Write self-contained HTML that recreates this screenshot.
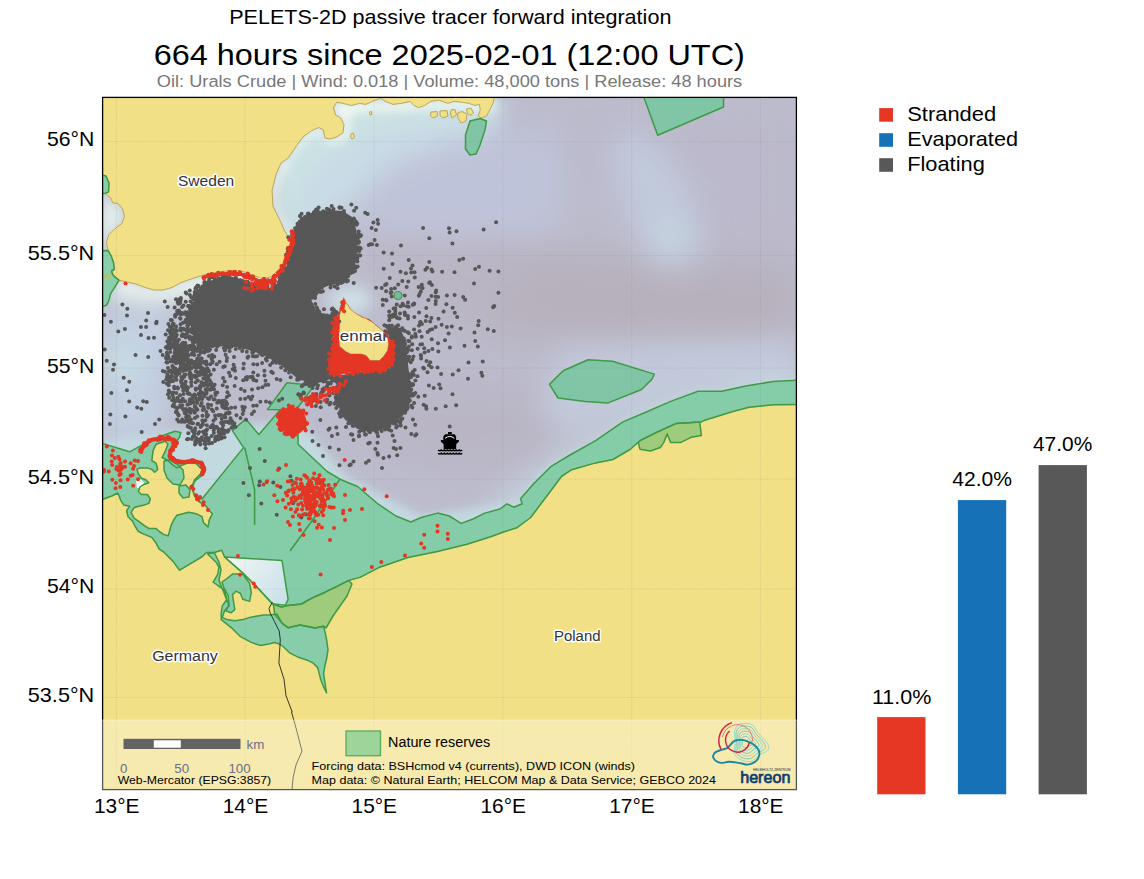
<!DOCTYPE html>
<html><head><meta charset="utf-8"><title>PELETS-2D</title>
<style>html,body{margin:0;padding:0;background:#fff;overflow:hidden;}svg{display:block;}</style>
</head><body>
<svg width="1144" height="879" viewBox="0 0 1144 879" font-family='"Liberation Sans", sans-serif'>
<rect width="100%" height="100%" fill="#fff"/>
<text x="229.2" y="23.8" font-size="19.8" fill="#000" text-anchor="start" textLength="442.2" lengthAdjust="spacingAndGlyphs" >PELETS-2D passive tracer forward integration</text>
<text x="153.7" y="65.2" font-size="30.4" fill="#000" text-anchor="start" textLength="591.2" lengthAdjust="spacingAndGlyphs" >664 hours since 2025-02-01 (12:00 UTC)</text>
<text x="156.8" y="86.6" font-size="16.3" fill="#777" text-anchor="start" textLength="585.4" lengthAdjust="spacingAndGlyphs" >Oil: Urals Crude | Wind: 0.018 | Volume: 48,000 tons | Release: 48 hours</text>
<defs><filter id="blur20" x="-50%" y="-50%" width="200%" height="200%"><feGaussianBlur stdDeviation="20"/></filter><filter id="blur14" x="-50%" y="-50%" width="200%" height="200%"><feGaussianBlur stdDeviation="14"/></filter><filter id="blur8" x="-50%" y="-50%" width="200%" height="200%"><feGaussianBlur stdDeviation="8"/></filter><filter id="blur4" x="-50%" y="-50%" width="200%" height="200%"><feGaussianBlur stdDeviation="4"/></filter><clipPath id="mapclip"><rect x="102.5" y="97.5" width="694" height="692"/></clipPath></defs>
<g clip-path="url(#mapclip)">
<rect x="100" y="95" width="700" height="700" fill="#bcbccd"/>
<g filter="url(#blur20)">
<polygon points="430,245 560,250 800,265 800,350 700,352 600,345 520,338 430,322" fill="#b7b1bc"/>
<polygon points="560,120 800,105 800,265 720,250 650,205 585,175" fill="#bbb9cb"/>
<polygon points="365,395 470,382 560,398 600,420 560,452 480,468 400,460 360,440" fill="#b9b5c4"/>
<polygon points="380,200 480,200 540,250 480,320 400,300 370,260" fill="#bab6c4"/>
</g>
<g filter="url(#blur14)">
<polygon points="360,140 560,130 560,230 440,240 360,230" fill="#bfc3d9"/>
<polygon points="280,100 500,100 500,128 440,145 390,165 360,195 330,235 300,258 280,258" fill="#c9dce6"/>
<polygon points="615,130 650,135 690,185 705,245 685,270 650,262 628,215 610,165" fill="#c1c9dc"/>
<circle cx="670" cy="236" r="13" fill="#c8dbe2"/>
<polygon points="100,305 175,300 165,440 100,440" fill="#c3d0e2"/>
<ellipse cx="118" cy="362" rx="20" ry="14" fill="#c8e2e4"/>
<polygon points="480,520 560,455 650,405 800,372 800,394 700,402 620,432 560,472 505,532" fill="#c8dce2"/>
<polygon points="560,350 640,345 800,338 800,372 650,398 590,425 560,440 540,400" fill="#c2c9dc"/>
</g>
<g filter="url(#blur8)">
<polygon points="292,245 290,225 282,205 276,185 280,165 292,150 305,135 320,128 333,136 343,130 336,112 337,100 500,100 495,118 470,120 440,122 400,125 370,130 352,142 332,152 316,165 302,185 298,205 300,225 300,245" fill="#cbe2e3"/>
<polygon points="110,282 160,292 200,279 240,272 275,278 290,250 300,255 285,285 250,295 200,298 150,305 112,300" fill="#e0eeea"/>
<polygon points="100,192 118,202 128,218 116,232 108,246 106,252 100,252" fill="#e6f2ee"/>
<ellipse cx="350" cy="300" rx="22" ry="13" fill="#d0e2e8"/>
</g>
<g filter="url(#blur4)">
<polygon points="290.5,240 285,231.5 279.8,220 273,206.5 272,190.6 276,174.6 281,163 288.4,158 296.8,145.3 303,137 311.5,130.7 318.8,127.5 323,129.6 325,138 330.3,139 336.6,137 343,132.8 344,124.4 340.8,118 335.6,115 333.5,107.6 336.6,102.3 495,100 495,110 470,110 440,109 400,111 362,112 350,116 350,136 340,143 328,144 318,134 312,137 304,144 297,152 288,165 281,178 277,192 278,206 284,219 290,231 294,240" fill="#eef6f1"/>
<polygon points="118,281 160,291 200,277 240,271 270,279 262,286 230,282 200,286 160,297 120,290" fill="#ecf4ef"/>
</g>
<g filter="url(#blur4)">
<polygon points="100,440 180,430 240,425 300,420 345,475 420,515 500,505 520,503 534,483 551,466 568,456 595,440 623,422 647,412 671,401 698,391 722,391 746,386 773,381.6 800,380 800,800 100,800" fill="#c2d9e0"/>
</g>
<polygon points="643.0,95.0 723.5,95.0 723.5,107.0 657.7,135.3" fill="#b8d6d2" />
<polygon points="470.0,121.0 480.0,118.5 486.5,121.0 485.0,130.0 480.0,145.0 476.0,154.0 470.0,155.0 465.5,149.0 465.5,135.0" fill="#b8d6d2" />
<polygon points="549.5,384.4 563.1,370.7 588.0,359.8 612.6,361.2 654.3,374.1 651.9,379.2 641.6,389.5 607.5,403.1 585.3,401.4 558.0,398.0" fill="#b8d6d2" />
<polygon points="267.4,409.6 287.0,382.8 314.3,385.4 296.0,410.0" fill="#b8d6d2" />
<polygon points="100.0,442.7 129.6,451.8 152.3,439.3 175.0,431.3 180.8,432.4 179.6,437.0 176.0,442.0 171.0,450.0 170.0,456.0 174.0,460.5 182.8,462.0 194.6,461.2 202.0,463.4 204.3,469.4 202.0,475.3 195.0,481.0 192.0,488.0 195.0,496.0 202.0,499.0 243.5,447.6 232.4,430.6 245.7,419.1 258.9,434.5 280.0,410.0 298.0,410.0 298.1,444.2 327.1,471.5 340.0,479.2 357.6,486.5 378.3,504.2 396.0,516.0 410.8,522.0 421.2,517.5 437.5,513.1 449.3,516.0 461.1,523.4 473.0,519.0 484.8,513.1 500.0,509.0 506.8,503.8 513.7,507.2 522.2,503.8 520.5,498.7 534.1,483.3 551.2,466.3 568.3,456.0 595.6,440.7 622.9,421.9 646.8,411.7 670.6,401.4 698.0,391.2 721.8,391.2 745.7,386.0 773.0,381.6 800.0,380.0 800.0,404.5 773.0,404.8 749.1,407.2 732.1,411.7 704.8,420.2 701.4,421.9 675.8,423.6 657.0,432.1 640.0,440.7 630.0,449.5 613.0,459.5 595.6,462.9 571.7,469.7 561.4,476.5 551.2,490.2 541.0,503.8 530.7,517.5 517.0,527.7 505.0,531.5 490.7,536.8 467.0,544.2 437.5,551.5 407.9,557.5 378.3,567.8 360.0,577.4 348.8,580.4 337.0,586.3 325.1,592.2 311.8,598.1 301.4,604.0 288.1,605.5 281.5,607.1 272.4,603.7 258.7,589.0 242.8,573.0 224.6,557.0 221.7,550.2 214.3,552.5 206.4,552.5 202.4,556.5 191.0,563.3 179.6,570.2 172.8,561.1 163.7,552.0 159.2,549.2 156.2,543.3 151.8,537.4 144.4,534.4 138.4,531.5 135.5,527.0 132.5,521.1 128.1,516.7 126.6,510.8 129.6,506.3 123.7,504.9 120.7,500.4 119.2,496.0 117.7,493.0 111.8,496.0 100.0,500.4" fill="#bfe2d6" />
<polygon points="100.0,250.8 108.0,250.4 111.2,255.9 113.5,262.3 114.3,269.5 112.0,270.3 111.6,271.9 113.5,275.9 119.1,280.2 114.3,287.8 110.4,294.2 108.8,300.6 106.4,305.3 100.0,307.3" fill="#c8e6dc" />
<polygon points="100.0,174.5 106.0,176.0 109.0,183.0 108.5,192.0 104.0,193.6 100.0,193.0" fill="#c8e6dc" />
<polygon points="643.0,95.0 723.5,95.0 723.5,107.0 657.7,135.3" fill="#3cb371" fill-opacity="0.45"/>
<polygon points="470.0,121.0 480.0,118.5 486.5,121.0 485.0,130.0 480.0,145.0 476.0,154.0 470.0,155.0 465.5,149.0 465.5,135.0" fill="#3cb371" fill-opacity="0.45"/>
<polygon points="549.5,384.4 563.1,370.7 588.0,359.8 612.6,361.2 654.3,374.1 651.9,379.2 641.6,389.5 607.5,403.1 585.3,401.4 558.0,398.0" fill="#3cb371" fill-opacity="0.45"/>
<polygon points="267.4,409.6 287.0,382.8 314.3,385.4 296.0,410.0" fill="#3cb371" fill-opacity="0.45"/>
<polygon points="100.0,442.7 129.6,451.8 152.3,439.3 175.0,431.3 180.8,432.4 179.6,437.0 176.0,442.0 171.0,450.0 170.0,456.0 174.0,460.5 182.8,462.0 194.6,461.2 202.0,463.4 204.3,469.4 202.0,475.3 195.0,481.0 192.0,488.0 195.0,496.0 202.0,499.0 243.5,447.6 232.4,430.6 245.7,419.1 258.9,434.5 280.0,410.0 298.0,410.0 298.1,444.2 327.1,471.5 340.0,479.2 357.6,486.5 378.3,504.2 396.0,516.0 410.8,522.0 421.2,517.5 437.5,513.1 449.3,516.0 461.1,523.4 473.0,519.0 484.8,513.1 500.0,509.0 506.8,503.8 513.7,507.2 522.2,503.8 520.5,498.7 534.1,483.3 551.2,466.3 568.3,456.0 595.6,440.7 622.9,421.9 646.8,411.7 670.6,401.4 698.0,391.2 721.8,391.2 745.7,386.0 773.0,381.6 800.0,380.0 800.0,404.5 773.0,404.8 749.1,407.2 732.1,411.7 704.8,420.2 701.4,421.9 675.8,423.6 657.0,432.1 640.0,440.7 630.0,449.5 613.0,459.5 595.6,462.9 571.7,469.7 561.4,476.5 551.2,490.2 541.0,503.8 530.7,517.5 517.0,527.7 505.0,531.5 490.7,536.8 467.0,544.2 437.5,551.5 407.9,557.5 378.3,567.8 360.0,577.4 348.8,580.4 337.0,586.3 325.1,592.2 311.8,598.1 301.4,604.0 288.1,605.5 281.5,607.1 272.4,603.7 258.7,589.0 242.8,573.0 224.6,557.0 221.7,550.2 214.3,552.5 206.4,552.5 202.4,556.5 191.0,563.3 179.6,570.2 172.8,561.1 163.7,552.0 159.2,549.2 156.2,543.3 151.8,537.4 144.4,534.4 138.4,531.5 135.5,527.0 132.5,521.1 128.1,516.7 126.6,510.8 129.6,506.3 123.7,504.9 120.7,500.4 119.2,496.0 117.7,493.0 111.8,496.0 100.0,500.4" fill="#3cb371" fill-opacity="0.45"/>
<polygon points="100.0,250.8 108.0,250.4 111.2,255.9 113.5,262.3 114.3,269.5 112.0,270.3 111.6,271.9 113.5,275.9 119.1,280.2 114.3,287.8 110.4,294.2 108.8,300.6 106.4,305.3 100.0,307.3" fill="#3cb371" fill-opacity="0.45"/>
<polygon points="100.0,174.5 106.0,176.0 109.0,183.0 108.5,192.0 104.0,193.6 100.0,193.0" fill="#3cb371" fill-opacity="0.45"/>
<polygon points="102.0,95.0 495.0,95.0 493.0,103.4 489.8,109.7 486.6,116.0 481.4,118.0 478.2,116.0 480.3,109.7 479.3,104.4 475.0,105.5 468.8,103.4 462.5,102.3 454.0,101.3 447.8,103.4 439.4,100.2 431.0,101.3 424.7,105.5 418.5,107.6 414.0,105.5 410.0,101.3 401.7,103.4 393.0,104.4 385.0,101.3 380.7,98.1 378.6,99.2 372.3,101.3 366.0,104.4 359.7,103.4 351.3,105.5 343.0,103.4 336.6,102.3 333.5,107.6 335.6,115.0 340.8,118.0 344.0,124.4 343.0,132.8 336.6,137.0 330.3,139.0 325.0,138.0 323.0,129.6 318.8,127.5 311.5,130.7 303.0,137.0 296.8,145.3 288.4,158.0 281.0,163.0 276.0,174.6 272.0,190.6 273.0,206.5 279.8,220.0 285.0,231.5 290.5,240.0 290.0,250.0 285.0,260.0 279.0,269.0 271.0,277.0 262.0,278.5 255.0,276.0 245.0,272.0 235.0,270.5 220.0,271.5 207.0,274.0 194.0,278.0 181.0,282.5 172.0,287.5 163.0,290.0 154.0,290.0 145.0,287.5 136.0,284.0 127.0,282.0 119.1,280.2 116.0,277.5 112.0,272.7 114.3,269.5 113.5,262.3 111.2,255.9 108.0,250.4 106.4,241.8 109.0,234.5 114.5,229.0 121.8,223.6 124.5,216.4 122.7,209.0 118.2,203.6 112.7,202.7 110.9,198.2 105.5,193.6 108.5,192.0 109.0,183.0 106.0,176.0 100.0,174.5" fill="#f1e086" stroke="#b9a75e" stroke-width="1" stroke-linejoin="round"/>
<polygon points="431.0,112.0 437.0,111.5 437.5,116.0 433.0,118.0 430.5,116.0" fill="#f1e086" stroke="#b9a75e" stroke-width="1" stroke-linejoin="round"/>
<polygon points="440.0,111.0 447.0,110.5 448.0,116.0 443.0,118.0 440.0,115.5" fill="#f1e086" stroke="#b9a75e" stroke-width="1" stroke-linejoin="round"/>
<polygon points="451.0,110.0 455.0,109.5 456.5,115.0 452.0,118.0 450.5,114.0" fill="#f1e086" stroke="#b9a75e" stroke-width="1" stroke-linejoin="round"/>
<polygon points="457.5,113.0 462.0,111.5 467.0,114.0 466.0,121.0 461.0,123.0 458.0,118.0" fill="#f1e086" stroke="#b9a75e" stroke-width="1" stroke-linejoin="round"/>
<polygon points="466.5,109.0 471.0,108.0 473.5,113.0 470.0,115.5 467.5,113.0" fill="#f1e086" stroke="#b9a75e" stroke-width="1" stroke-linejoin="round"/>
<polygon points="351.0,134.0 353.5,133.0 354.5,137.5 352.0,139.0 350.5,137.0" fill="#f1e086" stroke="#b9a75e" stroke-width="1" stroke-linejoin="round"/>
<polygon points="369.5,112.0 371.5,111.5 372.0,114.5 370.0,115.0" fill="#f1e086" stroke="#b9a75e" stroke-width="1" stroke-linejoin="round"/>
<polygon points="100.0,500.4 111.8,496.0 117.7,493.0 119.2,496.0 120.7,500.4 123.7,504.9 129.6,506.3 126.6,510.8 128.1,516.7 132.5,521.1 135.5,527.0 138.4,531.5 144.4,534.4 151.8,537.4 156.2,543.3 159.2,549.2 163.7,552.0 172.8,561.1 179.6,570.2 191.0,563.3 202.4,556.5 206.4,552.5 214.3,552.5 221.7,550.2 224.6,557.0 242.8,573.0 258.7,589.0 272.4,603.7 281.5,607.1 288.1,605.5 301.4,604.0 311.8,598.1 325.1,592.2 337.0,586.3 348.8,580.4 360.0,577.4 378.3,567.8 407.9,557.5 437.5,551.5 467.0,544.2 490.7,536.8 505.0,531.5 517.0,527.7 530.7,517.5 541.0,503.8 551.2,490.2 561.4,476.5 571.7,469.7 595.6,462.9 613.0,459.5 630.0,449.5 640.0,440.7 657.0,432.1 675.8,423.6 701.4,421.9 704.8,420.2 732.1,411.7 749.1,407.2 773.0,404.8 800.0,404.5 800.0,800.0 100.0,800.0" fill="#f1e086" stroke="#b9a75e" stroke-width="1" stroke-linejoin="round"/>
<polygon points="151.8,460.5 153.2,450.1 156.2,444.2 165.1,441.3 168.0,444.2 165.1,451.6 162.1,457.5 168.0,460.5 172.5,464.9 176.9,467.9 182.8,464.9 188.7,462.7 196.1,463.4 202.0,469.4 200.6,473.8 194.6,479.7 191.7,487.1 194.6,496.0 199.1,501.9 205.0,504.9 209.4,510.8 212.4,513.7 209.4,519.6 208.0,527.0 203.5,522.6 202.0,516.7 196.1,513.7 188.7,512.3 182.8,513.7 176.9,515.2 173.9,519.6 171.0,525.6 169.5,531.5 168.0,535.9 163.6,534.4 159.2,531.5 156.2,528.5 148.8,528.5 144.4,525.6 138.4,521.1 134.0,518.2 131.1,512.3 134.0,507.8 138.4,506.3 144.4,504.9 148.8,503.4 150.3,498.9 147.3,494.5 141.4,494.5 138.4,491.5 139.9,487.1 144.4,484.2 148.8,482.7 145.8,479.7 141.4,478.2 138.4,473.8 137.0,469.4 139.9,467.9 147.3,467.9 151.8,469.4 154.7,472.3 157.7,469.4 156.2,463.4" fill="#f1e086" stroke="#b9a75e" stroke-width="1" stroke-linejoin="round"/>
<polygon points="100.0,273.5 108.0,272.7 111.2,275.0 112.5,278.2 108.0,279.8 100.0,280.6" fill="#f1e086" />
<polygon points="343.5,297.7 345.6,301.3 350.7,309.5 355.8,313.5 363.0,317.6 369.1,319.2 372.2,321.7 375.3,324.8 380.4,328.9 383.0,331.0 387.6,338.1 388.6,344.3 387.6,350.4 383.5,356.5 379.4,360.6 370.2,360.6 366.1,355.5 361.0,354.0 350.7,354.0 345.6,351.4 339.5,346.3 338.9,338.1 339.5,325.8 339.5,315.6 341.5,307.4 343.0,300.2" fill="#f1e086" stroke="#b9a75e" stroke-width="1" stroke-linejoin="round"/>
<polygon points="207.5,554.0 214.3,552.5 219.0,562.0 221.0,570.0 219.0,580.0 222.0,588.0 226.0,598.0 229.1,606.0 224.6,610.5 222.3,617.4 226.9,619.6 234.8,620.8 242.8,619.6 249.6,617.4 263.3,615.0 269.0,615.0 276.9,614.0 282.2,623.3 288.1,627.7 300.0,625.0 315.0,628.0 323.6,626.2 325.0,632.0 326.6,639.5 328.0,649.9 326.6,658.8 325.1,664.7 323.6,673.6 325.8,688.3 326.6,692.8 323.6,686.9 320.7,679.5 319.2,673.6 317.7,667.6 313.3,663.2 307.3,660.2 298.5,657.3 289.6,652.8 283.7,647.0 279.2,644.0 274.8,642.5 268.9,644.0 260.0,645.4 251.2,642.4 240.5,636.7 232.5,628.7 226.9,624.2 221.2,619.6 221.2,612.8 222.3,606.0 226.9,599.2 224.6,590.0 217.8,585.5 213.2,582.1 217.8,574.1 218.9,567.3 216.6,562.8" fill="#87cda9" />
<polygon points="226.9,578.7 232.5,574.1 242.8,574.1 249.6,583.2 251.3,592.3 249.6,601.4 242.8,599.2 240.5,593.5 236.0,591.2 232.5,594.6 233.7,602.6 234.8,609.4 231.4,612.8 226.0,611.0 229.0,604.0 228.0,595.0 224.0,588.0 222.0,582.0" fill="#87cda9" />
<polygon points="164.0,461.0 170.0,460.0 177.0,464.0 183.0,470.0 184.0,478.0 180.0,485.0 173.0,484.0 167.0,478.0 164.0,470.0" fill="#87cda9" />
<polygon points="179.0,486.0 186.0,485.0 190.0,490.0 189.0,497.0 183.0,498.0 179.0,493.0" fill="#87cda9" />
<polygon points="136.0,481.0 141.0,479.0 144.0,483.0 142.0,488.0 137.0,488.0" fill="#f4f8f4" />
<polygon points="638.2,442.4 640.0,449.2 650.2,451.0 660.4,447.5 663.8,442.4 667.2,433.9 670.6,442.4 680.9,442.4 691.1,437.3 701.4,435.6 699.7,421.9 675.8,423.6 657.0,432.1 640.0,440.7" fill="#3cb371" fill-opacity="0.45"/>
<polygon points="273.3,604.0 288.1,605.5 301.4,604.0 311.8,598.1 325.1,592.2 337.0,586.3 348.8,580.4 352.0,584.0 347.0,596.0 340.0,606.0 333.0,616.0 326.0,628.0 323.6,626.2 315.0,628.0 300.0,625.0 288.1,627.7 282.2,623.3 274.8,614.4" fill="#3cb371" fill-opacity="0.45"/>
<polygon points="100.0,273.5 108.0,272.7 111.2,275.0 112.5,278.2 108.0,279.8 100.0,280.6" fill="#3cb371" fill-opacity="0.45"/>
<defs><linearGradient id="wh" gradientUnits="userSpaceOnUse" x1="228" y1="558" x2="288" y2="600"><stop offset="0" stop-color="#f0f7f2"/><stop offset="0.5" stop-color="#dcebee"/><stop offset="1" stop-color="#c9e0e8"/></linearGradient></defs>
<polygon points="224.6,557.0 282.0,560.5 288.1,599.4 284.9,606.0 281.5,607.1 272.4,603.7 258.7,589.0 242.8,573.0" fill="url(#wh)" />
<polygon points="643.0,95.0 723.5,95.0 723.5,107.0 657.7,135.3" fill="none" stroke="#3f9a45" stroke-width="1.5" stroke-linejoin="round"/>
<polygon points="470.0,121.0 480.0,118.5 486.5,121.0 485.0,130.0 480.0,145.0 476.0,154.0 470.0,155.0 465.5,149.0 465.5,135.0" fill="none" stroke="#3f9a45" stroke-width="1.5" stroke-linejoin="round"/>
<polygon points="549.5,384.4 563.1,370.7 588.0,359.8 612.6,361.2 654.3,374.1 651.9,379.2 641.6,389.5 607.5,403.1 585.3,401.4 558.0,398.0" fill="none" stroke="#3f9a45" stroke-width="1.5" stroke-linejoin="round"/>
<polygon points="267.4,409.6 287.0,382.8 314.3,385.4 296.0,410.0" fill="none" stroke="#3f9a45" stroke-width="1.5" stroke-linejoin="round"/>
<polygon points="100.0,442.7 129.6,451.8 152.3,439.3 175.0,431.3 180.8,432.4 179.6,437.0 176.0,442.0 171.0,450.0 170.0,456.0 174.0,460.5 182.8,462.0 194.6,461.2 202.0,463.4 204.3,469.4 202.0,475.3 195.0,481.0 192.0,488.0 195.0,496.0 202.0,499.0 243.5,447.6 232.4,430.6 245.7,419.1 258.9,434.5 280.0,410.0 298.0,410.0 298.1,444.2 327.1,471.5 340.0,479.2 357.6,486.5 378.3,504.2 396.0,516.0 410.8,522.0 421.2,517.5 437.5,513.1 449.3,516.0 461.1,523.4 473.0,519.0 484.8,513.1 500.0,509.0 506.8,503.8 513.7,507.2 522.2,503.8 520.5,498.7 534.1,483.3 551.2,466.3 568.3,456.0 595.6,440.7 622.9,421.9 646.8,411.7 670.6,401.4 698.0,391.2 721.8,391.2 745.7,386.0 773.0,381.6 800.0,380.0 800.0,404.5 773.0,404.8 749.1,407.2 732.1,411.7 704.8,420.2 701.4,421.9 675.8,423.6 657.0,432.1 640.0,440.7 630.0,449.5 613.0,459.5 595.6,462.9 571.7,469.7 561.4,476.5 551.2,490.2 541.0,503.8 530.7,517.5 517.0,527.7 505.0,531.5 490.7,536.8 467.0,544.2 437.5,551.5 407.9,557.5 378.3,567.8 360.0,577.4 348.8,580.4 337.0,586.3 325.1,592.2 311.8,598.1 301.4,604.0 288.1,605.5 281.5,607.1 272.4,603.7 258.7,589.0 242.8,573.0 224.6,557.0 221.7,550.2 214.3,552.5 206.4,552.5 202.4,556.5 191.0,563.3 179.6,570.2 172.8,561.1 163.7,552.0 159.2,549.2 156.2,543.3 151.8,537.4 144.4,534.4 138.4,531.5 135.5,527.0 132.5,521.1 128.1,516.7 126.6,510.8 129.6,506.3 123.7,504.9 120.7,500.4 119.2,496.0 117.7,493.0 111.8,496.0 100.0,500.4" fill="none" stroke="#3f9a45" stroke-width="1.5" stroke-linejoin="round"/>
<polygon points="100.0,250.8 108.0,250.4 111.2,255.9 113.5,262.3 114.3,269.5 112.0,270.3 111.6,271.9 113.5,275.9 119.1,280.2 114.3,287.8 110.4,294.2 108.8,300.6 106.4,305.3 100.0,307.3" fill="none" stroke="#3f9a45" stroke-width="1.5" stroke-linejoin="round"/>
<polygon points="100.0,174.5 106.0,176.0 109.0,183.0 108.5,192.0 104.0,193.6 100.0,193.0" fill="none" stroke="#3f9a45" stroke-width="1.5" stroke-linejoin="round"/>
<polygon points="638.2,442.4 640.0,449.2 650.2,451.0 660.4,447.5 663.8,442.4 667.2,433.9 670.6,442.4 680.9,442.4 691.1,437.3 701.4,435.6 699.7,421.9 675.8,423.6 657.0,432.1 640.0,440.7" fill="none" stroke="#3f9a45" stroke-width="1.5" stroke-linejoin="round"/>
<polygon points="151.8,460.5 153.2,450.1 156.2,444.2 165.1,441.3 168.0,444.2 165.1,451.6 162.1,457.5 168.0,460.5 172.5,464.9 176.9,467.9 182.8,464.9 188.7,462.7 196.1,463.4 202.0,469.4 200.6,473.8 194.6,479.7 191.7,487.1 194.6,496.0 199.1,501.9 205.0,504.9 209.4,510.8 212.4,513.7 209.4,519.6 208.0,527.0 203.5,522.6 202.0,516.7 196.1,513.7 188.7,512.3 182.8,513.7 176.9,515.2 173.9,519.6 171.0,525.6 169.5,531.5 168.0,535.9 163.6,534.4 159.2,531.5 156.2,528.5 148.8,528.5 144.4,525.6 138.4,521.1 134.0,518.2 131.1,512.3 134.0,507.8 138.4,506.3 144.4,504.9 148.8,503.4 150.3,498.9 147.3,494.5 141.4,494.5 138.4,491.5 139.9,487.1 144.4,484.2 148.8,482.7 145.8,479.7 141.4,478.2 138.4,473.8 137.0,469.4 139.9,467.9 147.3,467.9 151.8,469.4 154.7,472.3 157.7,469.4 156.2,463.4" fill="none" stroke="#3f9a45" stroke-width="1.5" stroke-linejoin="round"/>
<polygon points="207.5,554.0 214.3,552.5 219.0,562.0 221.0,570.0 219.0,580.0 222.0,588.0 226.0,598.0 229.1,606.0 224.6,610.5 222.3,617.4 226.9,619.6 234.8,620.8 242.8,619.6 249.6,617.4 263.3,615.0 269.0,615.0 276.9,614.0 282.2,623.3 288.1,627.7 300.0,625.0 315.0,628.0 323.6,626.2 325.0,632.0 326.6,639.5 328.0,649.9 326.6,658.8 325.1,664.7 323.6,673.6 325.8,688.3 326.6,692.8 323.6,686.9 320.7,679.5 319.2,673.6 317.7,667.6 313.3,663.2 307.3,660.2 298.5,657.3 289.6,652.8 283.7,647.0 279.2,644.0 274.8,642.5 268.9,644.0 260.0,645.4 251.2,642.4 240.5,636.7 232.5,628.7 226.9,624.2 221.2,619.6 221.2,612.8 222.3,606.0 226.9,599.2 224.6,590.0 217.8,585.5 213.2,582.1 217.8,574.1 218.9,567.3 216.6,562.8" fill="none" stroke="#3f9a45" stroke-width="1.5" stroke-linejoin="round"/>
<polygon points="226.9,578.7 232.5,574.1 242.8,574.1 249.6,583.2 251.3,592.3 249.6,601.4 242.8,599.2 240.5,593.5 236.0,591.2 232.5,594.6 233.7,602.6 234.8,609.4 231.4,612.8 226.0,611.0 229.0,604.0 228.0,595.0 224.0,588.0 222.0,582.0" fill="none" stroke="#3f9a45" stroke-width="1.5" stroke-linejoin="round"/>
<polygon points="273.3,604.0 288.1,605.5 301.4,604.0 311.8,598.1 325.1,592.2 337.0,586.3 348.8,580.4 352.0,584.0 347.0,596.0 340.0,606.0 333.0,616.0 326.0,628.0 323.6,626.2 315.0,628.0 300.0,625.0 288.1,627.7 282.2,623.3 274.8,614.4" fill="none" stroke="#3f9a45" stroke-width="1.5" stroke-linejoin="round"/>
<polygon points="224.6,557.0 282.0,560.5 288.1,599.4 284.9,606.0 281.5,607.1 272.4,603.7 258.7,589.0 242.8,573.0" fill="none" stroke="#3f9a45" stroke-width="1.5" stroke-linejoin="round"/>
<polygon points="164.0,461.0 170.0,460.0 177.0,464.0 183.0,470.0 184.0,478.0 180.0,485.0 173.0,484.0 167.0,478.0 164.0,470.0" fill="none" stroke="#3f9a45" stroke-width="1.5" stroke-linejoin="round"/>
<polygon points="179.0,486.0 186.0,485.0 190.0,490.0 189.0,497.0 183.0,498.0 179.0,493.0" fill="none" stroke="#3f9a45" stroke-width="1.5" stroke-linejoin="round"/>
<polyline points="244.7,447.6 254.6,489.5 254.6,525" fill="none" stroke="#3f9a45" stroke-width="1.5" stroke-linejoin="round"/>
<polyline points="340,479 312.6,520 290,551" fill="none" stroke="#3f9a45" stroke-width="1.5" stroke-linejoin="round"/>
<circle cx="398" cy="295.5" r="4" fill="#3cb371" fill-opacity="0.5" stroke="#3f9a45" stroke-width="1.2"/>
<line x1="102" y1="141.6" x2="797" y2="141.6" stroke="#777" stroke-opacity="0.24" stroke-width="0.7" stroke-dasharray="1.4,1"/>
<line x1="102" y1="255.5" x2="797" y2="255.5" stroke="#777" stroke-opacity="0.24" stroke-width="0.7" stroke-dasharray="1.4,1"/>
<line x1="102" y1="368.1" x2="797" y2="368.1" stroke="#777" stroke-opacity="0.24" stroke-width="0.7" stroke-dasharray="1.4,1"/>
<line x1="102" y1="479.2" x2="797" y2="479.2" stroke="#777" stroke-opacity="0.24" stroke-width="0.7" stroke-dasharray="1.4,1"/>
<line x1="102" y1="588.9" x2="797" y2="588.9" stroke="#777" stroke-opacity="0.24" stroke-width="0.7" stroke-dasharray="1.4,1"/>
<line x1="102" y1="697.4" x2="797" y2="697.4" stroke="#777" stroke-opacity="0.24" stroke-width="0.7" stroke-dasharray="1.4,1"/>
<line x1="116.4" y1="97" x2="116.4" y2="790" stroke="#777" stroke-opacity="0.24" stroke-width="0.7" stroke-dasharray="1.4,1"/>
<line x1="245.2" y1="97" x2="245.2" y2="790" stroke="#777" stroke-opacity="0.24" stroke-width="0.7" stroke-dasharray="1.4,1"/>
<line x1="374.0" y1="97" x2="374.0" y2="790" stroke="#777" stroke-opacity="0.24" stroke-width="0.7" stroke-dasharray="1.4,1"/>
<line x1="502.9" y1="97" x2="502.9" y2="790" stroke="#777" stroke-opacity="0.24" stroke-width="0.7" stroke-dasharray="1.4,1"/>
<line x1="631.7" y1="97" x2="631.7" y2="790" stroke="#777" stroke-opacity="0.24" stroke-width="0.7" stroke-dasharray="1.4,1"/>
<line x1="760.5" y1="97" x2="760.5" y2="790" stroke="#777" stroke-opacity="0.24" stroke-width="0.7" stroke-dasharray="1.4,1"/>
<polyline points="272.4,602 269,608.3 270.1,612.8 274.6,621.9 279.2,631 280.3,640 278.9,663 284,679.3 286,695.7 292.2,712 291.5,712 296,728 302,751 296,765 293,778 292,790" fill="none" stroke="#222" stroke-width="0.9"/>
<text x="178.0" y="185.5" font-size="15.3" fill="#333" text-anchor="start" textLength="56.2" lengthAdjust="spacingAndGlyphs" stroke="#fff" stroke-width="3" stroke-linejoin="round" paint-order="stroke">Sweden</text>
<text x="152.2" y="660.6" font-size="15.3" fill="#333" text-anchor="start" textLength="65.6" lengthAdjust="spacingAndGlyphs" stroke="#fff" stroke-width="3" stroke-linejoin="round" paint-order="stroke">Germany</text>
<text x="554.0" y="640.9" font-size="15.3" fill="#333" text-anchor="start" textLength="46.5" lengthAdjust="spacingAndGlyphs" stroke="#fff" stroke-width="3" stroke-linejoin="round" paint-order="stroke">Poland</text>
<defs><clipPath id="bhclip"><polygon points="343.5,297.7 345.6,301.3 350.7,309.5 355.8,313.5 363.0,317.6 369.1,319.2 372.2,321.7 375.3,324.8 380.4,328.9 383.0,331.0 387.6,338.1 388.6,344.3 387.6,350.4 383.5,356.5 379.4,360.6 370.2,360.6 366.1,355.5 361.0,354.0 350.7,354.0 345.6,351.4 339.5,346.3 338.9,338.1 339.5,325.8 339.5,315.6 341.5,307.4 343.0,300.2"/></clipPath></defs>
<g clip-path="url(#bhclip)">
<text x="327.5" y="340.7" font-size="15.3" fill="#333" text-anchor="start" textLength="69.0" lengthAdjust="spacingAndGlyphs" stroke="#fff" stroke-width="3" stroke-linejoin="round" paint-order="stroke">Denmark</text>
</g>
<g fill="#575757"><polygon points="289.5,252.0 291.0,238.0 296.0,225.0 304.0,216.0 315.0,211.5 330.0,210.0 343.0,211.0 352.0,217.0 356.5,230.0 358.0,250.5 354.3,269.6 344.8,282.4 328.8,285.6 317.7,290.3 311.3,299.9 316.1,311.0 328.8,315.8 336.0,311.0 334.0,322.0 333.0,340.0 331.0,358.0 331.0,371.0 338.0,377.0 350.0,373.0 363.0,372.0 376.0,372.0 390.0,369.0 393.0,361.0 393.0,350.0 389.0,344.0 388.5,336.0 389.0,329.0 395.0,326.0 400.0,328.0 405.3,340.0 408.5,368.4 411.7,390.7 408.5,409.8 395.7,422.6 376.6,432.1 357.5,428.9 344.8,419.4 338.4,406.6 338.4,387.5 332.0,378.0 325.7,381.1 312.9,384.3 297.0,378.0 281.0,365.2 265.1,355.7 242.8,347.7 223.7,346.1 207.8,348.0 199.0,343.0 192.0,334.0 189.5,316.8 194.0,301.0 205.5,282.7 215.0,279.0 223.7,277.5 242.8,279.0 262.0,286.0 271.5,288.5 277.9,283.0 284.0,272.0 288.0,262.0"/><circle cx="339.0" cy="378.7" r="2.0"/><circle cx="329.0" cy="209.6" r="2.0"/><circle cx="316.8" cy="211.2" r="2.0"/><circle cx="396.2" cy="326.5" r="2.0"/><circle cx="389.4" cy="329.5" r="2.0"/><circle cx="311.4" cy="304.4" r="2.0"/><circle cx="365.9" cy="434.4" r="2.0"/><circle cx="308.4" cy="213.4" r="2.0"/><circle cx="357.4" cy="261.4" r="2.0"/><circle cx="197.1" cy="341.5" r="2.0"/><circle cx="336.6" cy="393.6" r="2.0"/><circle cx="323.1" cy="211.3" r="2.0"/><circle cx="308.7" cy="384.0" r="2.0"/><circle cx="360.9" cy="430.2" r="2.0"/><circle cx="212.6" cy="345.9" r="2.0"/><circle cx="368.7" cy="430.8" r="2.0"/><circle cx="270.1" cy="364.9" r="2.0"/><circle cx="354.0" cy="237.6" r="2.0"/><circle cx="354.2" cy="267.4" r="2.0"/><circle cx="321.4" cy="379.6" r="2.0"/><circle cx="200.9" cy="290.9" r="2.0"/><circle cx="353.0" cy="425.9" r="2.0"/><circle cx="191.9" cy="317.6" r="2.0"/><circle cx="327.8" cy="382.5" r="2.0"/><circle cx="340.2" cy="384.6" r="2.0"/><circle cx="330.5" cy="344.5" r="2.0"/><circle cx="292.4" cy="231.7" r="2.0"/><circle cx="360.1" cy="236.3" r="2.0"/><circle cx="357.7" cy="248.5" r="2.0"/><circle cx="202.0" cy="292.3" r="2.0"/><circle cx="396.8" cy="420.9" r="2.0"/><circle cx="196.0" cy="299.2" r="2.0"/><circle cx="372.8" cy="368.7" r="2.0"/><circle cx="355.6" cy="267.7" r="2.0"/><circle cx="319.1" cy="313.4" r="2.0"/><circle cx="336.1" cy="322.2" r="2.0"/><circle cx="374.3" cy="369.4" r="2.0"/><circle cx="298.7" cy="379.5" r="2.0"/><circle cx="318.0" cy="385.5" r="2.0"/><circle cx="229.0" cy="343.8" r="2.0"/><circle cx="392.2" cy="359.9" r="2.0"/><circle cx="339.1" cy="396.5" r="2.0"/><circle cx="315.0" cy="297.4" r="2.0"/><circle cx="313.7" cy="212.5" r="2.0"/><circle cx="353.1" cy="221.3" r="2.0"/><circle cx="200.7" cy="288.2" r="2.0"/><circle cx="334.6" cy="314.1" r="2.0"/><circle cx="360.9" cy="235.3" r="2.0"/><circle cx="405.8" cy="352.2" r="2.0"/><circle cx="352.7" cy="222.9" r="2.0"/><circle cx="191.4" cy="329.0" r="2.0"/><circle cx="266.5" cy="287.3" r="2.0"/><circle cx="401.0" cy="420.1" r="2.0"/><circle cx="286.3" cy="269.0" r="2.0"/><circle cx="333.4" cy="321.6" r="2.0"/><circle cx="230.6" cy="346.3" r="2.0"/><circle cx="342.9" cy="379.2" r="2.0"/><circle cx="288.7" cy="262.8" r="2.0"/><circle cx="194.6" cy="336.1" r="2.0"/><circle cx="409.8" cy="400.4" r="2.0"/><circle cx="295.1" cy="228.2" r="2.0"/><circle cx="301.8" cy="378.5" r="2.0"/><circle cx="260.1" cy="283.1" r="2.0"/><circle cx="374.8" cy="373.4" r="2.0"/><circle cx="322.8" cy="291.2" r="2.0"/><circle cx="222.9" cy="275.9" r="2.0"/><circle cx="333.7" cy="379.4" r="2.0"/><circle cx="330.9" cy="378.1" r="2.0"/><circle cx="252.5" cy="351.8" r="2.0"/><circle cx="216.2" cy="349.9" r="2.0"/><circle cx="279.6" cy="278.2" r="2.0"/><circle cx="263.6" cy="285.3" r="2.0"/><circle cx="360.1" cy="247.9" r="2.0"/><circle cx="204.8" cy="348.0" r="2.0"/><circle cx="283.9" cy="268.2" r="2.0"/><circle cx="395.0" cy="423.3" r="2.0"/><circle cx="279.5" cy="275.6" r="2.0"/><circle cx="248.5" cy="284.1" r="2.0"/><circle cx="192.0" cy="332.6" r="2.0"/><circle cx="332.0" cy="353.0" r="2.0"/><circle cx="333.6" cy="319.6" r="2.0"/><circle cx="229.4" cy="279.8" r="2.0"/><circle cx="366.2" cy="428.9" r="2.0"/><circle cx="235.4" cy="278.6" r="2.0"/><circle cx="411.4" cy="405.7" r="2.0"/><circle cx="337.6" cy="284.6" r="2.0"/><circle cx="340.8" cy="283.1" r="2.0"/><circle cx="387.1" cy="428.5" r="2.0"/><circle cx="389.2" cy="425.0" r="2.0"/><circle cx="385.0" cy="429.5" r="2.0"/><circle cx="231.2" cy="346.8" r="2.0"/><circle cx="246.9" cy="347.4" r="2.0"/><circle cx="340.5" cy="415.4" r="2.0"/><circle cx="297.1" cy="379.7" r="2.0"/><circle cx="410.8" cy="362.2" r="2.0"/><circle cx="204.1" cy="286.7" r="2.0"/><circle cx="389.2" cy="426.3" r="2.0"/><circle cx="358.9" cy="255.2" r="2.0"/><circle cx="331.0" cy="210.9" r="2.0"/><circle cx="321.0" cy="378.3" r="2.0"/><circle cx="353.6" cy="266.8" r="2.0"/><circle cx="360.2" cy="255.6" r="2.0"/><circle cx="315.3" cy="304.1" r="2.0"/><circle cx="412.8" cy="371.7" r="2.0"/><circle cx="348.2" cy="275.9" r="2.0"/><circle cx="351.3" cy="374.6" r="2.0"/><circle cx="279.8" cy="363.3" r="2.0"/><circle cx="402.4" cy="329.5" r="2.0"/><circle cx="337.7" cy="405.8" r="2.0"/><circle cx="287.8" cy="260.4" r="2.0"/><circle cx="354.3" cy="224.5" r="2.0"/><circle cx="227.3" cy="347.5" r="2.0"/><circle cx="391.9" cy="330.6" r="2.0"/><circle cx="337.3" cy="322.0" r="2.0"/><circle cx="376.0" cy="431.2" r="2.0"/><circle cx="316.2" cy="209.4" r="2.0"/><circle cx="333.5" cy="209.0" r="2.0"/><circle cx="209.9" cy="349.3" r="2.0"/><circle cx="326.9" cy="208.8" r="2.0"/><circle cx="346.4" cy="371.4" r="2.0"/><circle cx="335.4" cy="328.7" r="2.0"/><circle cx="327.1" cy="315.6" r="2.0"/><circle cx="311.1" cy="214.9" r="2.0"/><circle cx="331.1" cy="360.0" r="2.0"/><circle cx="411.5" cy="385.5" r="2.0"/><circle cx="292.1" cy="235.6" r="2.0"/><circle cx="267.2" cy="357.3" r="2.0"/><circle cx="408.5" cy="359.9" r="2.0"/><circle cx="192.3" cy="338.0" r="2.0"/><circle cx="188.6" cy="324.8" r="2.0"/><circle cx="305.7" cy="380.5" r="2.0"/><circle cx="190.0" cy="322.7" r="2.0"/><circle cx="391.4" cy="348.7" r="2.0"/><circle cx="360.7" cy="248.4" r="2.0"/><circle cx="335.6" cy="316.3" r="2.0"/><circle cx="191.6" cy="315.0" r="2.0"/><circle cx="333.1" cy="341.8" r="2.0"/><circle cx="407.2" cy="347.9" r="2.0"/><circle cx="339.2" cy="321.4" r="2.0"/><circle cx="396.2" cy="427.5" r="2.0"/><circle cx="330.9" cy="365.9" r="2.0"/><circle cx="387.7" cy="369.2" r="2.0"/><circle cx="318.1" cy="290.0" r="2.0"/><circle cx="335.6" cy="324.6" r="2.0"/><circle cx="305.0" cy="217.0" r="2.0"/><circle cx="319.2" cy="311.7" r="2.0"/><circle cx="251.6" cy="348.8" r="2.0"/><circle cx="202.6" cy="286.3" r="2.0"/><circle cx="288.3" cy="268.5" r="2.0"/><circle cx="342.1" cy="388.8" r="2.0"/><circle cx="211.7" cy="277.1" r="2.0"/><circle cx="199.8" cy="343.9" r="2.0"/><circle cx="413.1" cy="384.7" r="2.0"/><circle cx="187.9" cy="328.8" r="2.0"/><circle cx="307.6" cy="381.0" r="2.0"/><circle cx="298.1" cy="225.5" r="2.0"/><circle cx="355.7" cy="221.8" r="2.0"/><circle cx="336.3" cy="400.1" r="2.0"/><circle cx="412.9" cy="373.9" r="2.0"/><circle cx="252.9" cy="352.2" r="2.0"/><circle cx="332.0" cy="380.8" r="2.0"/><circle cx="337.1" cy="313.1" r="2.0"/><circle cx="272.4" cy="362.7" r="2.0"/><circle cx="281.1" cy="273.7" r="2.0"/><circle cx="406.7" cy="361.1" r="2.0"/><circle cx="340.5" cy="411.2" r="2.0"/><circle cx="355.5" cy="266.5" r="2.0"/><circle cx="330.7" cy="360.9" r="2.0"/><circle cx="319.5" cy="214.0" r="2.0"/><circle cx="299.2" cy="377.7" r="2.0"/><circle cx="408.1" cy="399.5" r="2.0"/><circle cx="358.0" cy="235.6" r="2.0"/><circle cx="284.5" cy="271.5" r="2.0"/><circle cx="408.2" cy="340.8" r="2.0"/><circle cx="403.8" cy="338.4" r="2.0"/><circle cx="263.4" cy="288.7" r="2.0"/><circle cx="351.7" cy="257.2" r="2.0"/><circle cx="358.9" cy="247.4" r="2.0"/><circle cx="209.1" cy="279.7" r="2.0"/><circle cx="218.8" cy="278.3" r="2.0"/><circle cx="287.7" cy="248.8" r="2.0"/><circle cx="332.2" cy="360.2" r="2.0"/><circle cx="331.8" cy="371.5" r="2.0"/><circle cx="253.7" cy="350.6" r="2.0"/><circle cx="244.8" cy="275.9" r="2.0"/><circle cx="330.8" cy="348.9" r="2.0"/><circle cx="287.7" cy="252.1" r="2.0"/><circle cx="390.6" cy="328.8" r="2.0"/><circle cx="354.3" cy="219.8" r="2.0"/><circle cx="253.9" cy="284.6" r="2.0"/><circle cx="411.9" cy="395.7" r="2.0"/><circle cx="274.9" cy="285.5" r="2.0"/><circle cx="342.5" cy="396.9" r="2.0"/><circle cx="394.1" cy="422.7" r="2.0"/><circle cx="265.8" cy="359.1" r="2.0"/><circle cx="337.8" cy="387.4" r="2.0"/><circle cx="247.7" cy="281.8" r="2.0"/><circle cx="354.0" cy="375.8" r="2.0"/><circle cx="283.2" cy="276.1" r="2.0"/><circle cx="329.2" cy="357.0" r="2.0"/><circle cx="347.8" cy="280.5" r="2.0"/><circle cx="225.5" cy="277.8" r="2.0"/><circle cx="229.4" cy="277.7" r="2.0"/><circle cx="357.2" cy="256.8" r="2.0"/><circle cx="354.6" cy="373.5" r="2.0"/><circle cx="330.9" cy="316.3" r="2.0"/><circle cx="252.4" cy="352.9" r="2.0"/><circle cx="407.8" cy="407.4" r="2.0"/><circle cx="320.3" cy="216.0" r="2.0"/><circle cx="354.7" cy="243.2" r="2.0"/><circle cx="196.2" cy="299.6" r="2.0"/><circle cx="332.5" cy="313.4" r="2.0"/><circle cx="272.7" cy="284.9" r="2.0"/><circle cx="296.4" cy="232.7" r="2.0"/><circle cx="214.8" cy="279.0" r="2.0"/><circle cx="286.0" cy="254.7" r="2.0"/><circle cx="195.0" cy="327.4" r="2.0"/><circle cx="335.2" cy="312.9" r="2.0"/><circle cx="407.4" cy="400.1" r="2.0"/><circle cx="275.5" cy="360.4" r="2.0"/><circle cx="405.2" cy="343.9" r="2.0"/><circle cx="224.8" cy="350.6" r="2.0"/><circle cx="337.0" cy="387.0" r="2.0"/><circle cx="333.8" cy="309.7" r="2.0"/><circle cx="358.7" cy="231.5" r="2.0"/><circle cx="363.9" cy="431.1" r="2.0"/><circle cx="351.6" cy="423.3" r="2.0"/><circle cx="408.9" cy="346.5" r="2.0"/><circle cx="205.4" cy="282.4" r="2.0"/><circle cx="336.2" cy="312.1" r="2.0"/><circle cx="333.3" cy="364.2" r="2.0"/><circle cx="314.2" cy="384.4" r="2.0"/><circle cx="323.3" cy="381.4" r="2.0"/><circle cx="297.5" cy="223.8" r="2.0"/><circle cx="309.5" cy="385.9" r="2.0"/><circle cx="262.1" cy="355.1" r="2.0"/><circle cx="279.0" cy="281.9" r="2.0"/><circle cx="320.1" cy="315.6" r="2.0"/><circle cx="333.9" cy="351.5" r="2.0"/><circle cx="330.5" cy="287.4" r="2.0"/><circle cx="324.9" cy="381.2" r="2.0"/><circle cx="394.2" cy="363.5" r="2.0"/><circle cx="357.2" cy="258.4" r="2.0"/><circle cx="396.3" cy="355.9" r="2.0"/><circle cx="273.4" cy="357.8" r="2.0"/><circle cx="343.7" cy="380.0" r="2.0"/><circle cx="260.0" cy="353.4" r="2.0"/><circle cx="386.2" cy="370.8" r="2.0"/><circle cx="347.6" cy="280.8" r="2.0"/><circle cx="363.2" cy="371.8" r="2.0"/><circle cx="278.4" cy="284.8" r="2.0"/><circle cx="193.8" cy="333.2" r="2.0"/><circle cx="307.7" cy="214.0" r="2.0"/><circle cx="240.2" cy="280.5" r="2.0"/><circle cx="220.6" cy="278.8" r="2.0"/><circle cx="198.5" cy="341.7" r="2.0"/><circle cx="303.2" cy="223.3" r="2.0"/><circle cx="334.9" cy="312.6" r="2.0"/><circle cx="350.0" cy="377.9" r="2.0"/><circle cx="340.7" cy="414.9" r="2.0"/><circle cx="332.0" cy="372.1" r="2.0"/><circle cx="251.3" cy="348.5" r="2.0"/><circle cx="262.1" cy="285.7" r="2.0"/><circle cx="412.4" cy="359.4" r="2.0"/><circle cx="391.7" cy="366.7" r="2.0"/><circle cx="411.0" cy="377.1" r="2.0"/><circle cx="205.5" cy="343.1" r="2.0"/><circle cx="231.8" cy="345.8" r="2.0"/><circle cx="332.0" cy="376.4" r="2.0"/><circle cx="338.1" cy="213.7" r="2.0"/><circle cx="333.9" cy="312.9" r="2.0"/><circle cx="388.9" cy="429.7" r="2.0"/><circle cx="208.2" cy="282.2" r="2.0"/><circle cx="343.7" cy="212.2" r="2.0"/><circle cx="285.3" cy="370.2" r="2.0"/><circle cx="386.4" cy="335.5" r="2.0"/><circle cx="257.3" cy="349.9" r="2.0"/><circle cx="358.1" cy="237.5" r="2.0"/><circle cx="377.2" cy="433.0" r="2.0"/><circle cx="319.9" cy="290.9" r="2.0"/><circle cx="356.5" cy="266.9" r="2.0"/><circle cx="334.3" cy="380.4" r="2.0"/><circle cx="412.1" cy="394.1" r="2.0"/><circle cx="334.2" cy="379.8" r="2.0"/><circle cx="409.2" cy="356.8" r="2.0"/><circle cx="236.4" cy="278.8" r="2.0"/><circle cx="359.0" cy="242.0" r="2.0"/><circle cx="366.4" cy="429.3" r="2.0"/><circle cx="196.0" cy="296.0" r="2.0"/><circle cx="229.5" cy="346.2" r="2.0"/><circle cx="352.6" cy="425.0" r="2.0"/><circle cx="379.2" cy="372.5" r="2.0"/><circle cx="332.9" cy="313.2" r="2.0"/><circle cx="318.6" cy="291.8" r="2.0"/><circle cx="312.7" cy="385.6" r="2.0"/><circle cx="317.5" cy="289.2" r="2.0"/><circle cx="323.9" cy="212.0" r="2.0"/><circle cx="392.9" cy="423.0" r="2.0"/><circle cx="348.4" cy="274.7" r="2.0"/><circle cx="331.1" cy="346.0" r="2.0"/><circle cx="329.3" cy="367.7" r="2.0"/><circle cx="393.1" cy="332.9" r="2.0"/><circle cx="374.8" cy="375.1" r="2.0"/><circle cx="321.0" cy="292.0" r="2.0"/><circle cx="389.7" cy="329.3" r="2.0"/><circle cx="204.9" cy="282.8" r="2.0"/><circle cx="288.3" cy="237.3" r="2.0"/><circle cx="232.9" cy="279.5" r="2.0"/><circle cx="379.2" cy="371.0" r="2.0"/><circle cx="328.3" cy="340.8" r="2.0"/><circle cx="352.0" cy="227.7" r="2.0"/><circle cx="279.4" cy="281.9" r="2.0"/><circle cx="262.8" cy="285.1" r="2.0"/><circle cx="315.0" cy="211.3" r="2.0"/><circle cx="222.6" cy="275.1" r="2.0"/><circle cx="351.3" cy="272.7" r="2.0"/><circle cx="394.0" cy="345.2" r="2.0"/><circle cx="334.6" cy="286.5" r="2.0"/><circle cx="409.3" cy="401.0" r="2.0"/><circle cx="332.5" cy="308.6" r="2.0"/><circle cx="299.9" cy="215.9" r="2.0"/><circle cx="301.7" cy="218.4" r="2.0"/><circle cx="348.4" cy="423.2" r="2.0"/><circle cx="328.7" cy="364.0" r="2.0"/><circle cx="387.8" cy="327.5" r="2.0"/><circle cx="402.2" cy="328.2" r="2.0"/><circle cx="409.6" cy="377.4" r="2.0"/><circle cx="225.3" cy="346.7" r="2.0"/><circle cx="408.2" cy="359.5" r="2.0"/><circle cx="394.6" cy="328.3" r="2.0"/><circle cx="414.0" cy="393.9" r="2.0"/><circle cx="339.6" cy="207.3" r="2.0"/><circle cx="413.3" cy="395.2" r="2.0"/><circle cx="387.8" cy="369.4" r="2.0"/><circle cx="196.7" cy="302.8" r="2.0"/><circle cx="198.6" cy="345.3" r="2.0"/><circle cx="413.9" cy="375.0" r="2.0"/><circle cx="349.4" cy="273.2" r="2.0"/><circle cx="322.4" cy="213.3" r="2.0"/><circle cx="353.1" cy="271.9" r="2.0"/><circle cx="197.7" cy="341.4" r="2.0"/><circle cx="240.3" cy="280.3" r="2.0"/><circle cx="411.3" cy="389.8" r="2.0"/><circle cx="337.5" cy="288.3" r="2.0"/><circle cx="311.8" cy="382.8" r="2.0"/><circle cx="223.8" cy="347.9" r="2.0"/><circle cx="335.8" cy="397.4" r="2.0"/><circle cx="385.6" cy="423.8" r="2.0"/><circle cx="357.2" cy="223.6" r="2.0"/><circle cx="393.5" cy="356.0" r="2.0"/><circle cx="286.5" cy="259.9" r="2.0"/><circle cx="239.7" cy="348.0" r="2.0"/><circle cx="263.0" cy="354.8" r="2.0"/><circle cx="331.8" cy="309.4" r="2.0"/><circle cx="361.3" cy="428.2" r="2.0"/><circle cx="290.8" cy="250.6" r="2.0"/><circle cx="339.2" cy="413.5" r="2.0"/><circle cx="218.2" cy="279.7" r="2.0"/><circle cx="333.5" cy="380.1" r="2.0"/><circle cx="367.0" cy="373.2" r="2.0"/><circle cx="312.8" cy="307.4" r="2.0"/><circle cx="314.8" cy="290.7" r="2.0"/><circle cx="359.2" cy="251.0" r="2.0"/><circle cx="357.6" cy="266.6" r="2.0"/><circle cx="200.5" cy="289.4" r="2.0"/><circle cx="336.8" cy="323.8" r="2.0"/><circle cx="381.6" cy="431.1" r="2.0"/><circle cx="404.8" cy="330.9" r="2.0"/><circle cx="334.8" cy="311.8" r="2.0"/><circle cx="405.1" cy="412.8" r="2.0"/><circle cx="317.8" cy="210.9" r="2.0"/><circle cx="393.9" cy="423.6" r="2.0"/><circle cx="317.7" cy="288.0" r="2.0"/><circle cx="338.9" cy="388.2" r="2.0"/><circle cx="330.8" cy="366.3" r="2.0"/><circle cx="212.4" cy="277.2" r="2.0"/><circle cx="292.0" cy="243.3" r="2.0"/><circle cx="406.5" cy="349.3" r="2.0"/><circle cx="316.9" cy="311.1" r="2.0"/><circle cx="299.8" cy="221.6" r="2.0"/><circle cx="299.2" cy="375.6" r="2.0"/><circle cx="331.8" cy="324.5" r="2.0"/><circle cx="217.1" cy="346.5" r="2.0"/><circle cx="339.8" cy="388.6" r="2.0"/><circle cx="206.0" cy="284.6" r="2.0"/><circle cx="324.0" cy="309.2" r="2.0"/><circle cx="255.3" cy="356.5" r="2.0"/><circle cx="341.6" cy="380.3" r="2.0"/><circle cx="337.4" cy="396.8" r="2.0"/><circle cx="280.7" cy="271.6" r="2.0"/><circle cx="296.9" cy="375.1" r="2.0"/><circle cx="273.7" cy="361.0" r="2.0"/><circle cx="311.8" cy="297.8" r="2.0"/><circle cx="231.7" cy="278.5" r="2.0"/><circle cx="356.6" cy="224.8" r="2.0"/><circle cx="357.1" cy="258.2" r="2.0"/><circle cx="297.5" cy="376.7" r="2.0"/><circle cx="267.9" cy="357.0" r="2.0"/><circle cx="374.9" cy="368.6" r="2.0"/><circle cx="217.1" cy="281.2" r="2.0"/><circle cx="235.7" cy="278.0" r="2.0"/><circle cx="316.0" cy="293.8" r="2.0"/><circle cx="192.1" cy="308.7" r="2.0"/><circle cx="190.6" cy="330.9" r="2.0"/><circle cx="355.6" cy="221.5" r="2.0"/><circle cx="315.1" cy="294.8" r="2.0"/><circle cx="292.9" cy="234.5" r="2.0"/><circle cx="281.1" cy="367.5" r="2.0"/><circle cx="273.8" cy="283.1" r="2.0"/><circle cx="342.5" cy="411.1" r="2.0"/><circle cx="398.1" cy="325.3" r="2.0"/><circle cx="289.0" cy="372.4" r="2.0"/><circle cx="198.7" cy="300.6" r="2.0"/><circle cx="346.7" cy="281.6" r="2.0"/><circle cx="243.3" cy="347.8" r="2.0"/><circle cx="405.9" cy="375.4" r="2.0"/><circle cx="330.9" cy="284.9" r="2.0"/><circle cx="190.5" cy="330.7" r="2.0"/><circle cx="333.5" cy="344.8" r="2.0"/><circle cx="412.7" cy="384.0" r="2.0"/><circle cx="339.5" cy="207.7" r="2.0"/><circle cx="218.7" cy="345.2" r="2.0"/><circle cx="389.7" cy="353.6" r="2.0"/><circle cx="343.9" cy="211.1" r="2.0"/><circle cx="315.0" cy="298.0" r="2.0"/><circle cx="407.8" cy="387.7" r="2.0"/><circle cx="319.6" cy="313.8" r="2.0"/><circle cx="250.0" cy="347.4" r="2.0"/><circle cx="358.9" cy="373.3" r="2.0"/><circle cx="188.2" cy="312.7" r="2.0"/><circle cx="342.6" cy="282.3" r="2.0"/><circle cx="369.9" cy="432.3" r="2.0"/><circle cx="208.1" cy="283.0" r="2.0"/><circle cx="329.9" cy="354.7" r="2.0"/><circle cx="355.0" cy="271.0" r="2.0"/><circle cx="338.3" cy="376.3" r="2.0"/><circle cx="342.9" cy="381.1" r="2.0"/><circle cx="276.1" cy="362.8" r="2.0"/><circle cx="349.1" cy="224.9" r="2.0"/><circle cx="212.4" cy="345.3" r="2.0"/><circle cx="321.8" cy="287.6" r="2.0"/><circle cx="314.8" cy="294.4" r="2.0"/><circle cx="393.8" cy="350.1" r="2.0"/><circle cx="409.3" cy="382.5" r="2.0"/><circle cx="354.9" cy="256.8" r="2.0"/><circle cx="263.6" cy="353.4" r="2.0"/><circle cx="373.2" cy="429.4" r="2.0"/><circle cx="316.8" cy="307.5" r="2.0"/><circle cx="230.8" cy="343.1" r="2.0"/><circle cx="309.6" cy="381.8" r="2.0"/><circle cx="330.4" cy="368.5" r="2.0"/><circle cx="389.2" cy="331.9" r="2.0"/><circle cx="338.4" cy="402.6" r="2.0"/><circle cx="404.1" cy="340.7" r="2.0"/><circle cx="316.0" cy="383.3" r="2.0"/><circle cx="333.0" cy="377.0" r="2.0"/><circle cx="409.9" cy="374.2" r="2.0"/><circle cx="400.3" cy="422.8" r="2.0"/><circle cx="257.4" cy="284.5" r="2.0"/><circle cx="369.6" cy="430.6" r="2.0"/><circle cx="408.6" cy="392.1" r="2.0"/><circle cx="405.4" cy="406.4" r="2.0"/><circle cx="312.5" cy="295.0" r="2.0"/><circle cx="246.8" cy="351.7" r="2.0"/><circle cx="367.5" cy="372.6" r="2.0"/><circle cx="395.1" cy="352.6" r="2.0"/><circle cx="388.0" cy="332.4" r="2.0"/><circle cx="334.4" cy="327.7" r="2.0"/><circle cx="256.3" cy="284.2" r="2.0"/><circle cx="205.6" cy="348.2" r="2.0"/><circle cx="358.3" cy="242.9" r="2.0"/><circle cx="335.9" cy="396.7" r="2.0"/><circle cx="317.6" cy="309.8" r="2.0"/><circle cx="339.9" cy="388.6" r="2.0"/><circle cx="406.2" cy="356.5" r="2.0"/><circle cx="358.4" cy="241.0" r="2.0"/><circle cx="191.6" cy="310.6" r="2.0"/><circle cx="334.4" cy="314.3" r="2.0"/><circle cx="289.5" cy="247.9" r="2.0"/><circle cx="330.9" cy="316.1" r="2.0"/><circle cx="389.1" cy="325.7" r="2.0"/><circle cx="376.0" cy="370.3" r="2.0"/><circle cx="318.6" cy="207.5" r="2.0"/><circle cx="225.1" cy="349.1" r="2.0"/><circle cx="338.7" cy="397.3" r="2.0"/><circle cx="267.5" cy="286.4" r="2.0"/><circle cx="354.3" cy="222.1" r="2.0"/><circle cx="229.3" cy="347.6" r="2.0"/><circle cx="225.5" cy="276.4" r="2.0"/><circle cx="210.6" cy="277.5" r="2.0"/><circle cx="323.7" cy="380.1" r="2.0"/><circle cx="190.9" cy="322.3" r="2.0"/><circle cx="406.7" cy="409.4" r="2.0"/><circle cx="204.4" cy="282.0" r="2.0"/><circle cx="324.0" cy="315.2" r="2.0"/><circle cx="316.7" cy="211.4" r="2.0"/><circle cx="407.1" cy="375.8" r="2.0"/><circle cx="199.7" cy="298.2" r="2.0"/><circle cx="404.1" cy="352.8" r="2.0"/><circle cx="188.2" cy="319.2" r="2.0"/><circle cx="277.8" cy="286.5" r="2.0"/><circle cx="341.1" cy="394.9" r="2.0"/><circle cx="310.0" cy="381.7" r="2.0"/><circle cx="283.1" cy="268.4" r="2.0"/><circle cx="222.2" cy="279.0" r="2.0"/><circle cx="336.3" cy="408.0" r="2.0"/><circle cx="373.6" cy="372.4" r="2.0"/><circle cx="235.8" cy="349.1" r="2.0"/><circle cx="385.2" cy="331.2" r="2.0"/><circle cx="332.8" cy="348.5" r="2.0"/><circle cx="410.9" cy="389.6" r="2.0"/><circle cx="280.8" cy="271.3" r="2.0"/><circle cx="342.7" cy="376.8" r="2.0"/><circle cx="359.3" cy="427.0" r="2.0"/><circle cx="301.6" cy="213.8" r="2.0"/><circle cx="398.7" cy="421.7" r="2.0"/><circle cx="291.8" cy="250.4" r="2.0"/><circle cx="342.5" cy="415.8" r="2.0"/><circle cx="228.4" cy="276.2" r="2.0"/><circle cx="337.5" cy="400.6" r="2.0"/><circle cx="210.5" cy="389.7" r="2.0"/><circle cx="217.9" cy="436.1" r="2.0"/><circle cx="209.7" cy="380.6" r="2.0"/><circle cx="221.1" cy="423.1" r="2.0"/><circle cx="203.3" cy="369.3" r="2.0"/><circle cx="185.5" cy="386.0" r="2.0"/><circle cx="186.6" cy="386.9" r="2.0"/><circle cx="208.8" cy="438.2" r="2.0"/><circle cx="167.5" cy="355.1" r="2.0"/><circle cx="220.3" cy="401.6" r="2.0"/><circle cx="205.4" cy="438.6" r="2.0"/><circle cx="175.2" cy="344.6" r="2.0"/><circle cx="173.6" cy="344.8" r="2.0"/><circle cx="213.7" cy="430.2" r="2.0"/><circle cx="207.9" cy="415.3" r="2.0"/><circle cx="196.3" cy="438.0" r="2.0"/><circle cx="186.1" cy="417.3" r="2.0"/><circle cx="190.0" cy="401.6" r="2.0"/><circle cx="194.9" cy="412.0" r="2.0"/><circle cx="189.7" cy="408.7" r="2.0"/><circle cx="207.9" cy="385.6" r="2.0"/><circle cx="191.2" cy="423.1" r="2.0"/><circle cx="229.5" cy="423.0" r="2.0"/><circle cx="203.6" cy="372.8" r="2.0"/><circle cx="213.0" cy="427.3" r="2.0"/><circle cx="187.5" cy="404.7" r="2.0"/><circle cx="231.8" cy="427.7" r="2.0"/><circle cx="206.0" cy="374.4" r="2.0"/><circle cx="194.2" cy="433.5" r="2.0"/><circle cx="190.6" cy="412.8" r="2.0"/><circle cx="206.0" cy="434.3" r="2.0"/><circle cx="193.7" cy="402.8" r="2.0"/><circle cx="220.7" cy="433.4" r="2.0"/><circle cx="220.4" cy="431.4" r="2.0"/><circle cx="204.0" cy="370.9" r="2.0"/><circle cx="223.1" cy="425.2" r="2.0"/><circle cx="211.7" cy="436.1" r="2.0"/><circle cx="202.7" cy="424.3" r="2.0"/><circle cx="206.4" cy="412.1" r="2.0"/><circle cx="196.7" cy="364.1" r="2.0"/><circle cx="182.2" cy="419.5" r="2.0"/><circle cx="204.5" cy="434.4" r="2.0"/><circle cx="197.4" cy="403.1" r="2.0"/><circle cx="177.8" cy="362.6" r="2.0"/><circle cx="189.7" cy="400.5" r="2.0"/><circle cx="192.4" cy="395.7" r="2.0"/><circle cx="175.0" cy="347.5" r="2.0"/><circle cx="205.7" cy="378.1" r="2.0"/><circle cx="203.7" cy="369.7" r="2.0"/><circle cx="229.6" cy="421.2" r="2.0"/><circle cx="178.6" cy="361.4" r="2.0"/><circle cx="170.5" cy="348.2" r="2.0"/><circle cx="203.0" cy="431.7" r="2.0"/><circle cx="196.2" cy="439.5" r="2.0"/><circle cx="205.8" cy="383.5" r="2.0"/><circle cx="182.4" cy="400.5" r="2.0"/><circle cx="208.7" cy="440.5" r="2.0"/><circle cx="210.7" cy="383.1" r="2.0"/><circle cx="182.3" cy="378.9" r="2.0"/><circle cx="218.7" cy="415.3" r="2.0"/><circle cx="209.1" cy="443.4" r="2.0"/><circle cx="168.6" cy="357.8" r="2.0"/><circle cx="216.5" cy="438.7" r="2.0"/><circle cx="205.3" cy="420.2" r="2.0"/><circle cx="172.0" cy="376.0" r="2.0"/><circle cx="181.1" cy="357.6" r="2.0"/><circle cx="224.2" cy="433.6" r="2.0"/><circle cx="174.4" cy="388.6" r="2.0"/><circle cx="222.5" cy="407.0" r="2.0"/><circle cx="195.8" cy="377.6" r="2.0"/><circle cx="213.7" cy="399.4" r="2.0"/><circle cx="183.0" cy="385.0" r="2.0"/><circle cx="175.5" cy="370.6" r="2.0"/><circle cx="176.3" cy="393.0" r="2.0"/><circle cx="197.5" cy="372.2" r="2.0"/><circle cx="182.5" cy="363.5" r="2.0"/><circle cx="171.5" cy="372.5" r="2.0"/><circle cx="174.4" cy="343.2" r="2.0"/><circle cx="177.5" cy="387.4" r="2.0"/><circle cx="170.2" cy="351.9" r="2.0"/><circle cx="206.5" cy="393.5" r="2.0"/><circle cx="183.6" cy="364.0" r="2.0"/><circle cx="206.8" cy="415.1" r="2.0"/><circle cx="220.4" cy="402.4" r="2.0"/><circle cx="222.5" cy="431.1" r="2.0"/><circle cx="190.2" cy="403.6" r="2.0"/><circle cx="195.3" cy="395.5" r="2.0"/><circle cx="220.7" cy="431.2" r="2.0"/><circle cx="186.8" cy="415.5" r="2.0"/><circle cx="190.9" cy="419.6" r="2.0"/><circle cx="200.0" cy="397.1" r="2.0"/><circle cx="177.3" cy="353.5" r="2.0"/><circle cx="166.9" cy="352.8" r="2.0"/><circle cx="204.3" cy="396.3" r="2.0"/><circle cx="224.4" cy="416.1" r="2.0"/><circle cx="167.9" cy="355.5" r="2.0"/><circle cx="198.6" cy="394.0" r="2.0"/><circle cx="205.3" cy="430.7" r="2.0"/><circle cx="174.9" cy="401.4" r="2.0"/><circle cx="221.4" cy="438.5" r="2.0"/><circle cx="191.4" cy="385.8" r="2.0"/><circle cx="191.9" cy="438.9" r="2.0"/><circle cx="181.3" cy="377.1" r="2.0"/><circle cx="219.9" cy="436.0" r="2.0"/><circle cx="220.6" cy="429.4" r="2.0"/><circle cx="181.9" cy="386.0" r="2.0"/><circle cx="208.1" cy="380.1" r="2.0"/><circle cx="194.5" cy="394.4" r="2.0"/><circle cx="166.2" cy="357.2" r="2.0"/><circle cx="231.2" cy="422.1" r="2.0"/><circle cx="220.2" cy="433.1" r="2.0"/><circle cx="201.9" cy="437.2" r="2.0"/><circle cx="207.4" cy="368.5" r="2.0"/><circle cx="200.4" cy="387.2" r="2.0"/><circle cx="185.7" cy="409.0" r="2.0"/><circle cx="183.2" cy="390.5" r="2.0"/><circle cx="173.3" cy="356.4" r="2.0"/><circle cx="184.9" cy="384.4" r="2.0"/><circle cx="184.5" cy="367.8" r="2.0"/><circle cx="222.3" cy="405.2" r="2.0"/><circle cx="203.9" cy="409.3" r="2.0"/><circle cx="178.6" cy="415.4" r="2.0"/><circle cx="196.4" cy="398.8" r="2.0"/><circle cx="206.8" cy="390.8" r="2.0"/><circle cx="186.1" cy="367.7" r="2.0"/><circle cx="180.0" cy="395.2" r="2.0"/><circle cx="191.0" cy="402.7" r="2.0"/><circle cx="202.9" cy="393.1" r="2.0"/><circle cx="185.0" cy="421.7" r="2.0"/><circle cx="175.7" cy="349.8" r="2.0"/><circle cx="169.0" cy="382.5" r="2.0"/><circle cx="194.9" cy="417.9" r="2.0"/><circle cx="172.3" cy="365.9" r="2.0"/><circle cx="230.5" cy="418.3" r="2.0"/><circle cx="175.4" cy="377.3" r="2.0"/><circle cx="188.9" cy="411.8" r="2.0"/><circle cx="207.0" cy="429.6" r="2.0"/><circle cx="215.4" cy="418.7" r="2.0"/><circle cx="218.6" cy="415.2" r="2.0"/><circle cx="217.2" cy="402.7" r="2.0"/><circle cx="198.9" cy="441.1" r="2.0"/><circle cx="204.0" cy="385.6" r="2.0"/><circle cx="218.5" cy="431.9" r="2.0"/><circle cx="206.4" cy="381.7" r="2.0"/><circle cx="195.8" cy="389.7" r="2.0"/><circle cx="191.6" cy="399.6" r="2.0"/><circle cx="191.1" cy="375.8" r="2.0"/><circle cx="218.7" cy="429.6" r="2.0"/><circle cx="199.0" cy="388.2" r="2.0"/><circle cx="177.4" cy="374.0" r="2.0"/><circle cx="174.7" cy="401.6" r="2.0"/><circle cx="222.6" cy="428.4" r="2.0"/><circle cx="194.0" cy="435.8" r="2.0"/><circle cx="203.5" cy="393.7" r="2.0"/><circle cx="227.8" cy="421.8" r="2.0"/><circle cx="200.2" cy="395.7" r="2.0"/><circle cx="189.3" cy="403.6" r="2.0"/><circle cx="211.1" cy="396.5" r="2.0"/><circle cx="171.6" cy="381.2" r="2.0"/><circle cx="192.3" cy="400.2" r="2.0"/><circle cx="204.1" cy="432.7" r="2.0"/><circle cx="195.0" cy="406.6" r="2.0"/><circle cx="201.1" cy="426.1" r="2.0"/><circle cx="176.5" cy="375.4" r="2.0"/><circle cx="231.8" cy="427.2" r="2.0"/><circle cx="226.1" cy="413.3" r="2.0"/><circle cx="175.5" cy="372.5" r="2.0"/><circle cx="199.8" cy="394.4" r="2.0"/><circle cx="177.7" cy="361.6" r="2.0"/><circle cx="208.0" cy="404.5" r="2.0"/><circle cx="193.0" cy="423.3" r="2.0"/><circle cx="185.8" cy="413.4" r="2.0"/><circle cx="222.5" cy="402.7" r="2.0"/><circle cx="198.9" cy="399.4" r="2.0"/><circle cx="183.0" cy="408.9" r="2.0"/><circle cx="204.2" cy="384.9" r="2.0"/><circle cx="173.1" cy="359.0" r="2.0"/><circle cx="171.7" cy="360.4" r="2.0"/><circle cx="200.6" cy="426.9" r="2.0"/><circle cx="206.8" cy="425.2" r="2.0"/><circle cx="169.1" cy="344.3" r="2.0"/><circle cx="176.4" cy="370.2" r="2.0"/><circle cx="204.7" cy="378.6" r="2.0"/><circle cx="195.6" cy="382.3" r="2.0"/><circle cx="204.7" cy="440.8" r="2.0"/><circle cx="194.9" cy="406.2" r="2.0"/><circle cx="228.6" cy="430.1" r="2.0"/><circle cx="206.1" cy="440.8" r="2.0"/><circle cx="198.7" cy="439.8" r="2.0"/><circle cx="181.4" cy="382.7" r="2.0"/><circle cx="198.0" cy="423.8" r="2.0"/><circle cx="181.5" cy="360.7" r="2.0"/><circle cx="189.4" cy="362.0" r="2.0"/><circle cx="201.4" cy="382.3" r="2.0"/><circle cx="188.9" cy="368.0" r="2.0"/><circle cx="177.9" cy="371.9" r="2.0"/><circle cx="171.1" cy="370.5" r="2.0"/><circle cx="195.2" cy="428.2" r="2.0"/><circle cx="189.0" cy="416.6" r="2.0"/><circle cx="199.4" cy="366.2" r="2.0"/><circle cx="190.0" cy="368.1" r="2.0"/><circle cx="206.5" cy="364.7" r="2.0"/><circle cx="199.9" cy="398.3" r="2.0"/><circle cx="183.3" cy="421.6" r="2.0"/><circle cx="191.2" cy="410.0" r="2.0"/><circle cx="203.7" cy="374.7" r="2.0"/><circle cx="186.8" cy="410.5" r="2.0"/><circle cx="172.3" cy="400.3" r="2.0"/><circle cx="189.6" cy="394.0" r="2.0"/><circle cx="186.1" cy="366.1" r="2.0"/><circle cx="184.1" cy="384.1" r="2.0"/><circle cx="227.1" cy="422.0" r="2.0"/><circle cx="225.3" cy="430.8" r="2.0"/><circle cx="173.9" cy="371.2" r="2.0"/><circle cx="193.1" cy="410.2" r="2.0"/><circle cx="215.1" cy="415.6" r="2.0"/><circle cx="167.6" cy="347.1" r="2.0"/><circle cx="175.9" cy="363.2" r="2.0"/><circle cx="185.6" cy="381.8" r="2.0"/><circle cx="167.5" cy="374.7" r="2.0"/><circle cx="222.3" cy="401.1" r="2.0"/><circle cx="194.6" cy="412.7" r="2.0"/><circle cx="221.9" cy="422.1" r="2.0"/><circle cx="223.3" cy="404.9" r="2.0"/><circle cx="168.0" cy="367.9" r="2.0"/><circle cx="216.0" cy="427.4" r="2.0"/><circle cx="228.5" cy="413.5" r="2.0"/><circle cx="215.4" cy="427.6" r="2.0"/><circle cx="207.8" cy="389.1" r="2.0"/><circle cx="194.1" cy="395.2" r="2.0"/><circle cx="212.9" cy="425.1" r="2.0"/><circle cx="182.7" cy="398.7" r="2.0"/><circle cx="202.1" cy="368.4" r="2.0"/><circle cx="168.9" cy="379.5" r="2.0"/><circle cx="193.0" cy="363.5" r="2.0"/><circle cx="213.2" cy="411.3" r="2.0"/><circle cx="181.1" cy="367.6" r="2.0"/><circle cx="200.1" cy="388.3" r="2.0"/><circle cx="174.5" cy="400.4" r="2.0"/><circle cx="187.6" cy="426.1" r="2.0"/><circle cx="202.4" cy="420.5" r="2.0"/><circle cx="176.4" cy="410.9" r="2.0"/><circle cx="205.8" cy="390.0" r="2.0"/><circle cx="217.3" cy="427.7" r="2.0"/><circle cx="172.6" cy="372.5" r="2.0"/><circle cx="189.5" cy="364.0" r="2.0"/><circle cx="168.9" cy="371.6" r="2.0"/><circle cx="178.3" cy="414.5" r="2.0"/><circle cx="187.0" cy="390.8" r="2.0"/><circle cx="169.7" cy="344.1" r="2.0"/><circle cx="172.3" cy="392.8" r="2.0"/><circle cx="194.5" cy="362.3" r="2.0"/><circle cx="227.8" cy="408.7" r="2.0"/><circle cx="207.8" cy="438.3" r="2.0"/><circle cx="177.5" cy="408.0" r="2.0"/><circle cx="222.7" cy="437.4" r="2.0"/><circle cx="221.7" cy="418.6" r="2.0"/><circle cx="187.2" cy="361.8" r="2.0"/><circle cx="190.0" cy="399.2" r="2.0"/><circle cx="190.1" cy="427.7" r="2.0"/><circle cx="203.6" cy="407.0" r="2.0"/><circle cx="221.0" cy="414.9" r="2.0"/><circle cx="198.7" cy="393.9" r="2.0"/><circle cx="175.6" cy="373.5" r="2.0"/><circle cx="195.2" cy="441.8" r="2.0"/><circle cx="170.9" cy="347.1" r="2.0"/><circle cx="194.9" cy="362.4" r="2.0"/><circle cx="222.4" cy="430.2" r="2.0"/><circle cx="184.2" cy="410.4" r="2.0"/><circle cx="200.1" cy="385.9" r="2.0"/><circle cx="188.0" cy="387.7" r="2.0"/><circle cx="210.4" cy="427.2" r="2.0"/><circle cx="185.1" cy="388.2" r="2.0"/><circle cx="203.4" cy="378.5" r="2.0"/><circle cx="187.0" cy="389.9" r="2.0"/><circle cx="211.1" cy="405.1" r="2.0"/><circle cx="185.1" cy="401.2" r="2.0"/><circle cx="188.3" cy="433.2" r="2.0"/><circle cx="166.7" cy="362.2" r="2.0"/><circle cx="211.3" cy="388.6" r="2.0"/><circle cx="190.3" cy="402.2" r="2.0"/><circle cx="193.3" cy="397.0" r="2.0"/><circle cx="203.5" cy="383.4" r="2.0"/><circle cx="172.6" cy="361.4" r="2.0"/><circle cx="201.2" cy="368.6" r="2.0"/><circle cx="198.3" cy="399.5" r="2.0"/><circle cx="180.3" cy="401.4" r="2.0"/><circle cx="172.5" cy="395.3" r="2.0"/><circle cx="194.9" cy="431.0" r="2.0"/><circle cx="202.5" cy="415.8" r="2.0"/><circle cx="181.0" cy="380.9" r="2.0"/><circle cx="179.4" cy="373.6" r="2.0"/><circle cx="213.3" cy="386.4" r="2.0"/><circle cx="225.7" cy="406.3" r="2.0"/><circle cx="227.6" cy="431.7" r="2.0"/><circle cx="188.2" cy="420.8" r="2.0"/><circle cx="211.4" cy="427.1" r="2.0"/><circle cx="173.2" cy="381.0" r="2.0"/><circle cx="215.3" cy="439.6" r="2.0"/><circle cx="202.4" cy="424.8" r="2.0"/><circle cx="178.0" cy="388.5" r="2.0"/><circle cx="222.2" cy="402.2" r="2.0"/><circle cx="172.6" cy="345.1" r="2.0"/><circle cx="177.5" cy="399.5" r="2.0"/><circle cx="184.7" cy="413.0" r="2.0"/><circle cx="212.0" cy="425.4" r="2.0"/><circle cx="199.2" cy="432.0" r="2.0"/><circle cx="211.3" cy="383.0" r="2.0"/><circle cx="224.6" cy="405.2" r="2.0"/><circle cx="170.0" cy="376.6" r="2.0"/><circle cx="176.4" cy="379.8" r="2.0"/><circle cx="196.8" cy="401.8" r="2.0"/><circle cx="191.4" cy="379.0" r="2.0"/><circle cx="167.9" cy="357.9" r="2.0"/><circle cx="183.5" cy="394.0" r="2.0"/><circle cx="182.8" cy="401.0" r="2.0"/><circle cx="201.0" cy="440.5" r="2.0"/><circle cx="203.2" cy="421.6" r="2.0"/><circle cx="224.6" cy="421.9" r="2.0"/><circle cx="208.2" cy="407.7" r="2.0"/><circle cx="189.7" cy="371.7" r="2.0"/><circle cx="219.3" cy="431.9" r="2.0"/><circle cx="229.1" cy="412.4" r="2.0"/><circle cx="185.6" cy="420.8" r="2.0"/><circle cx="215.5" cy="394.9" r="2.0"/><circle cx="208.3" cy="378.7" r="2.0"/><circle cx="202.5" cy="384.4" r="2.0"/><circle cx="168.9" cy="377.4" r="2.0"/><circle cx="197.8" cy="380.4" r="2.0"/><circle cx="181.5" cy="366.9" r="2.0"/><circle cx="195.8" cy="388.4" r="2.0"/><circle cx="203.8" cy="373.8" r="2.0"/><circle cx="176.4" cy="349.8" r="2.0"/><circle cx="185.5" cy="374.4" r="2.0"/><circle cx="214.6" cy="399.2" r="2.0"/><circle cx="170.3" cy="361.2" r="2.0"/><circle cx="204.6" cy="443.6" r="2.0"/><circle cx="189.3" cy="421.9" r="2.0"/><circle cx="194.1" cy="431.5" r="2.0"/><circle cx="169.4" cy="392.4" r="2.0"/><circle cx="176.1" cy="370.3" r="2.0"/><circle cx="192.2" cy="363.4" r="2.0"/><circle cx="206.1" cy="431.0" r="2.0"/><circle cx="215.1" cy="441.1" r="2.0"/><circle cx="220.2" cy="432.2" r="2.0"/><circle cx="177.7" cy="397.7" r="2.0"/><circle cx="224.8" cy="408.2" r="2.0"/><circle cx="187.2" cy="419.4" r="2.0"/><circle cx="209.3" cy="384.3" r="2.0"/><circle cx="168.7" cy="385.2" r="2.0"/><circle cx="187.7" cy="393.4" r="2.0"/><circle cx="205.8" cy="369.2" r="2.0"/><circle cx="206.9" cy="416.8" r="2.0"/><circle cx="175.5" cy="357.5" r="2.0"/><circle cx="201.7" cy="403.0" r="2.0"/><circle cx="202.8" cy="410.0" r="2.0"/><circle cx="206.0" cy="376.7" r="2.0"/><circle cx="213.5" cy="420.8" r="2.0"/><circle cx="195.8" cy="371.4" r="2.0"/><circle cx="200.6" cy="438.9" r="2.0"/><circle cx="173.8" cy="343.9" r="2.0"/><circle cx="197.4" cy="409.8" r="2.0"/><circle cx="166.7" cy="356.7" r="2.0"/><circle cx="175.0" cy="361.1" r="2.0"/><circle cx="215.3" cy="436.9" r="2.0"/><circle cx="175.9" cy="346.0" r="2.0"/><circle cx="208.4" cy="378.1" r="2.0"/><circle cx="192.3" cy="431.0" r="2.0"/><circle cx="192.9" cy="436.7" r="2.0"/><circle cx="180.1" cy="368.7" r="2.0"/><circle cx="182.8" cy="387.2" r="2.0"/><circle cx="180.6" cy="363.7" r="2.0"/><circle cx="216.8" cy="408.5" r="2.0"/><circle cx="179.6" cy="401.0" r="2.0"/><circle cx="216.3" cy="426.8" r="2.0"/><circle cx="184.2" cy="376.8" r="2.0"/><circle cx="198.1" cy="433.8" r="2.0"/><circle cx="205.7" cy="389.2" r="2.0"/><circle cx="204.5" cy="433.0" r="2.0"/><circle cx="189.5" cy="422.5" r="2.0"/><circle cx="171.5" cy="360.2" r="2.0"/><circle cx="213.9" cy="432.9" r="2.0"/><circle cx="199.4" cy="366.6" r="2.0"/><circle cx="173.1" cy="392.7" r="2.0"/><circle cx="174.1" cy="386.7" r="2.0"/><circle cx="177.1" cy="412.8" r="2.0"/><circle cx="189.0" cy="393.6" r="2.0"/><circle cx="225.3" cy="417.5" r="2.0"/><circle cx="183.5" cy="361.1" r="2.0"/><circle cx="192.8" cy="399.7" r="2.0"/><circle cx="211.9" cy="409.6" r="2.0"/><circle cx="202.1" cy="398.9" r="2.0"/><circle cx="212.1" cy="443.1" r="2.0"/><circle cx="224.7" cy="416.1" r="2.0"/><circle cx="192.2" cy="375.4" r="2.0"/><circle cx="191.3" cy="382.3" r="2.0"/><circle cx="206.4" cy="437.4" r="2.0"/><circle cx="182.2" cy="405.3" r="2.0"/><circle cx="190.6" cy="367.5" r="2.0"/><circle cx="178.4" cy="354.8" r="2.0"/><circle cx="222.5" cy="422.9" r="2.0"/><circle cx="209.1" cy="398.9" r="2.0"/><circle cx="205.4" cy="444.4" r="2.0"/><circle cx="180.9" cy="407.1" r="2.0"/><circle cx="200.8" cy="405.4" r="2.0"/><circle cx="207.9" cy="398.3" r="2.0"/><circle cx="180.1" cy="405.4" r="2.0"/><circle cx="197.2" cy="416.5" r="2.0"/><circle cx="200.6" cy="391.6" r="2.0"/><circle cx="180.0" cy="357.5" r="2.0"/><circle cx="200.7" cy="396.7" r="2.0"/><circle cx="196.3" cy="408.3" r="2.0"/><circle cx="221.5" cy="434.1" r="2.0"/><circle cx="190.9" cy="427.8" r="2.0"/><circle cx="175.3" cy="368.6" r="2.0"/><circle cx="171.8" cy="379.3" r="2.0"/><circle cx="212.4" cy="388.8" r="2.0"/><circle cx="197.6" cy="424.3" r="2.0"/><circle cx="200.5" cy="367.2" r="2.0"/><circle cx="190.2" cy="377.7" r="2.0"/><circle cx="178.6" cy="401.1" r="2.0"/><circle cx="180.2" cy="302.1" r="2.0"/><circle cx="193.0" cy="351.7" r="2.0"/><circle cx="175.2" cy="316.7" r="2.0"/><circle cx="185.1" cy="312.2" r="2.0"/><circle cx="183.6" cy="334.7" r="2.0"/><circle cx="182.7" cy="329.2" r="2.0"/><circle cx="182.2" cy="336.1" r="2.0"/><circle cx="188.5" cy="322.6" r="2.0"/><circle cx="168.0" cy="330.3" r="2.0"/><circle cx="185.9" cy="319.8" r="2.0"/><circle cx="186.3" cy="354.2" r="2.0"/><circle cx="184.9" cy="322.1" r="2.0"/><circle cx="187.9" cy="348.9" r="2.0"/><circle cx="194.4" cy="342.2" r="2.0"/><circle cx="198.4" cy="344.5" r="2.0"/><circle cx="170.1" cy="348.3" r="2.0"/><circle cx="169.2" cy="337.4" r="2.0"/><circle cx="169.2" cy="338.2" r="2.0"/><circle cx="184.1" cy="329.6" r="2.0"/><circle cx="180.6" cy="324.3" r="2.0"/><circle cx="178.2" cy="303.8" r="2.0"/><circle cx="179.8" cy="303.2" r="2.0"/><circle cx="187.8" cy="316.4" r="2.0"/><circle cx="202.4" cy="347.1" r="2.0"/><circle cx="188.9" cy="312.7" r="2.0"/><circle cx="185.9" cy="322.0" r="2.0"/><circle cx="190.8" cy="312.1" r="2.0"/><circle cx="188.7" cy="315.5" r="2.0"/><circle cx="190.0" cy="308.7" r="2.0"/><circle cx="178.2" cy="346.6" r="2.0"/><circle cx="178.9" cy="339.8" r="2.0"/><circle cx="185.5" cy="357.8" r="2.0"/><circle cx="185.2" cy="353.2" r="2.0"/><circle cx="191.3" cy="297.2" r="2.0"/><circle cx="179.0" cy="299.6" r="2.0"/><circle cx="183.9" cy="335.6" r="2.0"/><circle cx="177.5" cy="355.4" r="2.0"/><circle cx="195.0" cy="295.1" r="2.0"/><circle cx="169.3" cy="338.6" r="2.0"/><circle cx="179.0" cy="301.4" r="2.0"/><circle cx="190.7" cy="308.3" r="2.0"/><circle cx="189.9" cy="295.1" r="2.0"/><circle cx="182.5" cy="334.2" r="2.0"/><circle cx="176.1" cy="326.5" r="2.0"/><circle cx="170.8" cy="320.0" r="2.0"/><circle cx="194.7" cy="291.9" r="2.0"/><circle cx="178.9" cy="310.6" r="2.0"/><circle cx="186.8" cy="352.1" r="2.0"/><circle cx="178.1" cy="354.4" r="2.0"/><circle cx="191.4" cy="360.4" r="2.0"/><circle cx="181.0" cy="358.5" r="2.0"/><circle cx="180.6" cy="318.8" r="2.0"/><circle cx="177.1" cy="342.3" r="2.0"/><circle cx="174.3" cy="346.0" r="2.0"/><circle cx="189.8" cy="290.4" r="2.0"/><circle cx="189.5" cy="346.0" r="2.0"/><circle cx="168.4" cy="323.9" r="2.0"/><circle cx="171.0" cy="334.6" r="2.0"/><circle cx="172.4" cy="329.1" r="2.0"/><circle cx="181.4" cy="312.8" r="2.0"/><circle cx="194.1" cy="295.9" r="2.0"/><circle cx="180.5" cy="350.3" r="2.0"/><circle cx="187.2" cy="325.7" r="2.0"/><circle cx="171.8" cy="320.3" r="2.0"/><circle cx="173.7" cy="325.7" r="2.0"/><circle cx="187.7" cy="312.2" r="2.0"/><circle cx="175.1" cy="315.1" r="2.0"/><circle cx="176.8" cy="352.7" r="2.0"/><circle cx="187.5" cy="354.2" r="2.0"/><circle cx="186.9" cy="346.2" r="2.0"/><circle cx="190.3" cy="338.0" r="2.0"/><circle cx="176.4" cy="342.9" r="2.0"/><circle cx="188.1" cy="306.1" r="2.0"/><circle cx="190.6" cy="301.5" r="2.0"/><circle cx="191.3" cy="345.7" r="2.0"/><circle cx="196.0" cy="287.7" r="2.0"/><circle cx="177.0" cy="330.8" r="2.0"/><circle cx="192.2" cy="338.3" r="2.0"/><circle cx="204.6" cy="283.6" r="2.0"/><circle cx="177.0" cy="341.6" r="2.0"/><circle cx="194.7" cy="294.8" r="2.0"/><circle cx="186.6" cy="322.6" r="2.0"/><circle cx="198.8" cy="355.6" r="2.0"/><circle cx="175.1" cy="332.9" r="2.0"/><circle cx="201.5" cy="345.9" r="2.0"/><circle cx="170.8" cy="340.3" r="2.0"/><circle cx="197.4" cy="293.5" r="2.0"/><circle cx="201.0" cy="347.1" r="2.0"/><circle cx="200.7" cy="345.7" r="2.0"/><circle cx="177.3" cy="350.0" r="2.0"/><circle cx="185.7" cy="301.7" r="2.0"/><circle cx="187.1" cy="355.6" r="2.0"/><circle cx="195.0" cy="339.7" r="2.0"/><circle cx="183.0" cy="345.6" r="2.0"/><circle cx="205.4" cy="349.0" r="2.0"/><circle cx="193.6" cy="349.9" r="2.0"/><circle cx="180.9" cy="330.5" r="2.0"/><circle cx="201.1" cy="346.4" r="2.0"/><circle cx="180.7" cy="299.9" r="2.0"/><circle cx="181.4" cy="350.5" r="2.0"/><circle cx="192.3" cy="306.2" r="2.0"/><circle cx="194.0" cy="347.5" r="2.0"/><circle cx="171.9" cy="337.5" r="2.0"/><circle cx="176.1" cy="354.2" r="2.0"/><circle cx="191.9" cy="354.5" r="2.0"/><circle cx="183.1" cy="322.8" r="2.0"/><circle cx="185.5" cy="347.7" r="2.0"/><circle cx="177.2" cy="311.0" r="2.0"/><circle cx="171.1" cy="327.1" r="2.0"/><circle cx="182.4" cy="357.3" r="2.0"/><circle cx="170.1" cy="332.8" r="2.0"/><circle cx="185.1" cy="359.6" r="2.0"/><circle cx="181.8" cy="335.8" r="2.0"/><circle cx="188.3" cy="337.0" r="2.0"/><circle cx="185.3" cy="343.0" r="2.0"/><circle cx="197.6" cy="285.5" r="2.0"/><circle cx="172.9" cy="329.9" r="2.0"/><circle cx="183.0" cy="342.7" r="2.0"/><circle cx="189.2" cy="316.5" r="2.0"/><circle cx="182.5" cy="360.0" r="2.0"/><circle cx="190.5" cy="349.0" r="2.0"/><circle cx="172.7" cy="324.1" r="2.0"/><circle cx="179.1" cy="313.5" r="2.0"/><circle cx="174.6" cy="307.5" r="2.0"/><circle cx="180.1" cy="317.9" r="2.0"/><circle cx="183.1" cy="313.7" r="2.0"/><circle cx="175.3" cy="355.7" r="2.0"/><circle cx="185.4" cy="349.9" r="2.0"/><circle cx="193.0" cy="345.2" r="2.0"/><circle cx="189.8" cy="336.5" r="2.0"/><circle cx="181.8" cy="356.4" r="2.0"/><circle cx="188.6" cy="305.9" r="2.0"/><circle cx="192.7" cy="303.6" r="2.0"/><circle cx="198.5" cy="286.0" r="2.0"/><circle cx="181.4" cy="358.2" r="2.0"/><circle cx="177.8" cy="302.2" r="2.0"/><circle cx="169.9" cy="326.7" r="2.0"/><circle cx="183.8" cy="347.6" r="2.0"/><circle cx="192.9" cy="338.3" r="2.0"/><circle cx="180.9" cy="314.2" r="2.0"/><circle cx="174.6" cy="352.7" r="2.0"/><circle cx="188.7" cy="324.6" r="2.0"/><circle cx="194.3" cy="355.1" r="2.0"/><circle cx="187.5" cy="351.1" r="2.0"/><circle cx="183.5" cy="328.8" r="2.0"/><circle cx="178.2" cy="350.5" r="2.0"/><circle cx="199.2" cy="350.0" r="2.0"/><circle cx="173.2" cy="336.6" r="2.0"/><circle cx="197.3" cy="348.6" r="2.0"/><circle cx="193.5" cy="353.3" r="2.0"/><circle cx="172.4" cy="339.2" r="2.0"/><circle cx="191.6" cy="348.9" r="2.0"/><circle cx="195.5" cy="288.5" r="2.0"/><circle cx="189.6" cy="347.5" r="2.0"/><circle cx="180.5" cy="328.3" r="2.0"/><circle cx="175.9" cy="346.4" r="2.0"/><circle cx="175.5" cy="350.1" r="2.0"/><circle cx="168.2" cy="345.2" r="2.0"/><circle cx="192.7" cy="340.9" r="2.0"/><circle cx="187.9" cy="330.0" r="2.0"/><circle cx="176.2" cy="352.4" r="2.0"/><circle cx="186.5" cy="293.4" r="2.0"/><circle cx="185.5" cy="337.5" r="2.0"/><circle cx="180.9" cy="298.0" r="2.0"/><circle cx="183.4" cy="305.4" r="2.0"/><circle cx="174.9" cy="341.8" r="2.0"/><circle cx="188.1" cy="317.9" r="2.0"/><circle cx="175.1" cy="339.2" r="2.0"/><circle cx="189.9" cy="339.0" r="2.0"/><circle cx="196.5" cy="340.5" r="2.0"/><circle cx="177.8" cy="311.2" r="2.0"/><circle cx="173.7" cy="333.5" r="2.0"/><circle cx="181.5" cy="354.9" r="2.0"/><circle cx="173.3" cy="345.1" r="2.0"/><circle cx="186.4" cy="348.7" r="2.0"/><circle cx="190.0" cy="323.5" r="2.0"/><circle cx="200.1" cy="350.3" r="2.0"/><circle cx="175.7" cy="329.7" r="2.0"/><circle cx="200.9" cy="345.8" r="2.0"/><circle cx="192.5" cy="353.8" r="2.0"/><circle cx="186.8" cy="334.0" r="2.0"/><circle cx="171.2" cy="330.2" r="2.0"/><circle cx="185.6" cy="329.7" r="2.0"/><circle cx="193.0" cy="339.5" r="2.0"/><circle cx="196.6" cy="287.0" r="2.0"/><circle cx="186.2" cy="314.8" r="2.0"/><circle cx="194.5" cy="340.0" r="2.0"/><circle cx="176.8" cy="334.9" r="2.0"/><circle cx="176.3" cy="314.2" r="2.0"/><circle cx="199.2" cy="348.9" r="2.0"/><circle cx="192.9" cy="342.3" r="2.0"/><circle cx="176.0" cy="336.7" r="2.0"/><circle cx="197.9" cy="291.0" r="2.0"/><circle cx="174.6" cy="347.5" r="2.0"/><circle cx="173.6" cy="323.8" r="2.0"/><circle cx="171.3" cy="345.9" r="2.0"/><circle cx="189.7" cy="348.7" r="2.0"/><circle cx="187.5" cy="332.5" r="2.0"/><circle cx="191.3" cy="346.9" r="2.0"/><circle cx="189.3" cy="306.1" r="2.0"/><circle cx="200.9" cy="347.9" r="2.0"/><circle cx="185.7" cy="292.5" r="2.0"/><circle cx="193.5" cy="299.3" r="2.0"/><circle cx="196.8" cy="350.9" r="2.0"/><circle cx="182.0" cy="307.0" r="2.0"/><circle cx="188.2" cy="319.3" r="2.0"/><circle cx="189.5" cy="364.4" r="2.0"/><circle cx="199.9" cy="375.1" r="2.0"/><circle cx="203.5" cy="370.9" r="2.0"/><circle cx="201.3" cy="372.7" r="2.0"/><circle cx="190.5" cy="373.7" r="2.0"/><circle cx="191.0" cy="367.7" r="2.0"/><circle cx="182.9" cy="353.5" r="2.0"/><circle cx="187.0" cy="354.4" r="2.0"/><circle cx="176.1" cy="358.5" r="2.0"/><circle cx="204.4" cy="352.6" r="2.0"/><circle cx="182.7" cy="357.4" r="2.0"/><circle cx="186.1" cy="370.0" r="2.0"/><circle cx="206.2" cy="361.6" r="2.0"/><circle cx="176.5" cy="371.9" r="2.0"/><circle cx="185.5" cy="364.9" r="2.0"/><circle cx="187.8" cy="361.8" r="2.0"/><circle cx="194.8" cy="365.7" r="2.0"/><circle cx="195.2" cy="375.8" r="2.0"/><circle cx="189.5" cy="375.0" r="2.0"/><circle cx="175.9" cy="350.4" r="2.0"/><circle cx="184.4" cy="374.7" r="2.0"/><circle cx="179.6" cy="358.3" r="2.0"/><circle cx="201.5" cy="367.2" r="2.0"/><circle cx="204.1" cy="369.4" r="2.0"/><circle cx="182.7" cy="352.0" r="2.0"/><circle cx="173.2" cy="367.2" r="2.0"/><circle cx="181.0" cy="352.1" r="2.0"/><circle cx="197.4" cy="366.0" r="2.0"/><circle cx="197.7" cy="367.3" r="2.0"/><circle cx="185.1" cy="345.2" r="2.0"/><circle cx="187.5" cy="348.0" r="2.0"/><circle cx="176.9" cy="360.3" r="2.0"/><circle cx="183.8" cy="369.9" r="2.0"/><circle cx="179.6" cy="346.5" r="2.0"/><circle cx="185.0" cy="357.3" r="2.0"/><circle cx="201.6" cy="358.6" r="2.0"/><circle cx="212.1" cy="355.0" r="2.0"/><circle cx="207.6" cy="350.9" r="2.0"/><circle cx="208.8" cy="371.1" r="2.0"/><circle cx="200.8" cy="352.7" r="2.0"/><circle cx="200.3" cy="363.5" r="2.0"/><circle cx="200.4" cy="349.3" r="2.0"/><circle cx="178.2" cy="346.4" r="2.0"/><circle cx="214.3" cy="356.4" r="2.0"/><circle cx="200.0" cy="362.9" r="2.0"/><circle cx="181.6" cy="345.3" r="2.0"/><circle cx="187.6" cy="368.3" r="2.0"/><circle cx="177.9" cy="370.6" r="2.0"/><circle cx="182.8" cy="355.8" r="2.0"/><circle cx="194.5" cy="346.9" r="2.0"/><circle cx="182.7" cy="370.9" r="2.0"/><circle cx="184.3" cy="356.3" r="2.0"/><circle cx="204.9" cy="350.8" r="2.0"/><circle cx="180.3" cy="350.7" r="2.0"/><circle cx="188.5" cy="355.8" r="2.0"/><circle cx="199.6" cy="359.5" r="2.0"/><circle cx="200.5" cy="372.3" r="2.0"/><circle cx="190.8" cy="347.1" r="2.0"/><circle cx="191.8" cy="367.9" r="2.0"/><circle cx="176.0" cy="347.1" r="2.0"/><circle cx="192.6" cy="349.1" r="2.0"/><circle cx="181.9" cy="358.4" r="2.0"/><circle cx="177.1" cy="345.4" r="2.0"/><circle cx="187.5" cy="359.4" r="2.0"/><circle cx="212.3" cy="362.4" r="2.0"/><circle cx="175.1" cy="350.8" r="2.0"/><circle cx="204.0" cy="362.7" r="2.0"/><circle cx="212.6" cy="361.4" r="2.0"/><circle cx="182.3" cy="349.0" r="2.0"/><circle cx="209.2" cy="350.4" r="2.0"/><circle cx="175.6" cy="352.3" r="2.0"/><circle cx="211.7" cy="359.1" r="2.0"/><circle cx="191.5" cy="354.1" r="2.0"/><circle cx="180.8" cy="366.2" r="2.0"/><circle cx="187.5" cy="347.2" r="2.0"/><circle cx="200.1" cy="361.0" r="2.0"/><circle cx="203.8" cy="361.8" r="2.0"/><circle cx="182.1" cy="360.5" r="2.0"/><circle cx="198.0" cy="365.8" r="2.0"/><circle cx="178.2" cy="371.1" r="2.0"/><circle cx="208.9" cy="355.9" r="2.0"/><circle cx="181.8" cy="363.9" r="2.0"/><circle cx="181.3" cy="344.3" r="2.0"/><circle cx="190.9" cy="347.9" r="2.0"/><circle cx="180.2" cy="369.2" r="2.0"/><circle cx="197.1" cy="375.9" r="2.0"/><circle cx="189.3" cy="366.8" r="2.0"/><circle cx="182.0" cy="359.7" r="2.0"/><circle cx="194.0" cy="376.2" r="2.0"/><circle cx="198.7" cy="350.6" r="2.0"/><circle cx="207.9" cy="350.1" r="2.0"/><circle cx="185.8" cy="357.2" r="2.0"/><circle cx="186.8" cy="366.4" r="2.0"/><circle cx="179.0" cy="372.0" r="2.0"/><circle cx="183.1" cy="358.9" r="2.0"/><circle cx="196.2" cy="367.9" r="2.0"/><circle cx="177.9" cy="351.4" r="2.0"/><circle cx="178.4" cy="347.8" r="2.0"/><circle cx="194.5" cy="363.3" r="2.0"/><circle cx="182.1" cy="348.9" r="2.0"/><circle cx="197.2" cy="358.8" r="2.0"/><circle cx="189.6" cy="374.1" r="2.0"/><circle cx="200.5" cy="373.1" r="2.0"/><circle cx="212.5" cy="357.3" r="2.0"/><circle cx="176.5" cy="343.6" r="2.0"/><circle cx="184.5" cy="353.1" r="2.0"/><circle cx="190.1" cy="361.5" r="2.0"/><circle cx="208.5" cy="371.2" r="2.0"/><circle cx="200.1" cy="360.9" r="2.0"/><circle cx="177.0" cy="351.5" r="2.0"/><circle cx="200.3" cy="363.5" r="2.0"/><circle cx="196.5" cy="349.4" r="2.0"/><circle cx="201.8" cy="351.9" r="2.0"/><circle cx="182.2" cy="355.8" r="2.0"/><circle cx="194.5" cy="366.7" r="2.0"/><circle cx="175.2" cy="368.9" r="2.0"/><circle cx="198.8" cy="359.5" r="2.0"/><circle cx="200.9" cy="371.0" r="2.0"/><circle cx="201.2" cy="367.8" r="2.0"/><circle cx="234.3" cy="423.5" r="2.0"/><circle cx="214.0" cy="389.3" r="2.0"/><circle cx="189.1" cy="364.3" r="2.0"/><circle cx="189.1" cy="360.2" r="2.0"/><circle cx="218.3" cy="400.9" r="2.0"/><circle cx="217.2" cy="392.4" r="2.0"/><circle cx="168.8" cy="390.6" r="2.0"/><circle cx="162.8" cy="370.9" r="2.0"/><circle cx="160.5" cy="351.1" r="2.0"/><circle cx="224.5" cy="437.2" r="2.0"/><circle cx="195.0" cy="444.6" r="2.0"/><circle cx="170.6" cy="341.7" r="2.0"/><circle cx="188.1" cy="426.8" r="2.0"/><circle cx="205.6" cy="372.1" r="2.0"/><circle cx="227.2" cy="404.0" r="2.0"/><circle cx="215.4" cy="393.1" r="2.0"/><circle cx="205.6" cy="375.3" r="2.0"/><circle cx="206.4" cy="363.6" r="2.0"/><circle cx="168.0" cy="342.1" r="2.0"/><circle cx="173.7" cy="404.5" r="2.0"/><circle cx="166.7" cy="378.9" r="2.0"/><circle cx="169.2" cy="397.7" r="2.0"/><circle cx="183.2" cy="357.7" r="2.0"/><circle cx="195.9" cy="361.7" r="2.0"/><circle cx="177.2" cy="419.6" r="2.0"/><circle cx="188.3" cy="439.0" r="2.0"/><circle cx="167.4" cy="348.8" r="2.0"/><circle cx="162.7" cy="354.9" r="2.0"/><circle cx="173.7" cy="398.1" r="2.0"/><circle cx="178.6" cy="421.4" r="2.0"/><circle cx="195.3" cy="361.7" r="2.0"/><circle cx="165.0" cy="371.8" r="2.0"/><circle cx="224.2" cy="406.2" r="2.0"/><circle cx="214.6" cy="384.7" r="2.0"/><circle cx="166.5" cy="379.4" r="2.0"/><circle cx="213.2" cy="386.5" r="2.0"/><circle cx="229.6" cy="413.1" r="2.0"/><circle cx="166.7" cy="383.6" r="2.0"/><circle cx="232.5" cy="423.2" r="2.0"/><circle cx="187.1" cy="439.3" r="2.0"/><circle cx="167.4" cy="341.3" r="2.0"/><circle cx="172.7" cy="406.0" r="2.0"/><circle cx="234.3" cy="425.2" r="2.0"/><circle cx="176.1" cy="412.3" r="2.0"/><circle cx="166.7" cy="379.2" r="2.0"/><circle cx="207.5" cy="370.8" r="2.0"/><circle cx="211.9" cy="386.7" r="2.0"/><circle cx="226.2" cy="402.1" r="2.0"/><circle cx="168.4" cy="358.0" r="2.0"/><circle cx="170.4" cy="371.2" r="2.0"/><circle cx="200.4" cy="444.5" r="2.0"/><circle cx="209.2" cy="443.1" r="2.0"/><circle cx="219.5" cy="401.2" r="2.0"/><circle cx="167.5" cy="362.6" r="2.0"/><circle cx="205.6" cy="448.2" r="2.0"/><circle cx="168.0" cy="394.3" r="2.0"/><circle cx="224.7" cy="400.4" r="2.0"/><circle cx="201.4" cy="440.0" r="2.0"/><circle cx="235.4" cy="426.9" r="2.0"/><circle cx="232.1" cy="421.2" r="2.0"/><circle cx="184.4" cy="357.7" r="2.0"/><circle cx="199.6" cy="442.1" r="2.0"/><circle cx="165.9" cy="347.3" r="2.0"/><circle cx="195.9" cy="443.3" r="2.0"/><circle cx="166.2" cy="358.2" r="2.0"/><circle cx="175.1" cy="406.9" r="2.0"/><circle cx="166.6" cy="362.3" r="2.0"/><circle cx="218.4" cy="439.6" r="2.0"/><circle cx="167.1" cy="376.6" r="2.0"/><circle cx="181.1" cy="421.8" r="2.0"/><circle cx="235.1" cy="407.5" r="2.0"/><circle cx="271.3" cy="371.8" r="2.0"/><circle cx="256.7" cy="405.6" r="2.0"/><circle cx="243.4" cy="368.6" r="2.0"/><circle cx="234.6" cy="386.1" r="2.0"/><circle cx="243.7" cy="363.8" r="2.0"/><circle cx="251.8" cy="413.9" r="2.0"/><circle cx="298.5" cy="394.4" r="2.0"/><circle cx="235.8" cy="377.9" r="2.0"/><circle cx="247.2" cy="376.9" r="2.0"/><circle cx="247.6" cy="357.7" r="2.0"/><circle cx="251.0" cy="399.2" r="2.0"/><circle cx="276.7" cy="379.1" r="2.0"/><circle cx="264.5" cy="375.6" r="2.0"/><circle cx="278.9" cy="400.5" r="2.0"/><circle cx="265.4" cy="385.0" r="2.0"/><circle cx="243.5" cy="410.8" r="2.0"/><circle cx="230.3" cy="375.9" r="2.0"/><circle cx="234.0" cy="356.9" r="2.0"/><circle cx="242.2" cy="351.1" r="2.0"/><circle cx="256.4" cy="380.7" r="2.0"/><circle cx="240.4" cy="399.0" r="2.0"/><circle cx="301.8" cy="386.2" r="2.0"/><circle cx="240.5" cy="418.0" r="2.0"/><circle cx="262.3" cy="387.2" r="2.0"/><circle cx="245.9" cy="377.7" r="2.0"/><circle cx="253.2" cy="405.7" r="2.0"/><circle cx="252.9" cy="356.3" r="2.0"/><circle cx="290.7" cy="377.2" r="2.0"/><circle cx="231.2" cy="407.8" r="2.0"/><circle cx="253.4" cy="379.1" r="2.0"/><circle cx="229.0" cy="372.8" r="2.0"/><circle cx="242.4" cy="406.8" r="2.0"/><circle cx="227.4" cy="392.2" r="2.0"/><circle cx="260.4" cy="401.8" r="2.0"/><circle cx="303.5" cy="392.6" r="2.0"/><circle cx="229.6" cy="350.9" r="2.0"/><circle cx="266.7" cy="360.4" r="2.0"/><circle cx="252.3" cy="396.6" r="2.0"/><circle cx="235.0" cy="370.8" r="2.0"/><circle cx="252.0" cy="389.5" r="2.0"/><circle cx="257.0" cy="356.3" r="2.0"/><circle cx="208.4" cy="375.9" r="2.0"/><circle cx="232.7" cy="369.2" r="2.0"/><circle cx="262.1" cy="362.9" r="2.0"/><circle cx="229.0" cy="395.3" r="2.0"/><circle cx="236.4" cy="415.2" r="2.0"/><circle cx="307.0" cy="384.0" r="2.0"/><circle cx="222.7" cy="385.3" r="2.0"/><circle cx="243.1" cy="409.6" r="2.0"/><circle cx="233.6" cy="364.7" r="2.0"/><circle cx="224.7" cy="381.4" r="2.0"/><circle cx="272.8" cy="373.0" r="2.0"/><circle cx="224.8" cy="366.3" r="2.0"/><circle cx="216.7" cy="364.3" r="2.0"/><circle cx="241.0" cy="388.9" r="2.0"/><circle cx="227.1" cy="386.9" r="2.0"/><circle cx="257.3" cy="364.6" r="2.0"/><circle cx="225.6" cy="354.8" r="2.0"/><circle cx="250.2" cy="377.0" r="2.0"/><circle cx="252.5" cy="376.8" r="2.0"/><circle cx="280.4" cy="380.0" r="2.0"/><circle cx="245.1" cy="398.8" r="2.0"/><circle cx="253.3" cy="372.6" r="2.0"/><circle cx="266.0" cy="401.4" r="2.0"/><circle cx="223.1" cy="377.9" r="2.0"/><circle cx="269.8" cy="402.5" r="2.0"/><circle cx="265.5" cy="380.8" r="2.0"/><circle cx="227.0" cy="358.1" r="2.0"/><circle cx="210.6" cy="374.5" r="2.0"/><circle cx="258.2" cy="388.2" r="2.0"/><circle cx="246.0" cy="419.7" r="2.0"/><circle cx="244.6" cy="391.0" r="2.0"/><circle cx="257.9" cy="375.3" r="2.0"/><circle cx="248.5" cy="397.1" r="2.0"/><circle cx="246.7" cy="379.6" r="2.0"/><circle cx="264.4" cy="370.8" r="2.0"/><circle cx="242.7" cy="413.9" r="2.0"/><circle cx="210.1" cy="364.3" r="2.0"/><circle cx="223.2" cy="367.0" r="2.0"/><circle cx="213.9" cy="369.8" r="2.0"/><circle cx="253.4" cy="364.2" r="2.0"/><circle cx="248.3" cy="356.4" r="2.0"/><circle cx="282.2" cy="398.8" r="2.0"/><circle cx="219.6" cy="361.8" r="2.0"/><circle cx="226.8" cy="397.1" r="2.0"/><circle cx="253.5" cy="379.9" r="2.0"/><circle cx="234.4" cy="367.4" r="2.0"/><circle cx="226.7" cy="361.0" r="2.0"/><circle cx="244.7" cy="407.2" r="2.0"/><circle cx="254.0" cy="411.5" r="2.0"/><circle cx="268.3" cy="384.7" r="2.0"/><circle cx="300.4" cy="396.5" r="2.0"/><circle cx="243.2" cy="380.3" r="2.0"/><circle cx="303.9" cy="393.3" r="2.0"/><circle cx="302.9" cy="385.3" r="2.0"/><circle cx="312.9" cy="400.7" r="2.0"/><circle cx="329.5" cy="395.4" r="2.0"/><circle cx="314.1" cy="400.1" r="2.0"/><circle cx="320.6" cy="401.9" r="2.0"/><circle cx="322.5" cy="389.5" r="2.0"/><circle cx="312.6" cy="388.1" r="2.0"/><circle cx="334.4" cy="403.8" r="2.0"/><circle cx="329.6" cy="404.6" r="2.0"/><circle cx="338.0" cy="400.6" r="2.0"/><circle cx="310.2" cy="402.7" r="2.0"/><circle cx="307.9" cy="398.3" r="2.0"/><circle cx="317.2" cy="388.3" r="2.0"/><circle cx="335.5" cy="402.7" r="2.0"/><circle cx="320.7" cy="407.2" r="2.0"/><circle cx="321.3" cy="392.8" r="2.0"/><circle cx="329.2" cy="383.1" r="2.0"/><circle cx="333.1" cy="393.3" r="2.0"/><circle cx="327.1" cy="387.7" r="2.0"/><circle cx="327.2" cy="399.5" r="2.0"/><circle cx="301.0" cy="394.8" r="2.0"/><circle cx="326.9" cy="386.4" r="2.0"/><circle cx="324.1" cy="388.3" r="2.0"/><circle cx="314.7" cy="397.2" r="2.0"/><circle cx="330.5" cy="402.8" r="2.0"/><circle cx="315.9" cy="405.9" r="2.0"/><circle cx="328.0" cy="384.3" r="2.0"/><circle cx="337.9" cy="396.2" r="2.0"/><circle cx="327.7" cy="383.9" r="2.0"/><circle cx="323.4" cy="391.3" r="2.0"/><circle cx="307.3" cy="404.4" r="2.0"/><circle cx="298.4" cy="394.3" r="2.0"/><circle cx="316.2" cy="394.1" r="2.0"/><circle cx="326.8" cy="401.9" r="2.0"/><circle cx="304.7" cy="384.1" r="2.0"/><circle cx="330.7" cy="383.6" r="2.0"/><circle cx="341.5" cy="207.8" r="2.0"/><circle cx="375.9" cy="230.1" r="2.0"/><circle cx="367.6" cy="214.0" r="2.0"/><circle cx="374.6" cy="240.1" r="2.0"/><circle cx="358.6" cy="234.4" r="2.0"/><circle cx="371.6" cy="227.9" r="2.0"/><circle cx="368.7" cy="245.1" r="2.0"/><circle cx="365.2" cy="212.7" r="2.0"/><circle cx="331.7" cy="205.9" r="2.0"/><circle cx="356.2" cy="207.7" r="2.0"/><circle cx="373.4" cy="222.5" r="2.0"/><circle cx="378.1" cy="223.7" r="2.0"/><circle cx="353.8" cy="218.6" r="2.0"/><circle cx="358.5" cy="236.5" r="2.0"/><circle cx="358.8" cy="235.1" r="2.0"/><circle cx="372.0" cy="244.2" r="2.0"/><circle cx="354.1" cy="210.8" r="2.0"/><circle cx="351.4" cy="204.5" r="2.0"/><circle cx="370.5" cy="244.2" r="2.0"/><circle cx="383.6" cy="252.4" r="2.0"/><circle cx="432.1" cy="329.2" r="2.0"/><circle cx="401.7" cy="329.8" r="2.0"/><circle cx="422.1" cy="344.2" r="2.0"/><circle cx="419.0" cy="325.6" r="2.0"/><circle cx="415.4" cy="334.1" r="2.0"/><circle cx="418.3" cy="396.8" r="2.0"/><circle cx="439.2" cy="384.5" r="2.0"/><circle cx="421.9" cy="323.9" r="2.0"/><circle cx="399.6" cy="318.6" r="2.0"/><circle cx="429.3" cy="238.2" r="2.0"/><circle cx="427.5" cy="372.3" r="2.0"/><circle cx="463.2" cy="297.1" r="2.0"/><circle cx="429.9" cy="329.9" r="2.0"/><circle cx="395.2" cy="313.5" r="2.0"/><circle cx="398.2" cy="284.4" r="2.0"/><circle cx="408.2" cy="350.1" r="2.0"/><circle cx="414.7" cy="369.9" r="2.0"/><circle cx="408.9" cy="333.2" r="2.0"/><circle cx="402.6" cy="303.7" r="2.0"/><circle cx="408.7" cy="306.7" r="2.0"/><circle cx="421.0" cy="355.8" r="2.0"/><circle cx="403.3" cy="305.2" r="2.0"/><circle cx="383.7" cy="268.8" r="2.0"/><circle cx="426.2" cy="308.1" r="2.0"/><circle cx="417.6" cy="348.8" r="2.0"/><circle cx="426.5" cy="361.1" r="2.0"/><circle cx="428.4" cy="300.1" r="2.0"/><circle cx="411.8" cy="337.5" r="2.0"/><circle cx="418.6" cy="287.1" r="2.0"/><circle cx="417.5" cy="376.3" r="2.0"/><circle cx="424.2" cy="348.2" r="2.0"/><circle cx="400.5" cy="271.7" r="2.0"/><circle cx="391.7" cy="296.6" r="2.0"/><circle cx="397.4" cy="317.9" r="2.0"/><circle cx="403.4" cy="330.2" r="2.0"/><circle cx="377.6" cy="220.0" r="2.0"/><circle cx="395.2" cy="308.3" r="2.0"/><circle cx="377.2" cy="365.9" r="2.0"/><circle cx="424.6" cy="352.4" r="2.0"/><circle cx="446.9" cy="327.0" r="2.0"/><circle cx="421.1" cy="358.4" r="2.0"/><circle cx="390.7" cy="293.1" r="2.0"/><circle cx="408.0" cy="302.6" r="2.0"/><circle cx="435.6" cy="303.9" r="2.0"/><circle cx="389.8" cy="278.0" r="2.0"/><circle cx="353.7" cy="283.0" r="2.0"/><circle cx="432.4" cy="348.9" r="2.0"/><circle cx="405.1" cy="314.3" r="2.0"/><circle cx="392.7" cy="435.6" r="2.0"/><circle cx="429.0" cy="365.2" r="2.0"/><circle cx="420.8" cy="291.4" r="2.0"/><circle cx="424.7" cy="395.8" r="2.0"/><circle cx="400.0" cy="313.6" r="2.0"/><circle cx="380.2" cy="370.7" r="2.0"/><circle cx="407.9" cy="332.3" r="2.0"/><circle cx="419.5" cy="331.2" r="2.0"/><circle cx="431.5" cy="295.9" r="2.0"/><circle cx="419.6" cy="294.1" r="2.0"/><circle cx="430.2" cy="321.5" r="2.0"/><circle cx="426.5" cy="316.2" r="2.0"/><circle cx="410.0" cy="375.4" r="2.0"/><circle cx="385.2" cy="364.4" r="2.0"/><circle cx="389.9" cy="317.8" r="2.0"/><circle cx="395.4" cy="311.1" r="2.0"/><circle cx="386.3" cy="325.9" r="2.0"/><circle cx="405.9" cy="273.2" r="2.0"/><circle cx="406.7" cy="287.0" r="2.0"/><circle cx="402.3" cy="418.6" r="2.0"/><circle cx="392.5" cy="264.1" r="2.0"/><circle cx="400.6" cy="306.2" r="2.0"/><circle cx="385.1" cy="284.9" r="2.0"/><circle cx="381.7" cy="288.1" r="2.0"/><circle cx="425.7" cy="321.0" r="2.0"/><circle cx="376.9" cy="245.1" r="2.0"/><circle cx="406.8" cy="306.2" r="2.0"/><circle cx="411.3" cy="272.4" r="2.0"/><circle cx="392.0" cy="253.5" r="2.0"/><circle cx="425.4" cy="269.8" r="2.0"/><circle cx="406.8" cy="352.3" r="2.0"/><circle cx="412.8" cy="304.8" r="2.0"/><circle cx="427.1" cy="267.8" r="2.0"/><circle cx="404.8" cy="295.6" r="2.0"/><circle cx="433.6" cy="387.9" r="2.0"/><circle cx="389.3" cy="315.6" r="2.0"/><circle cx="421.7" cy="336.8" r="2.0"/><circle cx="392.8" cy="314.7" r="2.0"/><circle cx="431.7" cy="339.3" r="2.0"/><circle cx="389.2" cy="311.6" r="2.0"/><circle cx="414.1" cy="403.1" r="2.0"/><circle cx="414.3" cy="317.0" r="2.0"/><circle cx="382.8" cy="304.9" r="2.0"/><circle cx="411.9" cy="350.3" r="2.0"/><circle cx="445.7" cy="406.2" r="2.0"/><circle cx="412.5" cy="265.6" r="2.0"/><circle cx="420.4" cy="344.5" r="2.0"/><circle cx="408.7" cy="260.1" r="2.0"/><circle cx="404.9" cy="315.0" r="2.0"/><circle cx="420.7" cy="354.9" r="2.0"/><circle cx="409.3" cy="341.2" r="2.0"/><circle cx="394.8" cy="288.3" r="2.0"/><circle cx="414.1" cy="329.4" r="2.0"/><circle cx="412.3" cy="407.4" r="2.0"/><circle cx="382.7" cy="299.7" r="2.0"/><circle cx="420.5" cy="321.9" r="2.0"/><circle cx="424.0" cy="368.6" r="2.0"/><circle cx="384.5" cy="325.2" r="2.0"/><circle cx="391.0" cy="365.5" r="2.0"/><circle cx="420.2" cy="322.4" r="2.0"/><circle cx="386.5" cy="284.1" r="2.0"/><circle cx="415.9" cy="336.8" r="2.0"/><circle cx="431.4" cy="317.9" r="2.0"/><circle cx="391.4" cy="292.2" r="2.0"/><circle cx="415.4" cy="380.4" r="2.0"/><circle cx="396.7" cy="304.4" r="2.0"/><circle cx="395.3" cy="315.8" r="2.0"/><circle cx="392.7" cy="316.8" r="2.0"/><circle cx="391.8" cy="325.6" r="2.0"/><circle cx="413.4" cy="356.5" r="2.0"/><circle cx="391.1" cy="289.0" r="2.0"/><circle cx="376.1" cy="287.7" r="2.0"/><circle cx="389.2" cy="320.3" r="2.0"/><circle cx="387.7" cy="363.3" r="2.0"/><circle cx="438.5" cy="318.7" r="2.0"/><circle cx="396.6" cy="317.2" r="2.0"/><circle cx="419.1" cy="312.4" r="2.0"/><circle cx="498.4" cy="271.4" r="2.0"/><circle cx="421.8" cy="284.8" r="2.0"/><circle cx="435.6" cy="296.8" r="2.0"/><circle cx="442.1" cy="271.8" r="2.0"/><circle cx="487.8" cy="329.3" r="2.0"/><circle cx="411.0" cy="268.6" r="2.0"/><circle cx="438.1" cy="296.9" r="2.0"/><circle cx="446.9" cy="295.6" r="2.0"/><circle cx="451.8" cy="326.6" r="2.0"/><circle cx="435.6" cy="327.0" r="2.0"/><circle cx="414.2" cy="303.9" r="2.0"/><circle cx="438.4" cy="351.6" r="2.0"/><circle cx="412.9" cy="419.5" r="2.0"/><circle cx="475.2" cy="269.1" r="2.0"/><circle cx="457.2" cy="316.9" r="2.0"/><circle cx="431.9" cy="285.0" r="2.0"/><circle cx="474.0" cy="283.4" r="2.0"/><circle cx="422.6" cy="287.9" r="2.0"/><circle cx="482.3" cy="375.7" r="2.0"/><circle cx="385.9" cy="300.1" r="2.0"/><circle cx="435.8" cy="300.9" r="2.0"/><circle cx="414.5" cy="272.3" r="2.0"/><circle cx="432.4" cy="271.6" r="2.0"/><circle cx="449.7" cy="426.4" r="2.0"/><circle cx="415.4" cy="393.0" r="2.0"/><circle cx="436.1" cy="290.4" r="2.0"/><circle cx="414.8" cy="277.5" r="2.0"/><circle cx="428.4" cy="351.1" r="2.0"/><circle cx="452.6" cy="307.7" r="2.0"/><circle cx="389.7" cy="316.7" r="2.0"/><circle cx="474.5" cy="332.5" r="2.0"/><circle cx="423.1" cy="228.1" r="2.0"/><circle cx="412.2" cy="344.2" r="2.0"/><circle cx="408.3" cy="281.5" r="2.0"/><circle cx="407.9" cy="316.0" r="2.0"/><circle cx="454.6" cy="295.1" r="2.0"/><circle cx="440.5" cy="388.2" r="2.0"/><circle cx="445.0" cy="340.2" r="2.0"/><circle cx="402.3" cy="281.1" r="2.0"/><circle cx="431.5" cy="367.3" r="2.0"/><circle cx="478.7" cy="321.0" r="2.0"/><circle cx="423.6" cy="404.8" r="2.0"/><circle cx="386.5" cy="300.4" r="2.0"/><circle cx="414.1" cy="303.4" r="2.0"/><circle cx="429.2" cy="283.1" r="2.0"/><circle cx="459.3" cy="260.0" r="2.0"/><circle cx="401.0" cy="245.6" r="2.0"/><circle cx="443.6" cy="311.5" r="2.0"/><circle cx="449.9" cy="347.4" r="2.0"/><circle cx="408.0" cy="318.5" r="2.0"/><circle cx="435.8" cy="408.8" r="2.0"/><circle cx="412.0" cy="336.5" r="2.0"/><circle cx="441.1" cy="373.9" r="2.0"/><circle cx="437.5" cy="367.5" r="2.0"/><circle cx="393.6" cy="308.6" r="2.0"/><circle cx="493.8" cy="330.9" r="2.0"/><circle cx="427.6" cy="331.9" r="2.0"/><circle cx="429.3" cy="261.9" r="2.0"/><circle cx="404.6" cy="312.6" r="2.0"/><circle cx="430.0" cy="282.2" r="2.0"/><circle cx="421.9" cy="287.9" r="2.0"/><circle cx="386.1" cy="291.3" r="2.0"/><circle cx="464.5" cy="345.8" r="2.0"/><circle cx="418.8" cy="295.8" r="2.0"/><circle cx="468.5" cy="362.6" r="2.0"/><circle cx="428.9" cy="385.4" r="2.0"/><circle cx="463.1" cy="258.8" r="2.0"/><circle cx="446.4" cy="304.2" r="2.0"/><circle cx="452.7" cy="374.5" r="2.0"/><circle cx="483.6" cy="229.5" r="2.0"/><circle cx="449.0" cy="228.3" r="2.0"/><circle cx="481.4" cy="372.8" r="2.0"/><circle cx="423.2" cy="367.7" r="2.0"/><circle cx="456.2" cy="405.2" r="2.0"/><circle cx="454.5" cy="272.2" r="2.0"/><circle cx="426.4" cy="408.8" r="2.0"/><circle cx="465.1" cy="299.7" r="2.0"/><circle cx="458.5" cy="370.2" r="2.0"/><circle cx="493.1" cy="307.3" r="2.0"/><circle cx="435.7" cy="292.4" r="2.0"/><circle cx="498.4" cy="292.7" r="2.0"/><circle cx="478.2" cy="325.3" r="2.0"/><circle cx="460.6" cy="328.6" r="2.0"/><circle cx="441.6" cy="324.8" r="2.0"/><circle cx="496.1" cy="222.2" r="2.0"/><circle cx="452.5" cy="394.3" r="2.0"/><circle cx="475.2" cy="340.9" r="2.0"/><circle cx="494.2" cy="306.0" r="2.0"/><circle cx="431.5" cy="269.5" r="2.0"/><circle cx="482.7" cy="361.6" r="2.0"/><circle cx="438.0" cy="343.2" r="2.0"/><circle cx="477.8" cy="346.4" r="2.0"/><circle cx="448.6" cy="333.4" r="2.0"/><circle cx="449.6" cy="232.6" r="2.0"/><circle cx="479.0" cy="266.7" r="2.0"/><circle cx="489.6" cy="270.7" r="2.0"/><circle cx="468.0" cy="378.7" r="2.0"/><circle cx="430.2" cy="362.2" r="2.0"/><circle cx="426.0" cy="406.3" r="2.0"/><circle cx="452.4" cy="243.6" r="2.0"/><circle cx="454.8" cy="312.8" r="2.0"/><circle cx="456.5" cy="231.3" r="2.0"/><circle cx="148.5" cy="337.9" r="2.0"/><circle cx="140.9" cy="326.9" r="2.0"/><circle cx="159.2" cy="419.4" r="2.0"/><circle cx="137.2" cy="407.6" r="2.0"/><circle cx="127.3" cy="308.8" r="2.0"/><circle cx="106.7" cy="360.7" r="2.0"/><circle cx="141.3" cy="408.7" r="2.0"/><circle cx="127.0" cy="315.4" r="2.0"/><circle cx="148.2" cy="357.1" r="2.0"/><circle cx="123.7" cy="377.8" r="2.0"/><circle cx="141.7" cy="432.1" r="2.0"/><circle cx="129.3" cy="381.7" r="2.0"/><circle cx="164.8" cy="301.6" r="2.0"/><circle cx="129.2" cy="401.5" r="2.0"/><circle cx="104.7" cy="349.4" r="2.0"/><circle cx="114.0" cy="364.4" r="2.0"/><circle cx="104.4" cy="315.1" r="2.0"/><circle cx="122.4" cy="304.5" r="2.0"/><circle cx="110.9" cy="321.8" r="2.0"/><circle cx="148.0" cy="313.0" r="2.0"/><circle cx="124.9" cy="328.9" r="2.0"/><circle cx="176.0" cy="299.2" r="2.0"/><circle cx="167.6" cy="306.9" r="2.0"/><circle cx="155.0" cy="424.1" r="2.0"/><circle cx="163.3" cy="381.9" r="2.0"/><circle cx="165.7" cy="334.5" r="2.0"/><circle cx="146.2" cy="320.6" r="2.0"/><circle cx="141.0" cy="335.1" r="2.0"/><circle cx="154.0" cy="337.8" r="2.0"/><circle cx="126.9" cy="390.3" r="2.0"/><circle cx="110.4" cy="414.6" r="2.0"/><circle cx="146.1" cy="327.0" r="2.0"/><circle cx="113.0" cy="369.8" r="2.0"/><circle cx="146.8" cy="402.1" r="2.0"/><circle cx="135.5" cy="355.1" r="2.0"/><circle cx="125.4" cy="416.6" r="2.0"/><circle cx="156.2" cy="323.2" r="2.0"/><circle cx="109.9" cy="424.1" r="2.0"/><circle cx="118.3" cy="331.6" r="2.0"/><circle cx="156.6" cy="321.7" r="2.0"/><circle cx="143.2" cy="401.2" r="2.0"/><circle cx="111.4" cy="393.1" r="2.0"/><circle cx="312.5" cy="440.9" r="2.0"/><circle cx="377.9" cy="454.7" r="2.0"/><circle cx="415.2" cy="435.4" r="2.0"/><circle cx="351.0" cy="434.3" r="2.0"/><circle cx="383.5" cy="458.1" r="2.0"/><circle cx="378.0" cy="436.2" r="2.0"/><circle cx="368.3" cy="443.5" r="2.0"/><circle cx="400.7" cy="425.6" r="2.0"/><circle cx="389.1" cy="456.5" r="2.0"/><circle cx="405.5" cy="427.4" r="2.0"/><circle cx="394.5" cy="440.9" r="2.0"/><circle cx="337.5" cy="433.9" r="2.0"/><circle cx="320.4" cy="420.1" r="2.0"/><circle cx="340.4" cy="416.7" r="2.0"/><circle cx="339.5" cy="465.2" r="2.0"/><circle cx="336.3" cy="427.4" r="2.0"/><circle cx="352.3" cy="434.7" r="2.0"/><circle cx="415.2" cy="424.8" r="2.0"/><circle cx="369.8" cy="442.8" r="2.0"/><circle cx="329.5" cy="428.6" r="2.0"/><circle cx="416.4" cy="434.2" r="2.0"/><circle cx="397.2" cy="455.2" r="2.0"/><circle cx="366.0" cy="462.8" r="2.0"/><circle cx="318.5" cy="445.1" r="2.0"/><circle cx="331.9" cy="435.9" r="2.0"/><circle cx="323.0" cy="456.0" r="2.0"/><circle cx="368.8" cy="460.7" r="2.0"/><circle cx="375.4" cy="448.9" r="2.0"/><circle cx="411.3" cy="434.1" r="2.0"/><circle cx="312.3" cy="431.7" r="2.0"/><circle cx="377.5" cy="453.1" r="2.0"/><circle cx="353.5" cy="440.0" r="2.0"/><circle cx="391.2" cy="430.7" r="2.0"/><circle cx="397.1" cy="426.1" r="2.0"/><circle cx="382.0" cy="468.0" r="2.0"/><circle cx="359.2" cy="431.7" r="2.0"/><circle cx="353.5" cy="461.6" r="2.0"/><circle cx="349.6" cy="465.2" r="2.0"/><circle cx="393.6" cy="448.1" r="2.0"/><circle cx="328.5" cy="429.8" r="2.0"/><circle cx="359.0" cy="435.7" r="2.0"/><circle cx="377.5" cy="442.8" r="2.0"/><circle cx="338.8" cy="449.4" r="2.0"/><circle cx="350.7" cy="464.4" r="2.0"/><circle cx="400.4" cy="448.1" r="2.0"/><circle cx="346.0" cy="427.0" r="2.0"/><circle cx="365.1" cy="434.4" r="2.0"/><circle cx="359.0" cy="436.3" r="2.0"/><circle cx="396.0" cy="448.9" r="2.0"/><circle cx="329.7" cy="447.5" r="2.0"/><circle cx="264.8" cy="460.9" r="2.0"/><circle cx="304.9" cy="487.8" r="2.0"/><circle cx="259.8" cy="481.6" r="2.0"/><circle cx="322.5" cy="483.6" r="2.0"/><circle cx="320.9" cy="483.5" r="2.0"/><circle cx="273.3" cy="482.4" r="2.0"/><circle cx="301.3" cy="517.4" r="2.0"/><circle cx="290.4" cy="476.2" r="2.0"/><circle cx="291.6" cy="480.8" r="2.0"/><circle cx="299.0" cy="515.5" r="2.0"/><circle cx="293.1" cy="503.2" r="2.0"/><circle cx="250.0" cy="468.0" r="2.0"/><circle cx="248.8" cy="495.2" r="2.0"/><circle cx="280.5" cy="486.9" r="2.0"/><circle cx="259.2" cy="485.3" r="2.0"/><circle cx="279.2" cy="468.4" r="2.0"/><circle cx="261.3" cy="503.5" r="2.0"/><circle cx="243.4" cy="482.9" r="2.0"/><circle cx="306.3" cy="514.6" r="2.0"/><circle cx="276.8" cy="514.7" r="2.0"/><circle cx="266.7" cy="482.0" r="2.0"/><circle cx="259.6" cy="449.1" r="2.0"/><circle cx="395.7" cy="338.5" r="2.0"/><circle cx="392.8" cy="331.0" r="2.0"/><circle cx="397.9" cy="341.0" r="2.0"/><circle cx="392.3" cy="335.9" r="2.0"/><circle cx="396.4" cy="329.3" r="2.0"/><circle cx="395.5" cy="345.3" r="2.0"/><circle cx="394.8" cy="333.3" r="2.0"/><circle cx="400.0" cy="336.1" r="2.0"/><circle cx="394.6" cy="334.4" r="2.0"/><circle cx="394.5" cy="329.1" r="2.0"/><circle cx="390.2" cy="330.4" r="2.0"/><circle cx="396.7" cy="335.7" r="2.0"/></g>
<g fill="#e43624"><polyline points="204.0,277.0 220.0,274.0 235.0,273.5 245.0,275.0 255.0,279.0 262.0,283.0 271.0,281.0 279.0,273.0 285.0,264.0 289.5,253.0 292.0,241.0 293.0,230.0" fill="none" stroke="#e43624" stroke-width="3.4" stroke-linejoin="round"/><circle cx="290.8" cy="250.3" r="2.0"/><circle cx="281.4" cy="266.1" r="2.0"/><circle cx="272.6" cy="280.1" r="2.0"/><circle cx="271.8" cy="282.8" r="2.0"/><circle cx="291.5" cy="245.6" r="2.0"/><circle cx="282.9" cy="270.5" r="2.0"/><circle cx="286.9" cy="259.3" r="2.0"/><circle cx="239.6" cy="272.9" r="2.0"/><circle cx="289.7" cy="253.5" r="2.0"/><circle cx="248.1" cy="275.6" r="2.0"/><circle cx="213.2" cy="274.8" r="2.0"/><circle cx="281.9" cy="270.2" r="2.0"/><circle cx="281.7" cy="269.4" r="2.0"/><circle cx="260.2" cy="281.6" r="2.0"/><circle cx="234.8" cy="271.8" r="2.0"/><circle cx="286.3" cy="256.4" r="2.0"/><circle cx="219.2" cy="274.6" r="2.0"/><circle cx="239.4" cy="273.4" r="2.0"/><circle cx="244.4" cy="277.1" r="2.0"/><circle cx="278.0" cy="273.0" r="2.0"/><circle cx="293.2" cy="239.4" r="2.0"/><circle cx="273.3" cy="278.7" r="2.0"/><circle cx="237.5" cy="274.5" r="2.0"/><circle cx="287.9" cy="259.6" r="2.0"/><circle cx="291.8" cy="231.3" r="2.0"/><circle cx="290.9" cy="249.4" r="2.0"/><circle cx="218.2" cy="272.7" r="2.0"/><circle cx="291.6" cy="238.9" r="2.0"/><circle cx="266.6" cy="283.1" r="2.0"/><circle cx="263.3" cy="281.3" r="2.0"/><circle cx="289.3" cy="239.7" r="2.0"/><circle cx="222.7" cy="273.2" r="2.0"/><circle cx="288.1" cy="247.8" r="2.0"/><circle cx="208.3" cy="274.8" r="2.0"/><circle cx="251.0" cy="276.6" r="2.0"/><circle cx="285.3" cy="260.7" r="2.0"/><circle cx="229.2" cy="272.0" r="2.0"/><circle cx="215.9" cy="274.8" r="2.0"/><circle cx="249.5" cy="278.0" r="2.0"/><circle cx="292.9" cy="243.3" r="2.0"/><circle cx="249.9" cy="277.1" r="2.0"/><circle cx="266.4" cy="281.2" r="2.0"/><circle cx="291.9" cy="232.7" r="2.0"/><circle cx="257.0" cy="281.7" r="2.0"/><circle cx="273.7" cy="276.8" r="2.0"/><circle cx="234.9" cy="274.7" r="2.0"/><circle cx="260.2" cy="281.0" r="2.0"/><circle cx="230.6" cy="273.9" r="2.0"/><circle cx="247.7" cy="273.6" r="2.0"/><circle cx="233.9" cy="272.4" r="2.0"/><circle cx="269.4" cy="281.2" r="2.0"/><circle cx="211.4" cy="274.0" r="2.0"/><circle cx="253.1" cy="276.5" r="2.0"/><circle cx="243.2" cy="275.1" r="2.0"/><circle cx="280.3" cy="271.5" r="2.0"/><circle cx="265.2" cy="283.1" r="2.0"/><circle cx="277.7" cy="275.2" r="2.0"/><circle cx="233.5" cy="274.2" r="2.0"/><circle cx="287.8" cy="253.6" r="2.0"/><circle cx="248.0" cy="274.6" r="2.0"/><circle cx="279.1" cy="272.1" r="2.0"/><circle cx="229.5" cy="273.5" r="2.0"/><circle cx="268.8" cy="281.0" r="2.0"/><circle cx="246.2" cy="277.5" r="2.0"/><circle cx="203.5" cy="277.5" r="2.0"/><circle cx="287.7" cy="256.0" r="2.0"/><circle cx="232.9" cy="272.7" r="2.0"/><circle cx="283.9" cy="265.4" r="2.0"/><circle cx="274.5" cy="275.8" r="2.0"/><circle cx="251.3" cy="277.4" r="2.0"/><circle cx="292.4" cy="245.7" r="2.0"/><circle cx="252.4" cy="277.0" r="2.0"/><circle cx="230.4" cy="272.3" r="2.0"/><circle cx="286.3" cy="260.1" r="2.0"/><circle cx="287.6" cy="259.5" r="2.0"/><circle cx="204.0" cy="278.6" r="2.0"/><circle cx="286.2" cy="258.2" r="2.0"/><circle cx="285.1" cy="262.1" r="2.0"/><circle cx="268.0" cy="280.3" r="2.0"/><circle cx="228.4" cy="274.6" r="2.0"/><circle cx="214.9" cy="276.2" r="2.0"/><circle cx="274.5" cy="279.9" r="2.0"/><circle cx="218.6" cy="273.7" r="2.0"/><circle cx="216.0" cy="276.1" r="2.0"/><circle cx="239.9" cy="272.2" r="2.0"/><circle cx="239.6" cy="272.5" r="2.0"/><circle cx="272.1" cy="282.5" r="2.0"/><circle cx="293.5" cy="235.6" r="2.0"/><circle cx="244.7" cy="276.0" r="2.0"/><circle cx="293.7" cy="243.1" r="2.0"/><circle cx="261.6" cy="284.5" r="2.0"/><circle cx="266.5" cy="282.6" r="2.0"/><circle cx="262.8" cy="285.5" r="2.0"/><circle cx="259.6" cy="285.1" r="2.0"/><circle cx="264.3" cy="286.1" r="2.0"/><circle cx="255.3" cy="282.5" r="2.0"/><circle cx="259.1" cy="287.4" r="2.0"/><circle cx="263.7" cy="279.2" r="2.0"/><circle cx="253.3" cy="289.6" r="2.0"/><circle cx="264.3" cy="280.3" r="2.0"/><circle cx="255.8" cy="284.4" r="2.0"/><circle cx="271.7" cy="288.7" r="2.0"/><circle cx="259.5" cy="283.1" r="2.0"/><circle cx="275.0" cy="281.2" r="2.0"/><circle cx="272.6" cy="285.0" r="2.0"/><circle cx="262.6" cy="287.7" r="2.0"/><circle cx="265.3" cy="281.6" r="2.0"/><circle cx="251.6" cy="284.0" r="2.0"/><circle cx="265.5" cy="287.9" r="2.0"/><circle cx="244.2" cy="287.9" r="2.0"/><circle cx="266.2" cy="288.4" r="2.0"/><circle cx="267.4" cy="284.6" r="2.0"/><circle cx="264.9" cy="285.1" r="2.0"/><circle cx="257.7" cy="283.7" r="2.0"/><circle cx="262.9" cy="282.7" r="2.0"/><circle cx="252.0" cy="279.8" r="2.0"/><circle cx="265.4" cy="285.5" r="2.0"/><circle cx="262.7" cy="280.6" r="2.0"/><circle cx="267.8" cy="282.9" r="2.0"/><circle cx="247.9" cy="288.5" r="2.0"/><circle cx="251.9" cy="290.5" r="2.0"/><circle cx="265.6" cy="282.7" r="2.0"/><circle cx="246.0" cy="282.0" r="2.0"/><circle cx="272.1" cy="287.9" r="2.0"/><circle cx="263.8" cy="279.1" r="2.0"/><circle cx="259.4" cy="283.2" r="2.0"/><circle cx="265.1" cy="283.6" r="2.0"/><circle cx="264.3" cy="279.3" r="2.0"/><circle cx="257.6" cy="288.2" r="2.0"/><circle cx="252.1" cy="286.7" r="2.0"/><path d="M343.5,301.3 338.4,313.5 335.4,320.7 334.3,331.0 333.3,341.2 332.3,349.4 329.7,359.6 330.2,369.9 338.4,375.0 350.7,371.9 363.0,370.9 376.3,370.9 389.6,367.8 392.7,361.7 393.2,351.4 392.7,341.2 389.6,339.1 387.0,334.0 383.0,331.0 375.0,324.0 363.0,317.0 355.0,313.0 350.0,309.0 345.6,301.3Z M343.5,297.7 345.6,301.3 350.7,309.5 355.8,313.5 363.0,317.6 369.1,319.2 372.2,321.7 375.3,324.8 380.4,328.9 383.0,331.0 387.6,338.1 388.6,344.3 387.6,350.4 383.5,356.5 379.4,360.6 370.2,360.6 366.1,355.5 361.0,354.0 350.7,354.0 345.6,351.4 339.5,346.3 338.9,338.1 339.5,325.8 339.5,315.6 341.5,307.4 343.0,300.2Z" fill-rule="evenodd"/><circle cx="342.1" cy="307.2" r="2.0"/><circle cx="385.9" cy="368.5" r="2.0"/><circle cx="332.1" cy="348.7" r="2.0"/><circle cx="340.7" cy="376.2" r="2.0"/><circle cx="364.7" cy="372.7" r="2.0"/><circle cx="393.5" cy="346.0" r="2.0"/><circle cx="372.4" cy="368.9" r="2.0"/><circle cx="343.9" cy="302.9" r="2.0"/><circle cx="355.4" cy="370.5" r="2.0"/><circle cx="342.7" cy="305.2" r="2.0"/><circle cx="344.1" cy="311.2" r="2.0"/><circle cx="378.7" cy="371.2" r="2.0"/><circle cx="392.1" cy="352.5" r="2.0"/><circle cx="332.3" cy="323.0" r="2.0"/><circle cx="342.8" cy="302.0" r="2.0"/><circle cx="392.9" cy="341.6" r="2.0"/><circle cx="391.9" cy="362.8" r="2.0"/><circle cx="369.5" cy="371.0" r="2.0"/><circle cx="332.4" cy="323.2" r="2.0"/><circle cx="336.5" cy="320.1" r="2.0"/><circle cx="333.2" cy="344.7" r="2.0"/><circle cx="360.6" cy="369.6" r="2.0"/><circle cx="337.0" cy="373.9" r="2.0"/><circle cx="335.3" cy="334.9" r="2.0"/><circle cx="333.1" cy="351.8" r="2.0"/><circle cx="342.8" cy="305.7" r="2.0"/><circle cx="392.1" cy="355.0" r="2.0"/><circle cx="380.7" cy="372.0" r="2.0"/><circle cx="332.2" cy="332.6" r="2.0"/><circle cx="384.8" cy="370.3" r="2.0"/><circle cx="392.1" cy="361.8" r="2.0"/><circle cx="336.2" cy="319.8" r="2.0"/><circle cx="375.8" cy="368.7" r="2.0"/><circle cx="382.9" cy="368.7" r="2.0"/><circle cx="391.8" cy="348.6" r="2.0"/><circle cx="351.4" cy="371.7" r="2.0"/><circle cx="352.3" cy="373.0" r="2.0"/><circle cx="328.4" cy="368.8" r="2.0"/><circle cx="328.8" cy="359.4" r="2.0"/><circle cx="330.4" cy="359.8" r="2.0"/><circle cx="342.2" cy="302.4" r="2.0"/><circle cx="331.3" cy="370.5" r="2.0"/><circle cx="336.6" cy="339.0" r="2.0"/><circle cx="392.6" cy="349.1" r="2.0"/><circle cx="334.5" cy="353.5" r="2.0"/><circle cx="391.6" cy="365.0" r="2.0"/><circle cx="372.2" cy="369.3" r="2.0"/><circle cx="330.1" cy="365.2" r="2.0"/><circle cx="393.3" cy="359.2" r="2.0"/><circle cx="357.0" cy="371.4" r="2.0"/><circle cx="334.2" cy="372.6" r="2.0"/><circle cx="379.7" cy="371.8" r="2.0"/><circle cx="363.3" cy="371.4" r="2.0"/><circle cx="392.5" cy="348.0" r="2.0"/><circle cx="352.8" cy="372.2" r="2.0"/><circle cx="393.0" cy="348.3" r="2.0"/><circle cx="332.6" cy="338.7" r="2.0"/><circle cx="329.0" cy="353.5" r="2.0"/><circle cx="334.2" cy="328.0" r="2.0"/><circle cx="394.2" cy="346.1" r="2.0"/><circle cx="357.9" cy="372.4" r="2.0"/><circle cx="358.6" cy="370.1" r="2.0"/><circle cx="342.7" cy="307.8" r="2.0"/><circle cx="333.9" cy="329.6" r="2.0"/><circle cx="391.9" cy="353.6" r="2.0"/><circle cx="353.0" cy="374.3" r="2.0"/><circle cx="334.8" cy="326.8" r="2.0"/><circle cx="393.6" cy="353.3" r="2.0"/><circle cx="335.7" cy="322.5" r="2.0"/><circle cx="330.0" cy="362.2" r="2.0"/><circle cx="334.0" cy="375.1" r="2.0"/><circle cx="390.1" cy="354.8" r="2.0"/><circle cx="335.2" cy="340.3" r="2.0"/><circle cx="368.2" cy="371.7" r="2.0"/><circle cx="336.4" cy="320.8" r="2.0"/><circle cx="370.0" cy="371.3" r="2.0"/><circle cx="334.7" cy="334.6" r="2.0"/><circle cx="368.9" cy="370.9" r="2.0"/><circle cx="373.3" cy="371.1" r="2.0"/><circle cx="333.9" cy="344.8" r="2.0"/><circle cx="347.1" cy="373.7" r="2.0"/><circle cx="332.3" cy="348.5" r="2.0"/><circle cx="387.1" cy="366.3" r="2.0"/><circle cx="392.5" cy="355.6" r="2.0"/><circle cx="341.3" cy="309.0" r="2.0"/><circle cx="345.1" cy="371.7" r="2.0"/><circle cx="330.4" cy="373.7" r="2.0"/><circle cx="380.4" cy="370.3" r="2.0"/><circle cx="391.9" cy="343.7" r="2.0"/><circle cx="335.3" cy="317.8" r="2.0"/><polygon points="306.7,421.0 307.0,423.5 306.5,425.6 305.1,427.7 303.1,430.1 301.1,432.3 299.1,433.4 297.1,433.7 294.8,434.1 292.2,435.0 289.6,435.4 287.3,434.6 285.3,432.8 283.3,431.2 281.3,429.9 279.3,428.3 277.9,426.0 277.4,423.4 277.7,421.0 278.5,418.6 279.2,416.0 280.0,413.7 280.9,412.1 282.4,410.8 284.6,409.2 287.2,407.4 289.8,406.6 292.2,407.0 294.6,407.9 297.2,408.3 299.8,408.6 302.0,409.7 303.5,411.9 304.4,414.3 305.2,416.4 305.9,418.5"/><circle cx="303.1" cy="412.0" r="2.0"/><circle cx="297.6" cy="431.2" r="2.0"/><circle cx="283.0" cy="409.4" r="2.0"/><circle cx="292.6" cy="436.8" r="2.0"/><circle cx="306.0" cy="424.3" r="2.0"/><circle cx="295.6" cy="434.5" r="2.0"/><circle cx="293.1" cy="436.2" r="2.0"/><circle cx="283.8" cy="409.3" r="2.0"/><circle cx="302.9" cy="410.9" r="2.0"/><circle cx="291.8" cy="434.7" r="2.0"/><circle cx="278.7" cy="414.6" r="2.0"/><circle cx="279.4" cy="424.7" r="2.0"/><circle cx="306.7" cy="423.2" r="2.0"/><circle cx="280.7" cy="412.0" r="2.0"/><circle cx="289.2" cy="433.7" r="2.0"/><circle cx="302.7" cy="428.1" r="2.0"/><circle cx="280.8" cy="430.1" r="2.0"/><circle cx="286.8" cy="434.2" r="2.0"/><circle cx="281.1" cy="429.9" r="2.0"/><circle cx="278.0" cy="416.5" r="2.0"/><circle cx="297.2" cy="408.6" r="2.0"/><circle cx="306.3" cy="413.6" r="2.0"/><circle cx="291.6" cy="407.0" r="2.0"/><circle cx="280.1" cy="415.5" r="2.0"/><circle cx="304.7" cy="428.3" r="2.0"/><circle cx="279.6" cy="428.8" r="2.0"/><circle cx="288.7" cy="405.4" r="2.0"/><circle cx="302.6" cy="411.5" r="2.0"/><circle cx="292.7" cy="406.4" r="2.0"/><circle cx="285.8" cy="433.9" r="2.0"/><circle cx="278.0" cy="424.0" r="2.0"/><circle cx="284.6" cy="433.5" r="2.0"/><circle cx="302.0" cy="412.3" r="2.0"/><circle cx="281.4" cy="427.8" r="2.0"/><circle cx="278.6" cy="417.1" r="2.0"/><circle cx="303.3" cy="410.4" r="2.0"/><circle cx="305.6" cy="430.5" r="2.0"/><circle cx="307.2" cy="423.4" r="2.0"/><circle cx="278.1" cy="416.4" r="2.0"/><circle cx="281.0" cy="417.5" r="2.0"/><circle cx="316.2" cy="400.8" r="2.0"/><circle cx="310.7" cy="396.8" r="2.0"/><circle cx="316.7" cy="396.4" r="2.0"/><circle cx="315.5" cy="399.7" r="2.0"/><circle cx="317.7" cy="400.1" r="2.0"/><circle cx="314.5" cy="398.6" r="2.0"/><circle cx="305.6" cy="399.2" r="2.0"/><circle cx="317.4" cy="402.5" r="2.0"/><circle cx="320.7" cy="397.6" r="2.0"/><circle cx="309.4" cy="401.7" r="2.0"/><circle cx="311.8" cy="406.3" r="2.0"/><circle cx="315.5" cy="396.3" r="2.0"/><circle cx="311.3" cy="403.8" r="2.0"/><circle cx="305.1" cy="400.4" r="2.0"/><circle cx="307.2" cy="403.9" r="2.0"/><circle cx="311.8" cy="397.5" r="2.0"/><circle cx="305.7" cy="398.3" r="2.0"/><circle cx="301.5" cy="398.8" r="2.0"/><circle cx="324.7" cy="400.2" r="2.0"/><circle cx="312.7" cy="397.2" r="2.0"/><circle cx="315.7" cy="398.9" r="2.0"/><circle cx="309.9" cy="403.4" r="2.0"/><circle cx="333.1" cy="387.8" r="2.0"/><circle cx="338.2" cy="389.9" r="2.0"/><circle cx="333.5" cy="390.4" r="2.0"/><circle cx="336.8" cy="391.5" r="2.0"/><circle cx="329.3" cy="391.7" r="2.0"/><circle cx="329.1" cy="390.3" r="2.0"/><circle cx="339.0" cy="387.4" r="2.0"/><circle cx="325.9" cy="389.0" r="2.0"/><circle cx="328.6" cy="393.2" r="2.0"/><circle cx="323.2" cy="395.6" r="2.0"/><circle cx="338.7" cy="388.9" r="2.0"/><circle cx="331.9" cy="389.1" r="2.0"/><circle cx="334.3" cy="391.6" r="2.0"/><circle cx="334.7" cy="391.9" r="2.0"/><circle cx="345.7" cy="381.3" r="2.0"/><circle cx="311.3" cy="400.3" r="2.0"/><circle cx="315.5" cy="400.0" r="2.0"/><circle cx="313.5" cy="396.7" r="2.0"/><circle cx="326.0" cy="395.3" r="2.0"/><circle cx="330.3" cy="388.7" r="2.0"/><circle cx="321.3" cy="395.8" r="2.0"/><circle cx="320.6" cy="394.5" r="2.0"/><circle cx="340.5" cy="385.0" r="2.0"/><circle cx="335.0" cy="388.3" r="2.0"/><circle cx="313.0" cy="394.1" r="2.0"/><circle cx="307.8" cy="399.5" r="2.0"/><circle cx="315.9" cy="397.2" r="2.0"/><circle cx="335.2" cy="391.0" r="2.0"/><circle cx="315.4" cy="399.2" r="2.0"/><circle cx="339.7" cy="383.8" r="2.0"/><circle cx="301.1" cy="398.5" r="2.0"/><circle cx="344.1" cy="385.0" r="2.0"/><circle cx="288.0" cy="522.1" r="2.0"/><circle cx="289.0" cy="490.5" r="2.0"/><circle cx="311.0" cy="498.3" r="2.0"/><circle cx="317.6" cy="493.4" r="2.0"/><circle cx="303.1" cy="492.5" r="2.0"/><circle cx="292.5" cy="485.1" r="2.0"/><circle cx="328.4" cy="489.3" r="2.0"/><circle cx="310.3" cy="514.5" r="2.0"/><circle cx="320.3" cy="497.2" r="2.0"/><circle cx="317.5" cy="493.4" r="2.0"/><circle cx="303.0" cy="505.8" r="2.0"/><circle cx="312.2" cy="511.6" r="2.0"/><circle cx="308.7" cy="492.3" r="2.0"/><circle cx="314.0" cy="494.1" r="2.0"/><circle cx="308.3" cy="487.3" r="2.0"/><circle cx="313.2" cy="499.2" r="2.0"/><circle cx="327.1" cy="495.7" r="2.0"/><circle cx="295.5" cy="500.6" r="2.0"/><circle cx="331.2" cy="491.7" r="2.0"/><circle cx="303.9" cy="494.4" r="2.0"/><circle cx="285.8" cy="492.7" r="2.0"/><circle cx="309.3" cy="481.2" r="2.0"/><circle cx="316.1" cy="487.4" r="2.0"/><circle cx="294.7" cy="489.0" r="2.0"/><circle cx="316.6" cy="514.8" r="2.0"/><circle cx="322.0" cy="497.9" r="2.0"/><circle cx="306.5" cy="493.5" r="2.0"/><circle cx="319.5" cy="490.9" r="2.0"/><circle cx="314.7" cy="505.5" r="2.0"/><circle cx="303.0" cy="490.2" r="2.0"/><circle cx="315.0" cy="496.1" r="2.0"/><circle cx="309.9" cy="490.8" r="2.0"/><circle cx="310.4" cy="514.1" r="2.0"/><circle cx="323.0" cy="480.2" r="2.0"/><circle cx="311.4" cy="496.9" r="2.0"/><circle cx="311.3" cy="482.5" r="2.0"/><circle cx="309.9" cy="497.5" r="2.0"/><circle cx="305.0" cy="499.1" r="2.0"/><circle cx="289.5" cy="481.3" r="2.0"/><circle cx="311.9" cy="499.8" r="2.0"/><circle cx="309.5" cy="491.5" r="2.0"/><circle cx="312.6" cy="506.6" r="2.0"/><circle cx="318.9" cy="495.2" r="2.0"/><circle cx="306.9" cy="506.4" r="2.0"/><circle cx="315.8" cy="504.6" r="2.0"/><circle cx="308.6" cy="487.6" r="2.0"/><circle cx="312.7" cy="489.9" r="2.0"/><circle cx="321.2" cy="504.4" r="2.0"/><circle cx="291.7" cy="502.5" r="2.0"/><circle cx="322.8" cy="506.2" r="2.0"/><circle cx="306.8" cy="487.6" r="2.0"/><circle cx="319.6" cy="505.9" r="2.0"/><circle cx="311.5" cy="484.7" r="2.0"/><circle cx="297.5" cy="498.6" r="2.0"/><circle cx="303.7" cy="489.3" r="2.0"/><circle cx="314.9" cy="506.3" r="2.0"/><circle cx="292.8" cy="489.4" r="2.0"/><circle cx="322.5" cy="495.6" r="2.0"/><circle cx="308.0" cy="502.3" r="2.0"/><circle cx="300.9" cy="484.0" r="2.0"/><circle cx="311.2" cy="511.3" r="2.0"/><circle cx="320.0" cy="496.0" r="2.0"/><circle cx="319.9" cy="492.0" r="2.0"/><circle cx="300.6" cy="479.6" r="2.0"/><circle cx="313.4" cy="504.8" r="2.0"/><circle cx="314.3" cy="495.6" r="2.0"/><circle cx="307.5" cy="506.7" r="2.0"/><circle cx="310.6" cy="481.9" r="2.0"/><circle cx="323.1" cy="489.6" r="2.0"/><circle cx="314.5" cy="496.0" r="2.0"/><circle cx="320.3" cy="498.4" r="2.0"/><circle cx="321.8" cy="498.1" r="2.0"/><circle cx="306.9" cy="491.0" r="2.0"/><circle cx="316.8" cy="487.9" r="2.0"/><circle cx="319.2" cy="493.7" r="2.0"/><circle cx="302.8" cy="487.4" r="2.0"/><circle cx="309.7" cy="513.3" r="2.0"/><circle cx="317.8" cy="496.2" r="2.0"/><circle cx="303.0" cy="514.7" r="2.0"/><circle cx="308.5" cy="496.0" r="2.0"/><circle cx="307.3" cy="509.1" r="2.0"/><circle cx="312.6" cy="491.5" r="2.0"/><circle cx="312.6" cy="486.2" r="2.0"/><circle cx="301.7" cy="494.4" r="2.0"/><circle cx="285.6" cy="507.5" r="2.0"/><circle cx="328.6" cy="485.1" r="2.0"/><circle cx="309.7" cy="480.5" r="2.0"/><circle cx="312.5" cy="498.1" r="2.0"/><circle cx="317.5" cy="482.9" r="2.0"/><circle cx="305.7" cy="489.7" r="2.0"/><circle cx="308.8" cy="518.4" r="2.0"/><circle cx="309.2" cy="495.6" r="2.0"/><circle cx="306.5" cy="503.8" r="2.0"/><circle cx="333.7" cy="507.4" r="2.0"/><circle cx="324.5" cy="485.5" r="2.0"/><circle cx="320.4" cy="496.3" r="2.0"/><circle cx="322.1" cy="506.4" r="2.0"/><circle cx="316.8" cy="479.6" r="2.0"/><circle cx="312.2" cy="491.1" r="2.0"/><circle cx="315.0" cy="496.4" r="2.0"/><circle cx="320.3" cy="480.3" r="2.0"/><circle cx="304.5" cy="495.3" r="2.0"/><circle cx="313.8" cy="492.0" r="2.0"/><circle cx="310.7" cy="496.5" r="2.0"/><circle cx="320.3" cy="494.9" r="2.0"/><circle cx="313.1" cy="478.2" r="2.0"/><circle cx="287.8" cy="481.6" r="2.0"/><circle cx="314.2" cy="473.4" r="2.0"/><circle cx="314.6" cy="495.1" r="2.0"/><circle cx="311.0" cy="488.8" r="2.0"/><circle cx="307.3" cy="504.2" r="2.0"/><circle cx="314.2" cy="495.7" r="2.0"/><circle cx="306.7" cy="498.1" r="2.0"/><circle cx="321.5" cy="495.8" r="2.0"/><circle cx="307.8" cy="484.4" r="2.0"/><circle cx="311.9" cy="487.0" r="2.0"/><circle cx="298.3" cy="504.5" r="2.0"/><circle cx="305.5" cy="476.0" r="2.0"/><circle cx="304.6" cy="514.1" r="2.0"/><circle cx="310.1" cy="483.0" r="2.0"/><circle cx="301.2" cy="503.1" r="2.0"/><circle cx="314.6" cy="498.1" r="2.0"/><circle cx="309.3" cy="500.8" r="2.0"/><circle cx="324.6" cy="500.8" r="2.0"/><circle cx="309.5" cy="482.3" r="2.0"/><circle cx="314.9" cy="511.4" r="2.0"/><circle cx="316.7" cy="483.7" r="2.0"/><circle cx="312.6" cy="508.8" r="2.0"/><circle cx="305.4" cy="500.9" r="2.0"/><circle cx="321.7" cy="512.1" r="2.0"/><circle cx="296.9" cy="478.8" r="2.0"/><circle cx="314.3" cy="502.9" r="2.0"/><circle cx="307.9" cy="495.8" r="2.0"/><circle cx="307.4" cy="507.8" r="2.0"/><circle cx="291.4" cy="498.5" r="2.0"/><circle cx="299.7" cy="489.3" r="2.0"/><circle cx="297.4" cy="487.1" r="2.0"/><circle cx="310.8" cy="496.3" r="2.0"/><circle cx="326.8" cy="493.8" r="2.0"/><circle cx="314.1" cy="499.5" r="2.0"/><circle cx="313.3" cy="510.4" r="2.0"/><circle cx="312.2" cy="497.5" r="2.0"/><circle cx="310.0" cy="496.0" r="2.0"/><circle cx="310.5" cy="505.8" r="2.0"/><circle cx="311.2" cy="496.7" r="2.0"/><circle cx="310.6" cy="503.5" r="2.0"/><circle cx="306.8" cy="505.2" r="2.0"/><circle cx="305.9" cy="502.8" r="2.0"/><circle cx="328.0" cy="498.3" r="2.0"/><circle cx="310.2" cy="484.4" r="2.0"/><circle cx="317.6" cy="496.1" r="2.0"/><circle cx="319.1" cy="489.5" r="2.0"/><circle cx="315.6" cy="513.8" r="2.0"/><circle cx="314.6" cy="492.8" r="2.0"/><circle cx="299.4" cy="495.9" r="2.0"/><circle cx="316.8" cy="501.9" r="2.0"/><circle cx="301.1" cy="485.9" r="2.0"/><circle cx="302.3" cy="485.9" r="2.0"/><circle cx="308.6" cy="498.6" r="2.0"/><circle cx="328.1" cy="497.9" r="2.0"/><circle cx="323.9" cy="479.7" r="2.0"/><circle cx="324.7" cy="503.9" r="2.0"/><circle cx="314.9" cy="504.1" r="2.0"/><circle cx="316.5" cy="514.9" r="2.0"/><circle cx="318.2" cy="478.8" r="2.0"/><circle cx="295.5" cy="511.9" r="2.0"/><circle cx="310.3" cy="509.0" r="2.0"/><circle cx="308.0" cy="489.5" r="2.0"/><circle cx="308.0" cy="499.1" r="2.0"/><circle cx="312.7" cy="489.9" r="2.0"/><circle cx="323.6" cy="509.7" r="2.0"/><circle cx="294.9" cy="482.4" r="2.0"/><circle cx="274.3" cy="495.2" r="2.0"/><circle cx="313.2" cy="489.0" r="2.0"/><circle cx="301.1" cy="497.9" r="2.0"/><circle cx="313.6" cy="509.0" r="2.0"/><circle cx="329.4" cy="506.9" r="2.0"/><circle cx="335.1" cy="484.7" r="2.0"/><circle cx="325.0" cy="505.9" r="2.0"/><circle cx="292.4" cy="489.3" r="2.0"/><circle cx="321.8" cy="501.2" r="2.0"/><circle cx="288.2" cy="491.3" r="2.0"/><circle cx="343.1" cy="513.3" r="2.0"/><circle cx="314.6" cy="521.3" r="2.0"/><circle cx="295.1" cy="497.3" r="2.0"/><circle cx="331.9" cy="494.7" r="2.0"/><circle cx="290.9" cy="509.3" r="2.0"/><circle cx="344.7" cy="459.9" r="2.0"/><circle cx="316.1" cy="480.2" r="2.0"/><circle cx="307.1" cy="477.7" r="2.0"/><circle cx="364.4" cy="489.2" r="2.0"/><circle cx="313.9" cy="488.8" r="2.0"/><circle cx="293.4" cy="492.8" r="2.0"/><circle cx="317.1" cy="527.7" r="2.0"/><circle cx="318.7" cy="524.8" r="2.0"/><circle cx="291.9" cy="501.1" r="2.0"/><circle cx="304.4" cy="475.2" r="2.0"/><circle cx="386.7" cy="496.2" r="2.0"/><circle cx="317.8" cy="488.1" r="2.0"/><circle cx="301.6" cy="483.6" r="2.0"/><circle cx="333.3" cy="493.6" r="2.0"/><circle cx="310.1" cy="502.9" r="2.0"/><circle cx="288.8" cy="503.7" r="2.0"/><circle cx="309.6" cy="507.0" r="2.0"/><circle cx="305.4" cy="500.6" r="2.0"/><circle cx="323.2" cy="515.3" r="2.0"/><circle cx="299.4" cy="515.4" r="2.0"/><circle cx="293.5" cy="497.0" r="2.0"/><circle cx="315.6" cy="502.3" r="2.0"/><circle cx="263.6" cy="484.5" r="2.0"/><circle cx="309.4" cy="514.6" r="2.0"/><circle cx="299.1" cy="523.9" r="2.0"/><circle cx="277.4" cy="501.2" r="2.0"/><circle cx="323.7" cy="500.3" r="2.0"/><circle cx="318.2" cy="514.8" r="2.0"/><circle cx="297.1" cy="509.3" r="2.0"/><circle cx="334.0" cy="496.3" r="2.0"/><circle cx="267.2" cy="481.2" r="2.0"/><circle cx="296.1" cy="483.3" r="2.0"/><circle cx="321.5" cy="487.3" r="2.0"/><circle cx="362.0" cy="509.0" r="2.0"/><circle cx="287.2" cy="495.5" r="2.0"/><circle cx="343.2" cy="510.8" r="2.0"/><circle cx="292.9" cy="516.4" r="2.0"/><circle cx="303.6" cy="535.0" r="2.0"/><circle cx="302.1" cy="509.4" r="2.0"/><circle cx="324.2" cy="493.0" r="2.0"/><circle cx="310.0" cy="518.3" r="2.0"/><circle cx="322.8" cy="499.0" r="2.0"/><circle cx="321.8" cy="527.6" r="2.0"/><circle cx="331.4" cy="507.5" r="2.0"/><circle cx="319.5" cy="475.3" r="2.0"/><circle cx="315.7" cy="492.3" r="2.0"/><circle cx="327.5" cy="490.4" r="2.0"/><circle cx="321.9" cy="483.4" r="2.0"/><circle cx="330.7" cy="488.5" r="2.0"/><circle cx="312.4" cy="509.1" r="2.0"/><circle cx="306.6" cy="500.1" r="2.0"/><circle cx="334.0" cy="528.0" r="2.0"/><circle cx="277.3" cy="485.7" r="2.0"/><polyline points="140.0,453.0 144.4,444.2 151.8,439.8 162.1,438.3 174.0,439.8 176.9,442.7 171.0,450.1 169.5,456.0 174.0,460.5 182.8,462.0 194.6,461.2 202.0,463.4 204.3,469.4 202.0,475.3" fill="none" stroke="#e43624" stroke-width="4" stroke-linejoin="round"/><circle cx="148.8" cy="441.0" r="2.0"/><circle cx="145.8" cy="445.5" r="2.0"/><circle cx="183.8" cy="461.8" r="2.0"/><circle cx="201.1" cy="462.4" r="2.0"/><circle cx="142.8" cy="447.7" r="2.0"/><circle cx="160.0" cy="439.6" r="2.0"/><circle cx="170.2" cy="458.0" r="2.0"/><circle cx="148.8" cy="440.2" r="2.0"/><circle cx="167.8" cy="436.8" r="2.0"/><circle cx="203.9" cy="467.4" r="2.0"/><circle cx="174.1" cy="440.9" r="2.0"/><circle cx="187.9" cy="461.4" r="2.0"/><circle cx="173.0" cy="450.0" r="2.0"/><circle cx="175.4" cy="446.3" r="2.0"/><circle cx="170.8" cy="451.0" r="2.0"/><circle cx="163.6" cy="438.5" r="2.0"/><circle cx="174.8" cy="460.9" r="2.0"/><circle cx="177.0" cy="443.0" r="2.0"/><circle cx="201.6" cy="463.6" r="2.0"/><circle cx="145.1" cy="445.1" r="2.0"/><circle cx="202.1" cy="473.7" r="2.0"/><circle cx="140.4" cy="449.6" r="2.0"/><circle cx="144.1" cy="443.3" r="2.0"/><circle cx="169.3" cy="437.8" r="2.0"/><circle cx="147.4" cy="442.8" r="2.0"/><circle cx="160.0" cy="436.4" r="2.0"/><circle cx="203.6" cy="471.8" r="2.0"/><circle cx="192.7" cy="460.2" r="2.0"/><circle cx="201.8" cy="474.6" r="2.0"/><circle cx="157.6" cy="440.1" r="2.0"/><circle cx="174.7" cy="460.5" r="2.0"/><circle cx="141.2" cy="451.9" r="2.0"/><circle cx="162.1" cy="438.0" r="2.0"/><circle cx="193.7" cy="460.6" r="2.0"/><circle cx="174.6" cy="459.8" r="2.0"/><circle cx="173.8" cy="458.9" r="2.0"/><circle cx="146.8" cy="444.4" r="2.0"/><circle cx="144.4" cy="445.8" r="2.0"/><circle cx="192.2" cy="461.0" r="2.0"/><circle cx="202.8" cy="471.3" r="2.0"/><circle cx="170.5" cy="455.7" r="2.0"/><circle cx="173.0" cy="442.9" r="2.0"/><circle cx="176.7" cy="462.1" r="2.0"/><circle cx="166.4" cy="439.3" r="2.0"/><circle cx="140.1" cy="451.0" r="2.0"/><circle cx="173.0" cy="458.0" r="2.0"/><circle cx="175.0" cy="461.4" r="2.0"/><circle cx="170.1" cy="450.7" r="2.0"/><circle cx="188.8" cy="461.5" r="2.0"/><circle cx="161.8" cy="436.7" r="2.0"/><circle cx="204.2" cy="469.5" r="2.0"/><circle cx="177.3" cy="461.0" r="2.0"/><circle cx="179.9" cy="462.5" r="2.0"/><circle cx="181.4" cy="462.5" r="2.0"/><circle cx="191.5" cy="460.2" r="2.0"/><circle cx="145.7" cy="444.3" r="2.0"/><circle cx="140.7" cy="449.0" r="2.0"/><circle cx="201.5" cy="466.9" r="2.0"/><circle cx="172.5" cy="447.1" r="2.0"/><circle cx="174.7" cy="446.3" r="2.0"/><circle cx="191.4" cy="487.5" r="2.0"/><circle cx="197.0" cy="499.1" r="2.0"/><circle cx="203.6" cy="502.2" r="2.0"/><circle cx="191.6" cy="486.6" r="2.0"/><circle cx="198.2" cy="499.5" r="2.0"/><circle cx="196.2" cy="495.2" r="2.0"/><circle cx="193.3" cy="489.1" r="2.0"/><circle cx="197.4" cy="498.9" r="2.0"/><circle cx="138.0" cy="460.9" r="2.0"/><circle cx="112.0" cy="455.6" r="2.0"/><circle cx="130.6" cy="475.8" r="2.0"/><circle cx="125.0" cy="461.5" r="2.0"/><circle cx="133.2" cy="485.7" r="2.0"/><circle cx="121.7" cy="468.8" r="2.0"/><circle cx="132.6" cy="475.0" r="2.0"/><circle cx="134.0" cy="466.0" r="2.0"/><circle cx="125.0" cy="466.7" r="2.0"/><circle cx="116.9" cy="467.1" r="2.0"/><circle cx="119.5" cy="474.9" r="2.0"/><circle cx="119.3" cy="470.7" r="2.0"/><circle cx="114.8" cy="458.0" r="2.0"/><circle cx="134.7" cy="460.4" r="2.0"/><circle cx="138.1" cy="479.2" r="2.0"/><circle cx="118.3" cy="470.2" r="2.0"/><circle cx="120.4" cy="464.1" r="2.0"/><circle cx="133.1" cy="468.8" r="2.0"/><circle cx="130.6" cy="463.3" r="2.0"/><circle cx="115.9" cy="483.1" r="2.0"/><circle cx="119.5" cy="459.2" r="2.0"/><circle cx="120.5" cy="480.3" r="2.0"/><circle cx="120.6" cy="463.0" r="2.0"/><circle cx="127.7" cy="479.6" r="2.0"/><circle cx="120.2" cy="466.9" r="2.0"/><circle cx="120.3" cy="487.1" r="2.0"/><circle cx="120.7" cy="474.0" r="2.0"/><circle cx="103.9" cy="471.7" r="2.0"/><circle cx="122.5" cy="466.9" r="2.0"/><circle cx="118.4" cy="456.7" r="2.0"/><circle cx="108.8" cy="471.6" r="2.0"/><circle cx="116.3" cy="469.1" r="2.0"/><circle cx="120.4" cy="465.1" r="2.0"/><circle cx="115.5" cy="488.2" r="2.0"/><circle cx="112.2" cy="465.0" r="2.0"/><circle cx="106.8" cy="446.5" r="2.0"/><circle cx="104.2" cy="470.1" r="2.0"/><circle cx="111.7" cy="461.6" r="2.0"/><circle cx="120.8" cy="469.7" r="2.0"/><circle cx="112.9" cy="450.4" r="2.0"/><circle cx="112.3" cy="479.8" r="2.0"/><circle cx="371.8" cy="567.0" r="2.0"/><circle cx="381.3" cy="562.0" r="2.0"/><circle cx="405.0" cy="555.4" r="2.0"/><circle cx="421.2" cy="543.6" r="2.0"/><circle cx="424.2" cy="534.7" r="2.0"/><circle cx="424.2" cy="547.7" r="2.0"/><circle cx="437.5" cy="525.8" r="2.0"/><circle cx="437.5" cy="531.4" r="2.0"/><circle cx="447.8" cy="533.8" r="2.0"/><circle cx="447.8" cy="539.1" r="2.0"/><circle cx="320.6" cy="574.6" r="2.0"/><circle cx="237.9" cy="556.0" r="2.0"/><circle cx="240.0" cy="574.8" r="2.0"/><circle cx="253.7" cy="583.6" r="2.0"/><circle cx="255.3" cy="586.7" r="2.0"/><circle cx="125.5" cy="283.6" r="2.0"/><circle cx="200.0" cy="497.0" r="2.0"/><circle cx="203.0" cy="505.0" r="2.0"/><circle cx="208.0" cy="510.0" r="2.0"/><circle cx="286.0" cy="465.0" r="2.0"/><circle cx="278.0" cy="470.0" r="2.0"/><circle cx="345.0" cy="495.0" r="2.0"/><circle cx="350.0" cy="510.0" r="2.0"/><circle cx="345.0" cy="520.0" r="2.0"/><circle cx="330.0" cy="540.0" r="2.0"/><circle cx="300.0" cy="530.0" r="2.0"/><circle cx="290.0" cy="525.0" r="2.0"/><circle cx="283.0" cy="500.0" r="2.0"/></g>
<g fill="#000"><rect x="448" y="432" width="3.8" height="2.2"/><path d="M443.3,440.2 L443.3,436.5 L445.1,434.3 L454.7,434.3 L456.1,436.5 L456.1,440.2 Z"/><path d="M440.9,440 L458.9,440 L458.9,441.8 L456.3,444.1 L456.1,449.3 L443.7,449.3 L443.5,444.1 L440.9,441.8 Z"/></g><path d="M445.1,438.3 Q449.7,434.6 454.3,438.3" fill="none" stroke="#fff" stroke-width="1"/><path d="M438.2,449.9 q1.5,1.6 3,0 q1.5,1.6 3,0 q1.5,1.6 3,0 q1.5,1.6 3,0 q1.5,1.6 3,0 q1.5,1.6 3,0 q1.5,1.6 3,0 q1.5,1.6 3,0" fill="none" stroke="#000" stroke-width="1.5"/><path d="M438.2,453.2 q1.5,1.6 3,0 q1.5,1.6 3,0 q1.5,1.6 3,0 q1.5,1.6 3,0 q1.5,1.6 3,0 q1.5,1.6 3,0 q1.5,1.6 3,0 q1.5,1.6 3,0" fill="none" stroke="#000" stroke-width="1.5"/>
</g>
<rect x="102.6" y="97.4" width="693.8" height="692.2" fill="none" stroke="#000" stroke-width="1.3"/>
<rect x="101.5" y="719.6" width="696" height="71.4" fill="#fff" fill-opacity="0.34"/>
<line x1="101.5" y1="720.1" x2="797.5" y2="720.1" stroke="#fff" stroke-opacity="0.25" stroke-width="1"/>
<rect x="123.5" y="738.8" width="117" height="10.2" fill="#636363"/>
<rect x="153.8" y="740.3" width="27" height="7.4" fill="#fff"/>
<text x="246.5" y="748.6" font-size="13.3" fill="#6a6f86" text-anchor="start" >km</text>
<text x="123.6" y="772.5" font-size="13.3" fill="#6a6f86" text-anchor="middle" >0</text>
<text x="181.7" y="772.5" font-size="13.3" fill="#6a6f86" text-anchor="middle" >50</text>
<text x="239.5" y="772.5" font-size="13.3" fill="#6a6f86" text-anchor="middle" >100</text>
<text x="117.7" y="784.0" font-size="11.0" fill="#000" text-anchor="start" textLength="153.5" lengthAdjust="spacingAndGlyphs" >Web-Mercator (EPSG:3857)</text>
<rect x="346" y="731" width="34.5" height="24.7" fill="#9dd49a" stroke="#5aa95a" stroke-width="1.3"/>
<text x="388.0" y="746.9" font-size="13.8" fill="#000" text-anchor="start" textLength="102.3" lengthAdjust="spacingAndGlyphs" >Nature reserves</text>
<text x="311.6" y="770.0" font-size="10.9" fill="#000" text-anchor="start" textLength="323.4" lengthAdjust="spacingAndGlyphs" >Forcing data: BSHcmod v4 (currents), DWD ICON (winds)</text>
<text x="311.6" y="783.8" font-size="10.9" fill="#000" text-anchor="start" textLength="404.4" lengthAdjust="spacingAndGlyphs" >Map data: © Natural Earth; HELCOM Map &amp; Data Service; GEBCO 2024</text>
<g fill="none"><path d="M735.0,729.4 C735.6,727.9 736.7,725.8 738.4,724.8 C740.1,723.8 743.0,723.4 745.3,723.4 C747.6,723.4 750.2,723.6 752.1,724.8 C754.0,726.0 755.3,728.8 756.6,730.5 C757.9,732.2 758.4,733.2 760.0,735.1 C761.6,737.0 764.9,740.0 766.3,741.9 C767.7,743.8 768.3,745.1 768.6,746.4 C768.9,747.7 768.8,748.8 768.0,749.9 C767.2,751.0 765.3,752.0 764.0,752.7 C762.7,753.5 761.2,753.5 760.0,754.4 C758.8,755.2 758.0,756.7 756.6,757.8 C755.2,758.9 753.4,760.6 751.5,761.2 C749.6,761.8 747.3,761.6 745.3,761.2 C743.3,760.8 741.3,760.0 739.6,759.0 C737.9,758.0 735.9,756.5 735.0,755.0 C734.1,753.5 734.5,752.3 734.5,749.9 C734.5,747.5 735.0,743.5 735.0,740.8 C735.0,738.1 734.5,735.8 734.5,733.9 C734.5,732.0 734.4,730.9 735.0,729.4Z" stroke="#5fd0df" stroke-width="0.65"/><path d="M736.4,731.1 C737.0,729.8 737.9,728.1 739.4,727.2 C740.8,726.3 743.3,726.0 745.3,726.0 C747.3,726.0 749.5,726.2 751.1,727.2 C752.8,728.2 753.9,730.6 755.0,732.1 C756.2,733.6 756.6,734.4 757.9,736.1 C759.3,737.7 762.1,740.3 763.4,741.9 C764.6,743.5 765.1,744.6 765.3,745.8 C765.6,746.9 765.5,747.9 764.8,748.8 C764.2,749.7 762.5,750.5 761.4,751.2 C760.2,751.8 759.0,751.9 757.9,752.6 C756.9,753.4 756.2,754.6 755.0,755.6 C753.8,756.5 752.3,758.0 750.6,758.5 C749.0,759.0 747.0,758.8 745.3,758.5 C743.6,758.2 741.9,757.5 740.4,756.6 C738.9,755.7 737.2,754.5 736.4,753.2 C735.7,751.9 736.0,750.8 736.0,748.8 C736.0,746.7 736.4,743.2 736.4,741.0 C736.4,738.7 736.0,736.7 736.0,735.0 C736.0,733.4 735.9,732.5 736.4,731.1Z" stroke="#3fb4c8" stroke-width="0.65"/><path d="M737.9,732.9 C738.4,731.8 739.1,730.3 740.3,729.6 C741.6,728.9 743.7,728.6 745.3,728.6 C746.9,728.6 748.8,728.7 750.2,729.6 C751.6,730.4 752.5,732.5 753.4,733.7 C754.4,734.9 754.7,735.6 755.9,737.0 C757.0,738.4 759.4,740.5 760.4,741.9 C761.5,743.3 761.9,744.2 762.1,745.1 C762.3,746.1 762.2,746.9 761.6,747.7 C761.1,748.4 759.7,749.1 758.8,749.7 C757.8,750.2 756.8,750.3 755.9,750.9 C755.0,751.5 754.5,752.5 753.4,753.3 C752.4,754.2 751.1,755.4 749.8,755.8 C748.4,756.2 746.7,756.1 745.3,755.8 C743.9,755.5 742.4,755.0 741.2,754.2 C740.0,753.5 738.5,752.4 737.9,751.3 C737.3,750.2 737.5,749.4 737.5,747.7 C737.5,746.0 737.9,743.0 737.9,741.1 C737.9,739.2 737.5,737.5 737.5,736.1 C737.5,734.8 737.4,734.0 737.9,732.9Z" stroke="#5fd0df" stroke-width="0.65"/><path d="M739.3,734.6 C739.7,733.8 740.3,732.6 741.3,732.0 C742.3,731.4 744.0,731.2 745.3,731.2 C746.6,731.2 748.2,731.3 749.2,732.0 C750.3,732.7 751.1,734.3 751.9,735.3 C752.6,736.3 752.9,736.9 753.8,738.0 C754.8,739.1 756.6,740.8 757.5,741.9 C758.3,743.0 758.6,743.7 758.8,744.5 C759.0,745.3 758.9,745.9 758.5,746.5 C758.0,747.1 756.9,747.7 756.1,748.2 C755.4,748.6 754.5,748.7 753.8,749.1 C753.1,749.6 752.7,750.5 751.9,751.1 C751.0,751.8 750.0,752.8 748.9,753.1 C747.8,753.4 746.5,753.3 745.3,753.1 C744.1,752.9 743.0,752.4 742.0,751.8 C741.0,751.2 739.8,750.4 739.3,749.5 C738.8,748.6 739.0,747.9 739.0,746.5 C739.0,745.2 739.3,742.8 739.3,741.3 C739.3,739.7 739.0,738.4 739.0,737.3 C739.0,736.2 738.9,735.5 739.3,734.6Z" stroke="#3fb4c8" stroke-width="0.65"/><path d="M740.8,736.4 C741.1,735.7 741.5,734.8 742.3,734.4 C743.0,733.9 744.3,733.8 745.3,733.8 C746.3,733.8 747.5,733.9 748.3,734.4 C749.1,734.9 749.7,736.1 750.3,736.9 C750.9,737.6 751.1,738.1 751.8,738.9 C752.5,739.7 753.9,741.1 754.5,741.9 C755.2,742.7 755.4,743.3 755.6,743.9 C755.7,744.5 755.6,745.0 755.3,745.4 C755.0,745.9 754.1,746.3 753.5,746.7 C752.9,747.0 752.3,747.0 751.8,747.4 C751.2,747.8 750.9,748.4 750.3,748.9 C749.6,749.4 748.9,750.1 748.0,750.4 C747.2,750.6 746.2,750.6 745.3,750.4 C744.4,750.2 743.5,749.9 742.8,749.4 C742.0,749.0 741.1,748.3 740.8,747.7 C740.4,747.0 740.5,746.5 740.5,745.4 C740.5,744.4 740.8,742.6 740.8,741.4 C740.8,740.2 740.5,739.2 740.5,738.4 C740.5,737.5 740.5,737.1 740.8,736.4Z" stroke="#5fd0df" stroke-width="0.65"/><path d="M742.2,738.1 C742.4,737.7 742.7,737.1 743.2,736.8 C743.7,736.5 744.6,736.4 745.3,736.4 C746.0,736.4 746.8,736.4 747.3,736.8 C747.9,737.1 748.3,738.0 748.7,738.5 C749.1,739.0 749.2,739.3 749.7,739.9 C750.2,740.4 751.2,741.3 751.6,741.9 C752.0,742.5 752.2,742.9 752.3,743.2 C752.4,743.6 752.3,744.0 752.1,744.3 C751.9,744.6 751.3,744.9 750.9,745.1 C750.5,745.4 750.1,745.4 749.7,745.6 C749.3,745.9 749.1,746.3 748.7,746.7 C748.3,747.0 747.7,747.5 747.2,747.7 C746.6,747.9 745.9,747.8 745.3,747.7 C744.7,747.6 744.1,747.3 743.6,747.0 C743.1,746.7 742.5,746.3 742.2,745.8 C742.0,745.4 742.1,745.0 742.1,744.3 C742.1,743.6 742.2,742.4 742.2,741.6 C742.2,740.8 742.1,740.1 742.1,739.5 C742.1,738.9 742.0,738.6 742.2,738.1Z" stroke="#3fb4c8" stroke-width="0.65"/><path d="M713.4,755.0 C713.8,754.0 714.4,753.0 715.7,752.1 C717.0,751.2 719.5,750.6 721.4,749.9 C723.3,749.2 725.6,749.0 727.1,748.1 C728.6,747.2 729.4,745.8 730.5,744.7 C731.6,743.6 732.8,742.0 733.9,741.3 C735.0,740.5 736.0,740.4 737.3,740.2 C738.6,740.0 740.2,739.7 741.9,739.9 C743.6,740.1 745.6,740.6 747.5,741.3 C749.4,742.0 751.5,743.0 753.2,744.2 C754.9,745.4 756.8,747.2 757.8,748.7 C758.8,750.2 759.5,751.6 759.5,753.3 C759.5,755.0 758.8,757.4 757.8,759.0 C756.8,760.6 754.9,762.0 753.2,762.9 C751.5,763.8 749.4,764.5 747.5,764.6 C745.6,764.7 743.9,763.9 741.9,763.5 C739.9,763.1 737.8,762.7 735.6,762.4 C733.4,762.1 731.2,761.7 728.8,761.8 C726.4,761.9 723.5,763.0 721.4,762.9 C719.3,762.8 717.6,762.1 716.3,761.2 C715.0,760.4 713.9,758.8 713.4,757.8 C712.9,756.8 713.0,756.0 713.4,755.0Z" stroke="#1787a2" stroke-width="1.9"/><path d="M731.9,722.6 A19,19 0 0 0 721.1,749.6" stroke="#d81f3d" stroke-width="1.5"/><path d="M731.6,726 A16,16 0 0 0 722.4,737" stroke="#d83050" stroke-width="0.6"/><path d="M729.6,731.1 A12,12 0 1 0 749.3,742.5" stroke="#d81f3d" stroke-width="1.4"/><path d="M731.9,725.7 A15,15 0 0 1 752.1,742.5" stroke="#e0506a" stroke-width="0.7"/></g>
<text x="740.2" y="782.8" font-size="16.2" fill="#0c3a72" text-anchor="start" textLength="50.2" lengthAdjust="spacingAndGlyphs" stroke="#0c3a72" stroke-width="0.7">hereon</text>
<text x="753.0" y="771.4" font-size="3.2" fill="#223" text-anchor="start" textLength="37.5" lengthAdjust="spacingAndGlyphs" >HELMHOLTZ-ZENTRUM</text>
<text x="94.2" y="146.1" font-size="19.8" fill="#000" text-anchor="end" textLength="47.3" lengthAdjust="spacingAndGlyphs" >56°N</text>
<text x="94.2" y="260.0" font-size="19.8" fill="#000" text-anchor="end" textLength="66.4" lengthAdjust="spacingAndGlyphs" >55.5°N</text>
<text x="94.2" y="372.6" font-size="19.8" fill="#000" text-anchor="end" textLength="47.3" lengthAdjust="spacingAndGlyphs" >55°N</text>
<text x="94.2" y="483.7" font-size="19.8" fill="#000" text-anchor="end" textLength="66.4" lengthAdjust="spacingAndGlyphs" >54.5°N</text>
<text x="94.2" y="593.4" font-size="19.8" fill="#000" text-anchor="end" textLength="47.3" lengthAdjust="spacingAndGlyphs" >54°N</text>
<text x="94.2" y="701.9" font-size="19.8" fill="#000" text-anchor="end" textLength="66.4" lengthAdjust="spacingAndGlyphs" >53.5°N</text>
<text x="116.7" y="813.3" font-size="19.8" fill="#000" text-anchor="middle" textLength="45.5" lengthAdjust="spacingAndGlyphs" >13°E</text>
<text x="245.5" y="813.3" font-size="19.8" fill="#000" text-anchor="middle" textLength="45.5" lengthAdjust="spacingAndGlyphs" >14°E</text>
<text x="374.3" y="813.3" font-size="19.8" fill="#000" text-anchor="middle" textLength="45.5" lengthAdjust="spacingAndGlyphs" >15°E</text>
<text x="503.2" y="813.3" font-size="19.8" fill="#000" text-anchor="middle" textLength="45.5" lengthAdjust="spacingAndGlyphs" >16°E</text>
<text x="632.0" y="813.3" font-size="19.8" fill="#000" text-anchor="middle" textLength="45.5" lengthAdjust="spacingAndGlyphs" >17°E</text>
<text x="760.8" y="813.3" font-size="19.8" fill="#000" text-anchor="middle" textLength="45.5" lengthAdjust="spacingAndGlyphs" >18°E</text>
<rect x="879.2" y="108.1" width="13.8" height="13.6" fill="#e63725"/>
<text x="907.2" y="121.0" font-size="19.8" fill="#000" text-anchor="start" textLength="89.0" lengthAdjust="spacingAndGlyphs" >Stranded</text>
<rect x="879.2" y="133.2" width="13.8" height="13.6" fill="#1771b7"/>
<text x="907.2" y="146.1" font-size="19.8" fill="#000" text-anchor="start" textLength="110.8" lengthAdjust="spacingAndGlyphs" >Evaporated</text>
<rect x="879.2" y="158.2" width="13.8" height="13.6" fill="#585858"/>
<text x="907.2" y="171.1" font-size="19.8" fill="#000" text-anchor="start" textLength="77.6" lengthAdjust="spacingAndGlyphs" >Floating</text>
<rect x="877.2" y="717.1" width="48.3" height="77.2" fill="#e63725"/>
<text x="872.0" y="703.5" font-size="19.8" fill="#000" text-anchor="start" textLength="59.4" lengthAdjust="spacingAndGlyphs" >11.0%</text>
<rect x="957.9" y="500.1" width="48.3" height="294.2" fill="#1771b7"/>
<text x="952.3" y="485.8" font-size="19.8" fill="#000" text-anchor="start" textLength="59.7" lengthAdjust="spacingAndGlyphs" >42.0%</text>
<rect x="1038.6" y="465.1" width="48.3" height="329.2" fill="#585858"/>
<text x="1033.0" y="450.9" font-size="19.8" fill="#000" text-anchor="start" textLength="59.2" lengthAdjust="spacingAndGlyphs" >47.0%</text>
</svg>
</body></html>
